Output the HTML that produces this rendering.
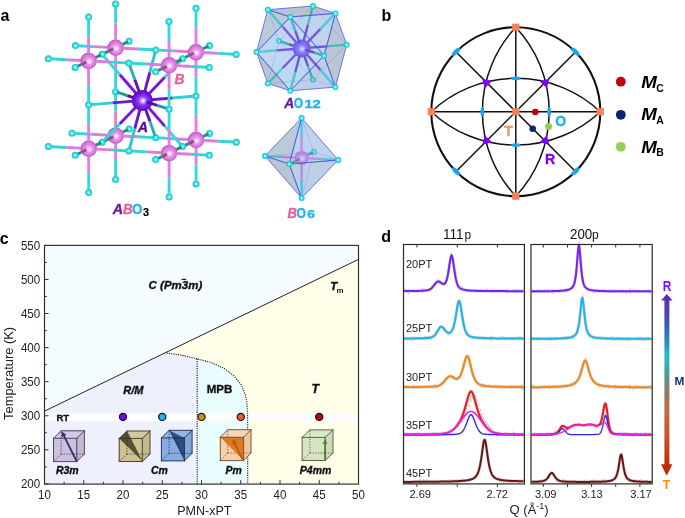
<!DOCTYPE html>
<html><head><meta charset="utf-8"><style>
html,body{margin:0;padding:0;background:#fff;width:685px;height:518px;overflow:hidden;font-family:"Liberation Sans",sans-serif;}
svg{display:block;will-change:transform}
</style></head><body>
<svg width="685" height="518" viewBox="0 0 685 518">
<defs>
<radialGradient id="gA" cx="0.5" cy="0.5" r="0.5" fx="0.54" fy="0.52">
 <stop offset="0" stop-color="#ffffff"/><stop offset="0.12" stop-color="#e2ccff"/><stop offset="0.4" stop-color="#8c40f2"/><stop offset="0.8" stop-color="#6a16d6"/><stop offset="1" stop-color="#5208b0"/></radialGradient>
<radialGradient id="gB" cx="0.5" cy="0.5" r="0.5" fx="0.55" fy="0.55">
 <stop offset="0" stop-color="#ffffff"/><stop offset="0.14" stop-color="#fce2fc"/><stop offset="0.42" stop-color="#ea94ea"/><stop offset="0.8" stop-color="#d674dc"/><stop offset="1" stop-color="#ac56b8"/></radialGradient>
<radialGradient id="gO" cx="0.5" cy="0.5" r="0.5" fx="0.52" fy="0.52">
 <stop offset="0" stop-color="#e8ffff"/><stop offset="0.18" stop-color="#9ff8f8"/><stop offset="0.5" stop-color="#3ae6e6"/><stop offset="1" stop-color="#1ab8c0"/></radialGradient>
<radialGradient id="gA2" cx="0.5" cy="0.5" r="0.5" fx="0.54" fy="0.54">
 <stop offset="0" stop-color="#ffffff"/><stop offset="0.12" stop-color="#e8dcff"/><stop offset="0.4" stop-color="#9460ff"/><stop offset="0.85" stop-color="#6a28ec"/><stop offset="1" stop-color="#5418d0"/></radialGradient>
<radialGradient id="gB2" cx="0.5" cy="0.5" r="0.5" fx="0.55" fy="0.55">
 <stop offset="0" stop-color="#ffffff"/><stop offset="0.15" stop-color="#fce0fc"/><stop offset="0.45" stop-color="#e890ee"/><stop offset="0.85" stop-color="#cc6ad8"/><stop offset="1" stop-color="#b056c4"/></radialGradient>
</defs>
<rect width="685" height="518" fill="#fff"/>
<g id="pa"><circle cx="129.1" cy="129.1" r="3.5" fill="url(#gO)"/>
<line x1="123.1" y1="132.0" x2="128.1" y2="129.5" stroke="#208989" stroke-width="2.9"/>
<circle cx="129.1" cy="41.2" r="3.5" fill="url(#gO)"/>
<line x1="123.1" y1="44.1" x2="128.1" y2="41.7" stroke="#208989" stroke-width="2.9"/>
<line x1="118.0" y1="134.5" x2="123.1" y2="132.0" stroke="#8e4f8e" stroke-width="2.9"/>
<circle cx="72.0" cy="133.2" r="3.5" fill="url(#gO)"/>
<circle cx="209.5" cy="133.4" r="3.5" fill="url(#gO)"/>
<line x1="91.6" y1="134.3" x2="74.9" y2="133.4" stroke="#32d6d6" stroke-width="2.9"/>
<circle cx="115.6" cy="179.5" r="3.5" fill="url(#gO)"/>
<line x1="108.6" y1="135.2" x2="91.6" y2="134.3" stroke="#dd7add" stroke-width="2.9"/>
<line x1="115.6" y1="160.0" x2="115.6" y2="176.3" stroke="#34dada" stroke-width="2.9"/>
<line x1="203.5" y1="136.3" x2="208.6" y2="133.9" stroke="#208989" stroke-width="2.9"/>
<line x1="115.6" y1="143.2" x2="115.6" y2="160.0" stroke="#e27de2" stroke-width="2.9"/>
<line x1="117.9" y1="46.6" x2="123.1" y2="44.1" stroke="#8e4f8e" stroke-width="2.9"/>
<circle cx="75.4" cy="45.6" r="3.5" fill="url(#gO)"/>
<circle cx="115.6" cy="135.6" r="8.2" fill="url(#gB)"/>
<circle cx="209.5" cy="45.6" r="3.5" fill="url(#gO)"/>
<line x1="115.6" y1="128.0" x2="115.6" y2="111.2" stroke="#e27de2" stroke-width="2.9"/>
<line x1="93.3" y1="46.6" x2="78.3" y2="45.7" stroke="#32d6d6" stroke-width="2.9"/>
<line x1="122.6" y1="136.0" x2="137.9" y2="136.8" stroke="#dd7add" stroke-width="2.9"/>
<line x1="115.6" y1="111.2" x2="115.6" y2="94.9" stroke="#34dada" stroke-width="2.9"/>
<circle cx="115.6" cy="91.7" r="3.5" fill="url(#gO)"/>
<line x1="115.6" y1="72.1" x2="115.6" y2="88.5" stroke="#34dada" stroke-width="2.9"/>
<line x1="108.6" y1="47.4" x2="93.3" y2="46.6" stroke="#dd7add" stroke-width="2.9"/>
<line x1="137.9" y1="136.8" x2="152.9" y2="137.6" stroke="#32d6d6" stroke-width="2.9"/>
<line x1="203.5" y1="48.5" x2="208.5" y2="46.1" stroke="#208989" stroke-width="2.9"/>
<line x1="115.6" y1="55.4" x2="115.6" y2="72.1" stroke="#e27de2" stroke-width="2.9"/>
<line x1="198.4" y1="138.8" x2="203.5" y2="136.3" stroke="#8e4f8e" stroke-width="2.9"/>
<circle cx="115.6" cy="47.8" r="8.2" fill="url(#gB)"/>
<circle cx="155.8" cy="137.8" r="3.5" fill="url(#gO)"/>
<line x1="113.3" y1="136.7" x2="108.1" y2="139.2" stroke="#8e4f8e" stroke-width="2.9"/>
<line x1="115.6" y1="40.2" x2="115.6" y2="23.4" stroke="#e27de2" stroke-width="2.9"/>
<line x1="173.8" y1="138.8" x2="158.8" y2="137.9" stroke="#32d6d6" stroke-width="2.9"/>
<line x1="122.6" y1="48.2" x2="137.9" y2="49.0" stroke="#dd7add" stroke-width="2.9"/>
<line x1="115.6" y1="23.4" x2="115.6" y2="7.1" stroke="#34dada" stroke-width="2.9"/>
<line x1="127.4" y1="95.6" x2="117.0" y2="92.1" stroke="#249898" stroke-width="2.9"/>
<circle cx="115.6" cy="3.9" r="3.5" fill="url(#gO)"/>
<circle cx="196.1" cy="183.9" r="3.5" fill="url(#gO)"/>
<line x1="196.1" y1="164.3" x2="196.1" y2="180.7" stroke="#34dada" stroke-width="2.9"/>
<line x1="189.1" y1="139.6" x2="173.8" y2="138.8" stroke="#dd7add" stroke-width="2.9"/>
<line x1="137.9" y1="49.0" x2="152.9" y2="49.8" stroke="#32d6d6" stroke-width="2.9"/>
<line x1="196.1" y1="147.6" x2="196.1" y2="164.3" stroke="#e27de2" stroke-width="2.9"/>
<line x1="149.9" y1="121.3" x2="155.1" y2="135.9" stroke="#29adad" stroke-width="2.9"/>
<line x1="198.4" y1="51.0" x2="203.5" y2="48.5" stroke="#8e4f8e" stroke-width="2.9"/>
<circle cx="155.8" cy="50.0" r="3.5" fill="url(#gO)"/>
<circle cx="196.1" cy="140.0" r="8.2" fill="url(#gB)"/>
<line x1="113.2" y1="48.9" x2="108.1" y2="51.4" stroke="#8e4f8e" stroke-width="2.9"/>
<line x1="196.1" y1="132.4" x2="196.0" y2="115.6" stroke="#e27de2" stroke-width="2.9"/>
<line x1="108.1" y1="139.2" x2="103.1" y2="141.7" stroke="#208989" stroke-width="2.9"/>
<line x1="173.7" y1="50.9" x2="158.7" y2="50.1" stroke="#32d6d6" stroke-width="2.9"/>
<line x1="203.0" y1="140.4" x2="218.4" y2="141.2" stroke="#dd7add" stroke-width="2.9"/>
<line x1="196.0" y1="115.6" x2="196.0" y2="99.3" stroke="#34dada" stroke-width="2.9"/>
<circle cx="196.0" cy="96.1" r="3.5" fill="url(#gO)"/>
<line x1="149.8" y1="72.3" x2="155.1" y2="52.6" stroke="#2fc7c7" stroke-width="2.9"/>
<line x1="196.0" y1="76.5" x2="196.0" y2="92.9" stroke="#34dada" stroke-width="2.9"/>
<line x1="189.0" y1="51.8" x2="173.7" y2="50.9" stroke="#dd7add" stroke-width="2.9"/>
<line x1="218.4" y1="141.2" x2="233.3" y2="142.0" stroke="#32d6d6" stroke-width="2.9"/>
<line x1="196.0" y1="59.8" x2="196.0" y2="76.5" stroke="#e27de2" stroke-width="2.9"/>
<line x1="172.3" y1="98.0" x2="193.3" y2="96.3" stroke="#31cfcf" stroke-width="2.9"/>
<circle cx="102.1" cy="142.2" r="3.5" fill="url(#gO)"/>
<circle cx="196.0" cy="52.2" r="8.2" fill="url(#gB)"/>
<circle cx="236.3" cy="142.2" r="3.5" fill="url(#gO)"/>
<line x1="138.1" y1="99.1" x2="127.4" y2="95.6" stroke="#53119b" stroke-width="2.9"/>
<line x1="193.7" y1="141.1" x2="188.6" y2="143.6" stroke="#8e4f8e" stroke-width="2.9"/>
<line x1="196.0" y1="44.5" x2="196.0" y2="27.8" stroke="#e27de2" stroke-width="2.9"/>
<line x1="108.1" y1="51.4" x2="103.1" y2="53.9" stroke="#208989" stroke-width="2.9"/>
<line x1="144.5" y1="106.3" x2="149.9" y2="121.3" stroke="#5f13b1" stroke-width="2.9"/>
<line x1="119.9" y1="123.7" x2="104.2" y2="140.0" stroke="#32d5d5" stroke-width="2.9"/>
<line x1="203.0" y1="52.5" x2="218.3" y2="53.4" stroke="#dd7add" stroke-width="2.9"/>
<line x1="196.0" y1="27.8" x2="196.0" y2="11.5" stroke="#34dada" stroke-width="2.9"/>
<circle cx="196.0" cy="8.3" r="3.5" fill="url(#gO)"/>
<line x1="144.5" y1="92.5" x2="149.8" y2="72.3" stroke="#6c16ca" stroke-width="2.9"/>
<line x1="218.3" y1="53.4" x2="233.3" y2="54.2" stroke="#32d6d6" stroke-width="2.9"/>
<line x1="96.1" y1="145.1" x2="101.2" y2="142.6" stroke="#208989" stroke-width="2.9"/>
<line x1="150.8" y1="99.7" x2="172.3" y2="98.0" stroke="#7117d3" stroke-width="2.9"/>
<line x1="136.0" y1="107.0" x2="119.9" y2="123.7" stroke="#7417d9" stroke-width="2.9"/>
<circle cx="102.1" cy="54.3" r="3.5" fill="url(#gO)"/>
<circle cx="236.2" cy="54.4" r="3.5" fill="url(#gO)"/>
<line x1="193.7" y1="53.3" x2="188.5" y2="55.8" stroke="#8e4f8e" stroke-width="2.9"/>
<line x1="119.9" y1="74.7" x2="104.2" y2="56.7" stroke="#34dbdb" stroke-width="2.9"/>
<line x1="188.6" y1="143.6" x2="183.6" y2="146.1" stroke="#208989" stroke-width="2.9"/>
<line x1="136.0" y1="93.2" x2="119.9" y2="74.7" stroke="#7818df" stroke-width="2.9"/>
<circle cx="142.3" cy="100.4" r="10.5" fill="url(#gA)"/>
<line x1="148.7" y1="107.7" x2="164.8" y2="126.1" stroke="#7818df" stroke-width="2.9"/>
<line x1="96.1" y1="57.2" x2="101.1" y2="54.8" stroke="#208989" stroke-width="2.9"/>
<line x1="164.8" y1="126.1" x2="180.5" y2="144.2" stroke="#34dbdb" stroke-width="2.9"/>
<line x1="91.0" y1="147.6" x2="96.1" y2="145.1" stroke="#8e4f8e" stroke-width="2.9"/>
<circle cx="48.4" cy="146.5" r="3.5" fill="url(#gO)"/>
<line x1="148.7" y1="93.9" x2="164.7" y2="77.2" stroke="#7417d9" stroke-width="2.9"/>
<circle cx="182.6" cy="146.5" r="3.5" fill="url(#gO)"/>
<line x1="133.9" y1="101.1" x2="112.4" y2="102.9" stroke="#7117d3" stroke-width="2.9"/>
<line x1="188.5" y1="55.8" x2="183.5" y2="58.2" stroke="#208989" stroke-width="2.9"/>
<line x1="66.4" y1="147.5" x2="51.4" y2="146.7" stroke="#32d6d6" stroke-width="2.9"/>
<line x1="140.2" y1="108.4" x2="134.8" y2="128.6" stroke="#6c16ca" stroke-width="2.9"/>
<circle cx="88.7" cy="192.6" r="3.5" fill="url(#gO)"/>
<line x1="88.7" y1="173.1" x2="88.7" y2="189.4" stroke="#34dada" stroke-width="2.9"/>
<line x1="81.7" y1="148.3" x2="66.4" y2="147.5" stroke="#dd7add" stroke-width="2.9"/>
<line x1="164.7" y1="77.2" x2="180.5" y2="60.9" stroke="#32d5d5" stroke-width="2.9"/>
<line x1="140.2" y1="94.6" x2="134.8" y2="79.6" stroke="#5f13b1" stroke-width="2.9"/>
<line x1="176.6" y1="149.4" x2="181.6" y2="147.0" stroke="#208989" stroke-width="2.9"/>
<line x1="88.7" y1="156.3" x2="88.7" y2="173.1" stroke="#e27de2" stroke-width="2.9"/>
<line x1="91.0" y1="59.7" x2="96.1" y2="57.2" stroke="#8e4f8e" stroke-width="2.9"/>
<line x1="146.5" y1="101.8" x2="157.2" y2="105.3" stroke="#53119b" stroke-width="2.9"/>
<line x1="112.4" y1="102.9" x2="91.4" y2="104.6" stroke="#31cfcf" stroke-width="2.9"/>
<circle cx="48.4" cy="58.7" r="3.5" fill="url(#gO)"/>
<circle cx="88.7" cy="148.7" r="8.2" fill="url(#gB)"/>
<circle cx="182.5" cy="58.7" r="3.5" fill="url(#gO)"/>
<line x1="88.7" y1="141.1" x2="88.6" y2="124.3" stroke="#e27de2" stroke-width="2.9"/>
<line x1="66.3" y1="59.7" x2="51.3" y2="58.8" stroke="#32d6d6" stroke-width="2.9"/>
<line x1="95.6" y1="149.1" x2="111.0" y2="149.9" stroke="#dd7add" stroke-width="2.9"/>
<line x1="88.6" y1="124.3" x2="88.6" y2="108.0" stroke="#34dada" stroke-width="2.9"/>
<line x1="134.8" y1="128.6" x2="129.6" y2="148.3" stroke="#2fc7c7" stroke-width="2.9"/>
<circle cx="88.6" cy="104.8" r="3.5" fill="url(#gO)"/>
<line x1="88.6" y1="85.2" x2="88.6" y2="101.6" stroke="#34dada" stroke-width="2.9"/>
<line x1="81.6" y1="60.5" x2="66.3" y2="59.7" stroke="#dd7add" stroke-width="2.9"/>
<line x1="111.0" y1="149.9" x2="125.9" y2="150.7" stroke="#32d6d6" stroke-width="2.9"/>
<line x1="176.5" y1="61.6" x2="181.6" y2="59.2" stroke="#208989" stroke-width="2.9"/>
<line x1="88.6" y1="68.5" x2="88.6" y2="85.2" stroke="#e27de2" stroke-width="2.9"/>
<line x1="171.4" y1="151.9" x2="176.6" y2="149.4" stroke="#8e4f8e" stroke-width="2.9"/>
<circle cx="88.6" cy="60.9" r="8.2" fill="url(#gB)"/>
<circle cx="128.9" cy="150.9" r="3.5" fill="url(#gO)"/>
<line x1="86.3" y1="149.8" x2="81.2" y2="152.3" stroke="#8e4f8e" stroke-width="2.9"/>
<line x1="134.8" y1="79.6" x2="129.5" y2="65.0" stroke="#29adad" stroke-width="2.9"/>
<line x1="88.6" y1="53.3" x2="88.6" y2="36.5" stroke="#e27de2" stroke-width="2.9"/>
<line x1="146.8" y1="151.9" x2="131.8" y2="151.0" stroke="#32d6d6" stroke-width="2.9"/>
<line x1="95.6" y1="61.3" x2="110.9" y2="62.1" stroke="#dd7add" stroke-width="2.9"/>
<line x1="88.6" y1="36.5" x2="88.6" y2="20.2" stroke="#34dada" stroke-width="2.9"/>
<line x1="157.2" y1="105.3" x2="167.7" y2="108.7" stroke="#249898" stroke-width="2.9"/>
<circle cx="88.6" cy="17.0" r="3.5" fill="url(#gO)"/>
<circle cx="169.1" cy="197.0" r="3.5" fill="url(#gO)"/>
<line x1="169.1" y1="177.4" x2="169.1" y2="193.8" stroke="#34dada" stroke-width="2.9"/>
<line x1="162.1" y1="152.7" x2="146.8" y2="151.9" stroke="#dd7add" stroke-width="2.9"/>
<line x1="110.9" y1="62.1" x2="125.9" y2="62.9" stroke="#32d6d6" stroke-width="2.9"/>
<line x1="169.1" y1="160.7" x2="169.1" y2="177.4" stroke="#e27de2" stroke-width="2.9"/>
<line x1="171.4" y1="64.1" x2="176.5" y2="61.6" stroke="#8e4f8e" stroke-width="2.9"/>
<circle cx="128.8" cy="63.1" r="3.5" fill="url(#gO)"/>
<circle cx="169.1" cy="153.1" r="8.2" fill="url(#gB)"/>
<line x1="86.3" y1="62.0" x2="81.1" y2="64.5" stroke="#8e4f8e" stroke-width="2.9"/>
<line x1="169.1" y1="145.5" x2="169.1" y2="128.7" stroke="#e27de2" stroke-width="2.9"/>
<line x1="81.2" y1="152.3" x2="76.2" y2="154.8" stroke="#208989" stroke-width="2.9"/>
<line x1="146.8" y1="64.0" x2="131.8" y2="63.2" stroke="#32d6d6" stroke-width="2.9"/>
<line x1="176.1" y1="153.5" x2="191.4" y2="154.3" stroke="#dd7add" stroke-width="2.9"/>
<line x1="169.1" y1="128.7" x2="169.1" y2="112.4" stroke="#34dada" stroke-width="2.9"/>
<circle cx="169.1" cy="109.2" r="3.5" fill="url(#gO)"/>
<line x1="169.1" y1="89.6" x2="169.1" y2="106.0" stroke="#34dada" stroke-width="2.9"/>
<line x1="162.1" y1="64.9" x2="146.8" y2="64.0" stroke="#dd7add" stroke-width="2.9"/>
<line x1="191.4" y1="154.3" x2="206.4" y2="155.1" stroke="#32d6d6" stroke-width="2.9"/>
<line x1="169.1" y1="72.9" x2="169.1" y2="89.6" stroke="#e27de2" stroke-width="2.9"/>
<circle cx="75.2" cy="155.2" r="3.5" fill="url(#gO)"/>
<circle cx="169.1" cy="65.3" r="8.2" fill="url(#gB)"/>
<circle cx="209.3" cy="155.3" r="3.5" fill="url(#gO)"/>
<line x1="166.8" y1="154.2" x2="161.6" y2="156.7" stroke="#8e4f8e" stroke-width="2.9"/>
<line x1="169.1" y1="57.6" x2="169.0" y2="40.9" stroke="#e27de2" stroke-width="2.9"/>
<line x1="81.1" y1="64.5" x2="76.1" y2="67.0" stroke="#208989" stroke-width="2.9"/>
<line x1="176.0" y1="65.6" x2="191.4" y2="66.5" stroke="#dd7add" stroke-width="2.9"/>
<line x1="169.0" y1="40.9" x2="169.0" y2="24.6" stroke="#34dada" stroke-width="2.9"/>
<circle cx="169.0" cy="21.4" r="3.5" fill="url(#gO)"/>
<line x1="191.4" y1="66.5" x2="206.3" y2="67.3" stroke="#32d6d6" stroke-width="2.9"/>
<circle cx="75.1" cy="67.4" r="3.5" fill="url(#gO)"/>
<circle cx="209.3" cy="67.5" r="3.5" fill="url(#gO)"/>
<line x1="166.7" y1="66.4" x2="161.6" y2="68.9" stroke="#8e4f8e" stroke-width="2.9"/>
<line x1="161.6" y1="156.7" x2="156.6" y2="159.2" stroke="#208989" stroke-width="2.9"/>
<circle cx="155.6" cy="159.6" r="3.5" fill="url(#gO)"/>
<line x1="161.6" y1="68.9" x2="156.6" y2="71.3" stroke="#208989" stroke-width="2.9"/>
<circle cx="155.6" cy="71.8" r="3.5" fill="url(#gO)"/>
<polygon points="267.8,83.4 279.1,41.1 267.8,9.7 256.5,52.1" fill="#a8b4c8" fill-opacity="0.25" stroke="#3c50ec" stroke-opacity="0.22" stroke-width="0.6" stroke-linejoin="round"/>
<polygon points="312.9,79.8 346.7,44.7 312.9,6.0 279.1,41.1" fill="#a8b4c8" fill-opacity="0.25" stroke="#3c50ec" stroke-opacity="0.22" stroke-width="0.6" stroke-linejoin="round"/>
<polygon points="290.3,90.8 335.4,87.1 312.9,79.8 267.8,83.4" fill="#a8b4c8" fill-opacity="0.25" stroke="#3c50ec" stroke-opacity="0.22" stroke-width="0.6" stroke-linejoin="round"/>
<polygon points="312.9,79.8 267.8,83.4 279.1,41.1" fill="#a8b4c8" fill-opacity="0.25" stroke="#3c50ec" stroke-opacity="0.22" stroke-width="0.6" stroke-linejoin="round"/>
<polygon points="312.9,6.0 267.8,9.7 279.1,41.1" fill="#a8b4c8" fill-opacity="0.25" stroke="#3c50ec" stroke-opacity="0.22" stroke-width="0.6" stroke-linejoin="round"/>
<polygon points="312.9,79.8 335.4,87.1 346.7,44.7" fill="#a8b4c8" fill-opacity="0.25" stroke="#3c50ec" stroke-opacity="0.22" stroke-width="0.6" stroke-linejoin="round"/>
<polygon points="312.9,6.0 335.4,13.4 346.7,44.7" fill="#a8b4c8" fill-opacity="0.25" stroke="#3c50ec" stroke-opacity="0.22" stroke-width="0.6" stroke-linejoin="round"/>
<circle cx="279.1" cy="41.1" r="3.0" fill="url(#gO)"/>
<circle cx="312.9" cy="79.8" r="3.0" fill="url(#gO)"/>
<line x1="289.1" y1="44.3" x2="280.3" y2="41.4" stroke="#249898" stroke-width="2.4"/>
<line x1="307.9" y1="65.9" x2="312.3" y2="78.1" stroke="#29adad" stroke-width="2.4"/>
<line x1="307.9" y1="24.7" x2="312.3" y2="8.3" stroke="#2fc7c7" stroke-width="2.4"/>
<line x1="326.8" y1="46.4" x2="344.3" y2="44.9" stroke="#31cfcf" stroke-width="2.4"/>
<line x1="298.0" y1="47.2" x2="289.1" y2="44.3" stroke="#53119b" stroke-width="2.4"/>
<line x1="303.4" y1="53.4" x2="307.9" y2="65.9" stroke="#5f13b1" stroke-width="2.4"/>
<line x1="282.7" y1="68.0" x2="269.6" y2="81.6" stroke="#32d5d5" stroke-width="2.4"/>
<line x1="303.4" y1="41.6" x2="307.9" y2="24.7" stroke="#6c16ca" stroke-width="2.4"/>
<line x1="308.9" y1="47.8" x2="326.8" y2="46.4" stroke="#7117d3" stroke-width="2.4"/>
<line x1="296.2" y1="54.0" x2="282.7" y2="68.0" stroke="#7417d9" stroke-width="2.4"/>
<line x1="282.7" y1="26.8" x2="269.6" y2="11.7" stroke="#34dbdb" stroke-width="2.4"/>
<line x1="296.2" y1="42.2" x2="282.7" y2="26.8" stroke="#7818df" stroke-width="2.4"/>
<circle cx="301.6" cy="48.4" r="9.0" fill="url(#gA2)"/>
<line x1="307.0" y1="54.6" x2="320.5" y2="70.0" stroke="#7818df" stroke-width="2.4"/>
<line x1="320.5" y1="70.0" x2="333.6" y2="85.1" stroke="#34dbdb" stroke-width="2.4"/>
<line x1="307.0" y1="42.8" x2="320.5" y2="28.8" stroke="#7417d9" stroke-width="2.4"/>
<line x1="294.3" y1="49.0" x2="276.4" y2="50.4" stroke="#7117d3" stroke-width="2.4"/>
<line x1="299.8" y1="55.2" x2="295.3" y2="72.1" stroke="#6c16ca" stroke-width="2.4"/>
<line x1="320.5" y1="28.8" x2="333.6" y2="15.2" stroke="#32d5d5" stroke-width="2.4"/>
<line x1="299.8" y1="43.4" x2="295.3" y2="30.9" stroke="#5f13b1" stroke-width="2.4"/>
<line x1="305.2" y1="49.6" x2="314.1" y2="52.5" stroke="#53119b" stroke-width="2.4"/>
<line x1="276.4" y1="50.4" x2="258.9" y2="51.9" stroke="#31cfcf" stroke-width="2.4"/>
<line x1="295.3" y1="72.1" x2="290.9" y2="88.5" stroke="#2fc7c7" stroke-width="2.4"/>
<line x1="295.3" y1="30.9" x2="290.9" y2="18.7" stroke="#29adad" stroke-width="2.4"/>
<line x1="314.1" y1="52.5" x2="322.9" y2="55.4" stroke="#249898" stroke-width="2.4"/>
<polygon points="335.4,87.1 346.7,44.7 335.4,13.4 324.1,55.7" fill="#738eab" fill-opacity="0.4" stroke="#3c50ec" stroke-opacity="0.9" stroke-width="0.75" stroke-linejoin="round"/>
<polygon points="290.3,90.8 324.1,55.7 290.3,17.0 256.5,52.1" fill="#82b8f0" fill-opacity="0.4" stroke="#3c50ec" stroke-opacity="0.9" stroke-width="0.75" stroke-linejoin="round"/>
<polygon points="290.3,17.0 335.4,13.4 312.9,6.0 267.8,9.7" fill="#70869e" fill-opacity="0.4" stroke="#3c50ec" stroke-opacity="0.9" stroke-width="0.75" stroke-linejoin="round"/>
<polygon points="290.3,90.8 267.8,83.4 256.5,52.1" fill="#728ba6" fill-opacity="0.4" stroke="#3c50ec" stroke-opacity="0.9" stroke-width="0.75" stroke-linejoin="round"/>
<polygon points="290.3,17.0 267.8,9.7 256.5,52.1" fill="#7698bb" fill-opacity="0.4" stroke="#3c50ec" stroke-opacity="0.9" stroke-width="0.75" stroke-linejoin="round"/>
<polygon points="290.3,90.8 335.4,87.1 324.1,55.7" fill="#7ba5d1" fill-opacity="0.4" stroke="#3c50ec" stroke-opacity="0.9" stroke-width="0.75" stroke-linejoin="round"/>
<polygon points="290.3,17.0 335.4,13.4 324.1,55.7" fill="#80b2e6" fill-opacity="0.4" stroke="#3c50ec" stroke-opacity="0.9" stroke-width="0.75" stroke-linejoin="round"/>
<circle cx="312.9" cy="6.0" r="3.0" fill="url(#gO)"/>
<circle cx="346.7" cy="44.7" r="3.0" fill="url(#gO)"/>
<circle cx="267.8" cy="83.4" r="3.0" fill="url(#gO)"/>
<circle cx="267.8" cy="9.7" r="3.0" fill="url(#gO)"/>
<circle cx="335.4" cy="87.1" r="3.0" fill="url(#gO)"/>
<circle cx="335.4" cy="13.4" r="3.0" fill="url(#gO)"/>
<circle cx="256.5" cy="52.1" r="3.0" fill="url(#gO)"/>
<circle cx="290.3" cy="90.8" r="3.0" fill="url(#gO)"/>
<circle cx="290.3" cy="17.0" r="3.0" fill="url(#gO)"/>
<circle cx="324.1" cy="55.7" r="3.0" fill="url(#gO)"/>
<polygon points="265.0,156.0 313.9,152.0 301.6,198.0" fill="#a8b4c8" fill-opacity="0.25" stroke="#3c50ec" stroke-opacity="0.22" stroke-width="0.6" stroke-linejoin="round"/>
<polygon points="265.0,156.0 313.9,152.0 301.6,118.0" fill="#a8b4c8" fill-opacity="0.25" stroke="#3c50ec" stroke-opacity="0.22" stroke-width="0.6" stroke-linejoin="round"/>
<polygon points="338.2,160.0 313.9,152.0 301.6,198.0" fill="#a8b4c8" fill-opacity="0.25" stroke="#3c50ec" stroke-opacity="0.22" stroke-width="0.6" stroke-linejoin="round"/>
<polygon points="338.2,160.0 313.9,152.0 301.6,118.0" fill="#a8b4c8" fill-opacity="0.25" stroke="#3c50ec" stroke-opacity="0.22" stroke-width="0.6" stroke-linejoin="round"/>
<circle cx="313.9" cy="152.0" r="3.0" fill="url(#gO)"/>
<line x1="308.4" y1="154.7" x2="313.0" y2="152.5" stroke="#208989" stroke-width="2.4"/>
<line x1="303.6" y1="157.0" x2="308.4" y2="154.7" stroke="#8e4f8e" stroke-width="2.4"/>
<line x1="281.4" y1="156.9" x2="267.5" y2="156.1" stroke="#32d6d6" stroke-width="2.4"/>
<line x1="301.6" y1="180.0" x2="301.6" y2="195.2" stroke="#34dada" stroke-width="2.4"/>
<line x1="295.6" y1="157.7" x2="281.4" y2="156.9" stroke="#dd7add" stroke-width="2.4"/>
<line x1="301.6" y1="164.5" x2="301.6" y2="180.0" stroke="#e27de2" stroke-width="2.4"/>
<circle cx="301.6" cy="158.0" r="7.1" fill="url(#gB2)"/>
<line x1="301.6" y1="151.5" x2="301.6" y2="136.0" stroke="#e27de2" stroke-width="2.4"/>
<line x1="307.6" y1="158.3" x2="321.8" y2="159.1" stroke="#dd7add" stroke-width="2.4"/>
<line x1="301.6" y1="136.0" x2="301.6" y2="120.8" stroke="#34dada" stroke-width="2.4"/>
<line x1="321.8" y1="159.1" x2="335.7" y2="159.9" stroke="#32d6d6" stroke-width="2.4"/>
<line x1="299.6" y1="159.0" x2="294.8" y2="161.3" stroke="#8e4f8e" stroke-width="2.4"/>
<line x1="294.8" y1="161.3" x2="290.2" y2="163.5" stroke="#208989" stroke-width="2.4"/>
<polygon points="265.0,156.0 289.3,164.0 301.6,198.0" fill="#728ba6" fill-opacity="0.4" stroke="#3c50ec" stroke-opacity="0.9" stroke-width="0.75" stroke-linejoin="round"/>
<polygon points="265.0,156.0 289.3,164.0 301.6,118.0" fill="#7698bb" fill-opacity="0.4" stroke="#3c50ec" stroke-opacity="0.9" stroke-width="0.75" stroke-linejoin="round"/>
<polygon points="338.2,160.0 289.3,164.0 301.6,198.0" fill="#7ba5d1" fill-opacity="0.4" stroke="#3c50ec" stroke-opacity="0.9" stroke-width="0.75" stroke-linejoin="round"/>
<polygon points="338.2,160.0 289.3,164.0 301.6,118.0" fill="#80b2e6" fill-opacity="0.4" stroke="#3c50ec" stroke-opacity="0.9" stroke-width="0.75" stroke-linejoin="round"/>
<circle cx="265.0" cy="156.0" r="3.0" fill="url(#gO)"/>
<circle cx="301.6" cy="198.0" r="3.0" fill="url(#gO)"/>
<circle cx="301.6" cy="118.0" r="3.0" fill="url(#gO)"/>
<circle cx="338.2" cy="160.0" r="3.0" fill="url(#gO)"/>
<circle cx="289.3" cy="164.0" r="3.0" fill="url(#gO)"/></g>
<g id="pb"><line x1="431.30" y1="111.70" x2="600.30" y2="111.70" stroke="#111" stroke-width="1.5"/>
<line x1="515.80" y1="27.20" x2="515.80" y2="196.20" stroke="#111" stroke-width="1.5"/>
<line x1="456.05" y1="51.95" x2="575.55" y2="171.45" stroke="#111" stroke-width="1.5"/>
<line x1="456.05" y1="171.45" x2="575.55" y2="51.95" stroke="#111" stroke-width="1.5"/>
<path d="M515.80,27.20 A123.59,123.59 0 0 0 515.80,196.20" fill="none" stroke="#111" stroke-width="1.5"/>
<path d="M515.80,27.20 A123.59,123.59 0 0 1 515.80,196.20" fill="none" stroke="#111" stroke-width="1.5"/>
<path d="M431.30,111.70 A123.59,123.59 0 0 1 600.30,111.70" fill="none" stroke="#111" stroke-width="1.5"/>
<path d="M431.30,111.70 A123.59,123.59 0 0 0 600.30,111.70" fill="none" stroke="#111" stroke-width="1.5"/>
<circle cx="515.80" cy="111.70" r="84.50" fill="none" stroke="#111" stroke-width="2.1"/>
<ellipse cx="575.55" cy="51.95" rx="5.1" ry="2.3" fill="#1aa6ea" transform="rotate(-135 575.55 51.95)"/>
<ellipse cx="456.05" cy="51.95" rx="5.1" ry="2.3" fill="#1aa6ea" transform="rotate(-225 456.05 51.95)"/>
<ellipse cx="456.05" cy="171.45" rx="5.1" ry="2.3" fill="#1aa6ea" transform="rotate(-315 456.05 171.45)"/>
<ellipse cx="575.55" cy="171.45" rx="5.1" ry="2.3" fill="#1aa6ea" transform="rotate(-405 575.55 171.45)"/>
<ellipse cx="515.80" cy="78.30" rx="4.8" ry="1.9" fill="#1aa6ea"/>
<ellipse cx="515.80" cy="145.10" rx="4.8" ry="1.9" fill="#1aa6ea"/>
<ellipse cx="482.40" cy="111.70" rx="1.9" ry="4.8" fill="#1aa6ea"/>
<ellipse cx="549.20" cy="111.70" rx="1.9" ry="4.8" fill="#1aa6ea"/>
<rect x="512.20" y="108.10" width="7.2" height="7.2" fill="#fb8058"/>
<rect x="427.70" y="108.10" width="7.2" height="7.2" fill="#fb8058"/>
<rect x="596.70" y="108.10" width="7.2" height="7.2" fill="#fb8058"/>
<rect x="512.20" y="23.60" width="7.2" height="7.2" fill="#fb8058"/>
<rect x="512.20" y="192.60" width="7.2" height="7.2" fill="#fb8058"/>
<polygon points="482.27,78.67 491.81,81.22 484.82,88.21" fill="#7a00ff"/>
<polygon points="482.27,144.73 484.82,135.19 491.81,142.18" fill="#7a00ff"/>
<polygon points="549.33,78.67 546.78,88.21 539.79,81.22" fill="#7a00ff"/>
<polygon points="549.33,144.73 539.79,142.18 546.78,135.19" fill="#7a00ff"/>
<circle cx="535.3" cy="112.0" r="3.3" fill="#c00010"/>
<circle cx="532.7" cy="128.7" r="3.3" fill="#0a2470"/>
<circle cx="548.5" cy="126.6" r="3.5" fill="#8ed050"/>
<circle cx="620.8" cy="81.7" r="4.9" fill="#c00010"/>
<circle cx="620.8" cy="114.8" r="4.9" fill="#0a2470"/>
<circle cx="620.8" cy="146.8" r="4.9" fill="#8ed050"/></g>
<g id="pc"><rect x="44.5" y="245.4" width="314.0" height="238.70000000000002" fill="#f5fcff"/>
<polygon points="44.5,411.1 358.5,259.4 358.5,484.1 44.5,484.1" fill="#fefee9"/>
<polygon points="44.5,411.1 166.6,353.0 181.9,355.2 197.2,358.9 197.2,484.1 44.5,484.1" fill="#eef0fc"/>
<polygon points="197.2,358.9 211.1,362.5 224.2,368.4 234.5,376.4 241.0,384.4 245.4,394.6 246.9,403.4 247.6,413.6 247.7,430 247.7,484.1 197.2,484.1" fill="#e9fcfe"/>
<rect x="44.5" y="412.9" width="314.0" height="8.0" fill="#fdfdff"/>
<line x1="44.5" y1="411.1" x2="358.5" y2="259.4" stroke="#222" stroke-width="1"/>
<polyline points="166.6,353.0 181.9,355.2 197.2,358.9 211.1,362.5 224.2,368.4 234.5,376.4 241.0,384.4 245.4,394.6 246.9,403.4 247.6,413.6 247.7,430 247.7,484.1" fill="none" stroke="#111" stroke-width="1.1" stroke-dasharray="1.1,1.2"/>
<line x1="197.2" y1="358.9" x2="197.2" y2="484.1" stroke="#111" stroke-width="1.1" stroke-dasharray="1.1,1.2"/>
<polygon points="53.50,438.30 61.10,430.80 84.40,430.80 84.40,454.10 76.80,461.60 53.50,461.60" fill="#cbc1de"/>
<polygon points="53.50,438.30 61.10,430.80 84.40,430.80 76.80,438.30" fill="#ffffff" fill-opacity="0.12"/>
<polygon points="76.80,438.30 84.40,430.80 84.40,454.10 76.80,461.60" fill="#000000" fill-opacity="0.04"/>
<line x1="61.10" y1="454.10" x2="61.10" y2="430.80" stroke="#3e3452" stroke-width="0.8" stroke-dasharray="1.3,1.3"/>
<line x1="61.10" y1="454.10" x2="84.40" y2="454.10" stroke="#3e3452" stroke-width="0.8" stroke-dasharray="1.3,1.3"/>
<line x1="61.10" y1="454.10" x2="53.50" y2="461.60" stroke="#3e3452" stroke-width="0.8" stroke-dasharray="1.3,1.3"/>
<line x1="76.80" y1="461.60" x2="64.07" y2="436.22" stroke="#3a2a6e" stroke-width="1.8"/><polygon points="61.60,431.30 66.39,435.05 61.74,437.38" fill="#3a2a6e"/>
<line x1="53.50" y1="438.30" x2="76.80" y2="438.30" stroke="#3e3452" stroke-width="0.9" stroke-linecap="round"/>
<line x1="76.80" y1="438.30" x2="76.80" y2="461.60" stroke="#3e3452" stroke-width="0.9" stroke-linecap="round"/>
<line x1="76.80" y1="461.60" x2="53.50" y2="461.60" stroke="#3e3452" stroke-width="0.9" stroke-linecap="round"/>
<line x1="53.50" y1="461.60" x2="53.50" y2="438.30" stroke="#3e3452" stroke-width="0.9" stroke-linecap="round"/>
<line x1="53.50" y1="438.30" x2="61.10" y2="430.80" stroke="#3e3452" stroke-width="0.9" stroke-linecap="round"/>
<line x1="76.80" y1="438.30" x2="84.40" y2="430.80" stroke="#3e3452" stroke-width="0.9" stroke-linecap="round"/>
<line x1="76.80" y1="461.60" x2="84.40" y2="454.10" stroke="#3e3452" stroke-width="0.9" stroke-linecap="round"/>
<line x1="61.10" y1="430.80" x2="84.40" y2="430.80" stroke="#3e3452" stroke-width="0.9" stroke-linecap="round"/>
<line x1="84.40" y1="430.80" x2="84.40" y2="454.10" stroke="#3e3452" stroke-width="0.9" stroke-linecap="round"/>
<polygon points="119.20,438.40 126.90,431.00 150.00,431.00 150.00,454.10 142.30,461.50 119.20,461.50" fill="#cdc295"/>
<polygon points="119.20,438.40 126.90,431.00 150.00,431.00 142.30,438.40" fill="#ffffff" fill-opacity="0.12"/>
<polygon points="142.30,438.40 150.00,431.00 150.00,454.10 142.30,461.50" fill="#000000" fill-opacity="0.04"/>
<line x1="126.90" y1="454.10" x2="126.90" y2="431.00" stroke="#3a3420" stroke-width="0.8" stroke-dasharray="1.3,1.3"/>
<line x1="126.90" y1="454.10" x2="150.00" y2="454.10" stroke="#3a3420" stroke-width="0.8" stroke-dasharray="1.3,1.3"/>
<line x1="126.90" y1="454.10" x2="119.20" y2="461.50" stroke="#3a3420" stroke-width="0.8" stroke-dasharray="1.3,1.3"/>
<polygon points="127.0,431.0 119.2,438.4 142.4,461.1" fill="#2e2a14" fill-opacity="0.75"/><polygon points="127.0,431.0 130.5,438.4 142.4,461.1" fill="#2e2a14" fill-opacity="0.45"/>
<line x1="119.20" y1="438.40" x2="142.30" y2="438.40" stroke="#3a3420" stroke-width="0.9" stroke-linecap="round"/>
<line x1="142.30" y1="438.40" x2="142.30" y2="461.50" stroke="#3a3420" stroke-width="0.9" stroke-linecap="round"/>
<line x1="142.30" y1="461.50" x2="119.20" y2="461.50" stroke="#3a3420" stroke-width="0.9" stroke-linecap="round"/>
<line x1="119.20" y1="461.50" x2="119.20" y2="438.40" stroke="#3a3420" stroke-width="0.9" stroke-linecap="round"/>
<line x1="119.20" y1="438.40" x2="126.90" y2="431.00" stroke="#3a3420" stroke-width="0.9" stroke-linecap="round"/>
<line x1="142.30" y1="438.40" x2="150.00" y2="431.00" stroke="#3a3420" stroke-width="0.9" stroke-linecap="round"/>
<line x1="142.30" y1="461.50" x2="150.00" y2="454.10" stroke="#3a3420" stroke-width="0.9" stroke-linecap="round"/>
<line x1="126.90" y1="431.00" x2="150.00" y2="431.00" stroke="#3a3420" stroke-width="0.9" stroke-linecap="round"/>
<line x1="150.00" y1="431.00" x2="150.00" y2="454.10" stroke="#3a3420" stroke-width="0.9" stroke-linecap="round"/>
<polygon points="161.40,437.90 169.10,430.30 192.10,430.30 192.10,453.30 184.40,460.90 161.40,460.90" fill="#86ace2"/>
<polygon points="161.40,437.90 169.10,430.30 192.10,430.30 184.40,437.90" fill="#ffffff" fill-opacity="0.12"/>
<polygon points="184.40,437.90 192.10,430.30 192.10,453.30 184.40,460.90" fill="#000000" fill-opacity="0.04"/>
<line x1="169.10" y1="453.30" x2="169.10" y2="430.30" stroke="#1d2d4a" stroke-width="0.8" stroke-dasharray="1.3,1.3"/>
<line x1="169.10" y1="453.30" x2="192.10" y2="453.30" stroke="#1d2d4a" stroke-width="0.8" stroke-dasharray="1.3,1.3"/>
<line x1="169.10" y1="453.30" x2="161.40" y2="460.90" stroke="#1d2d4a" stroke-width="0.8" stroke-dasharray="1.3,1.3"/>
<polygon points="169.2,430.3 184.4,437.9 184.4,460.6" fill="#0e2a58" fill-opacity="0.72"/><polygon points="169.2,430.3 176.0,437.9 184.4,460.6" fill="#0e2a58" fill-opacity="0.35"/>
<line x1="161.40" y1="437.90" x2="184.40" y2="437.90" stroke="#1d2d4a" stroke-width="0.9" stroke-linecap="round"/>
<line x1="184.40" y1="437.90" x2="184.40" y2="460.90" stroke="#1d2d4a" stroke-width="0.9" stroke-linecap="round"/>
<line x1="184.40" y1="460.90" x2="161.40" y2="460.90" stroke="#1d2d4a" stroke-width="0.9" stroke-linecap="round"/>
<line x1="161.40" y1="460.90" x2="161.40" y2="437.90" stroke="#1d2d4a" stroke-width="0.9" stroke-linecap="round"/>
<line x1="161.40" y1="437.90" x2="169.10" y2="430.30" stroke="#1d2d4a" stroke-width="0.9" stroke-linecap="round"/>
<line x1="184.40" y1="437.90" x2="192.10" y2="430.30" stroke="#1d2d4a" stroke-width="0.9" stroke-linecap="round"/>
<line x1="184.40" y1="460.90" x2="192.10" y2="453.30" stroke="#1d2d4a" stroke-width="0.9" stroke-linecap="round"/>
<line x1="169.10" y1="430.30" x2="192.10" y2="430.30" stroke="#1d2d4a" stroke-width="0.9" stroke-linecap="round"/>
<line x1="192.10" y1="430.30" x2="192.10" y2="453.30" stroke="#1d2d4a" stroke-width="0.9" stroke-linecap="round"/>
<polygon points="220.30,437.30 227.70,429.70 251.00,429.70 251.00,453.00 243.60,460.60 220.30,460.60" fill="#f9cfa9"/>
<polygon points="220.30,437.30 227.70,429.70 251.00,429.70 243.60,437.30" fill="#ffffff" fill-opacity="0.12"/>
<polygon points="243.60,437.30 251.00,429.70 251.00,453.00 243.60,460.60" fill="#000000" fill-opacity="0.04"/>
<line x1="227.70" y1="453.00" x2="227.70" y2="429.70" stroke="#6a4a30" stroke-width="0.8" stroke-dasharray="1.3,1.3"/>
<line x1="227.70" y1="453.00" x2="251.00" y2="453.00" stroke="#6a4a30" stroke-width="0.8" stroke-dasharray="1.3,1.3"/>
<line x1="227.70" y1="453.00" x2="220.30" y2="460.60" stroke="#6a4a30" stroke-width="0.8" stroke-dasharray="1.3,1.3"/>
<polygon points="220.3,437.3 243.6,437.3 243.6,460.5" fill="#e07a22"/><line x1="242.60" y1="459.50" x2="234.71" y2="443.49" stroke="#a85812" stroke-width="1.6"/><polygon points="232.50,439.00 236.86,442.42 232.56,444.55" fill="#a85812"/>
<line x1="220.30" y1="437.30" x2="243.60" y2="437.30" stroke="#6a4a30" stroke-width="0.9" stroke-linecap="round"/>
<line x1="243.60" y1="437.30" x2="243.60" y2="460.60" stroke="#6a4a30" stroke-width="0.9" stroke-linecap="round"/>
<line x1="243.60" y1="460.60" x2="220.30" y2="460.60" stroke="#6a4a30" stroke-width="0.9" stroke-linecap="round"/>
<line x1="220.30" y1="460.60" x2="220.30" y2="437.30" stroke="#6a4a30" stroke-width="0.9" stroke-linecap="round"/>
<line x1="220.30" y1="437.30" x2="227.70" y2="429.70" stroke="#6a4a30" stroke-width="0.9" stroke-linecap="round"/>
<line x1="243.60" y1="437.30" x2="251.00" y2="429.70" stroke="#6a4a30" stroke-width="0.9" stroke-linecap="round"/>
<line x1="243.60" y1="460.60" x2="251.00" y2="453.00" stroke="#6a4a30" stroke-width="0.9" stroke-linecap="round"/>
<line x1="227.70" y1="429.70" x2="251.00" y2="429.70" stroke="#6a4a30" stroke-width="0.9" stroke-linecap="round"/>
<line x1="251.00" y1="429.70" x2="251.00" y2="453.00" stroke="#6a4a30" stroke-width="0.9" stroke-linecap="round"/>
<polygon points="302.10,437.40 309.90,429.90 333.00,429.90 333.00,453.00 325.20,460.50 302.10,460.50" fill="#d6e4c2"/>
<polygon points="302.10,437.40 309.90,429.90 333.00,429.90 325.20,437.40" fill="#ffffff" fill-opacity="0.12"/>
<polygon points="325.20,437.40 333.00,429.90 333.00,453.00 325.20,460.50" fill="#000000" fill-opacity="0.04"/>
<line x1="309.90" y1="453.00" x2="309.90" y2="429.90" stroke="#4a5a3a" stroke-width="0.8" stroke-dasharray="1.3,1.3"/>
<line x1="309.90" y1="453.00" x2="333.00" y2="453.00" stroke="#4a5a3a" stroke-width="0.8" stroke-dasharray="1.3,1.3"/>
<line x1="309.90" y1="453.00" x2="302.10" y2="460.50" stroke="#4a5a3a" stroke-width="0.8" stroke-dasharray="1.3,1.3"/>
<line x1="325.00" y1="459.50" x2="325.00" y2="444.00" stroke="#6e9a3e" stroke-width="1.8"/><polygon points="325.00,438.50 327.60,444.00 322.40,444.00" fill="#6e9a3e"/>
<line x1="302.10" y1="437.40" x2="325.20" y2="437.40" stroke="#4a5a3a" stroke-width="0.9" stroke-linecap="round"/>
<line x1="325.20" y1="437.40" x2="325.20" y2="460.50" stroke="#4a5a3a" stroke-width="0.9" stroke-linecap="round"/>
<line x1="325.20" y1="460.50" x2="302.10" y2="460.50" stroke="#4a5a3a" stroke-width="0.9" stroke-linecap="round"/>
<line x1="302.10" y1="460.50" x2="302.10" y2="437.40" stroke="#4a5a3a" stroke-width="0.9" stroke-linecap="round"/>
<line x1="302.10" y1="437.40" x2="309.90" y2="429.90" stroke="#4a5a3a" stroke-width="0.9" stroke-linecap="round"/>
<line x1="325.20" y1="437.40" x2="333.00" y2="429.90" stroke="#4a5a3a" stroke-width="0.9" stroke-linecap="round"/>
<line x1="325.20" y1="460.50" x2="333.00" y2="453.00" stroke="#4a5a3a" stroke-width="0.9" stroke-linecap="round"/>
<line x1="309.90" y1="429.90" x2="333.00" y2="429.90" stroke="#4a5a3a" stroke-width="0.9" stroke-linecap="round"/>
<line x1="333.00" y1="429.90" x2="333.00" y2="453.00" stroke="#4a5a3a" stroke-width="0.9" stroke-linecap="round"/>
<circle cx="123.00" cy="416.9" r="3.6" fill="#7a00f0" stroke="#111" stroke-width="1.2"/>
<circle cx="162.25" cy="416.9" r="3.6" fill="#1ab2f2" stroke="#111" stroke-width="1.2"/>
<circle cx="201.50" cy="416.9" r="3.6" fill="#d8901c" stroke="#111" stroke-width="1.2"/>
<circle cx="240.75" cy="416.9" r="3.6" fill="#f25530" stroke="#111" stroke-width="1.2"/>
<circle cx="319.25" cy="416.9" r="3.6" fill="#c00010" stroke="#111" stroke-width="1.2"/>
<rect x="44.5" y="245.4" width="314.0" height="238.70000000000002" fill="none" stroke="#2a2a2a" stroke-width="1.15"/>
<line x1="44.50" y1="484.1" x2="44.50" y2="480.1" stroke="#333" stroke-width="1"/>
<line x1="83.75" y1="484.1" x2="83.75" y2="480.1" stroke="#333" stroke-width="1"/>
<line x1="123.00" y1="484.1" x2="123.00" y2="480.1" stroke="#333" stroke-width="1"/>
<line x1="162.25" y1="484.1" x2="162.25" y2="480.1" stroke="#333" stroke-width="1"/>
<line x1="201.50" y1="484.1" x2="201.50" y2="480.1" stroke="#333" stroke-width="1"/>
<line x1="240.75" y1="484.1" x2="240.75" y2="480.1" stroke="#333" stroke-width="1"/>
<line x1="280.00" y1="484.1" x2="280.00" y2="480.1" stroke="#333" stroke-width="1"/>
<line x1="319.25" y1="484.1" x2="319.25" y2="480.1" stroke="#333" stroke-width="1"/>
<line x1="358.50" y1="484.1" x2="358.50" y2="480.1" stroke="#333" stroke-width="1"/>
<line x1="64.12" y1="484.1" x2="64.12" y2="481.8" stroke="#333" stroke-width="1"/>
<line x1="103.38" y1="484.1" x2="103.38" y2="481.8" stroke="#333" stroke-width="1"/>
<line x1="142.62" y1="484.1" x2="142.62" y2="481.8" stroke="#333" stroke-width="1"/>
<line x1="181.88" y1="484.1" x2="181.88" y2="481.8" stroke="#333" stroke-width="1"/>
<line x1="221.12" y1="484.1" x2="221.12" y2="481.8" stroke="#333" stroke-width="1"/>
<line x1="260.38" y1="484.1" x2="260.38" y2="481.8" stroke="#333" stroke-width="1"/>
<line x1="299.62" y1="484.1" x2="299.62" y2="481.8" stroke="#333" stroke-width="1"/>
<line x1="338.88" y1="484.1" x2="338.88" y2="481.8" stroke="#333" stroke-width="1"/>
<line x1="44.5" y1="483.89" x2="48.5" y2="483.89" stroke="#333" stroke-width="1"/>
<line x1="44.5" y1="449.82" x2="48.5" y2="449.82" stroke="#333" stroke-width="1"/>
<line x1="44.5" y1="415.75" x2="48.5" y2="415.75" stroke="#333" stroke-width="1"/>
<line x1="44.5" y1="381.68" x2="48.5" y2="381.68" stroke="#333" stroke-width="1"/>
<line x1="44.5" y1="347.61" x2="48.5" y2="347.61" stroke="#333" stroke-width="1"/>
<line x1="44.5" y1="313.54" x2="48.5" y2="313.54" stroke="#333" stroke-width="1"/>
<line x1="44.5" y1="279.47" x2="48.5" y2="279.47" stroke="#333" stroke-width="1"/>
<line x1="44.5" y1="245.40" x2="48.5" y2="245.40" stroke="#333" stroke-width="1"/>
<line x1="44.5" y1="466.86" x2="46.8" y2="466.86" stroke="#333" stroke-width="1"/>
<line x1="44.5" y1="432.78" x2="46.8" y2="432.78" stroke="#333" stroke-width="1"/>
<line x1="44.5" y1="398.72" x2="46.8" y2="398.72" stroke="#333" stroke-width="1"/>
<line x1="44.5" y1="364.64" x2="46.8" y2="364.64" stroke="#333" stroke-width="1"/>
<line x1="44.5" y1="330.57" x2="46.8" y2="330.57" stroke="#333" stroke-width="1"/>
<line x1="44.5" y1="296.50" x2="46.8" y2="296.50" stroke="#333" stroke-width="1"/>
<line x1="44.5" y1="262.44" x2="46.8" y2="262.44" stroke="#333" stroke-width="1"/></g>
<g id="pd"><path d="M404.00,291.59 L404.50,290.43 L405.00,291.18 L405.50,290.93 L406.00,290.95 L406.50,291.01 L407.00,290.55 L407.50,291.00 L408.00,290.83 L408.50,291.88 L409.00,291.10 L409.50,290.95 L410.00,290.96 L410.50,290.86 L411.00,290.76 L411.50,290.92 L412.00,291.13 L412.50,290.95 L413.00,291.24 L413.50,290.94 L414.00,290.99 L414.50,291.37 L415.00,291.11 L415.50,290.84 L416.00,290.91 L416.50,291.08 L417.00,291.42 L417.50,290.86 L418.00,290.85 L418.50,291.15 L419.00,290.67 L419.50,290.80 L420.00,291.08 L420.50,290.98 L421.00,290.84 L421.50,290.97 L422.00,290.07 L422.50,291.01 L423.00,290.48 L423.50,290.28 L424.00,290.73 L424.50,290.79 L425.00,290.46 L425.50,290.25 L426.00,290.46 L426.50,290.37 L427.00,290.65 L427.50,290.38 L428.00,290.11 L428.50,290.19 L429.00,289.67 L429.50,289.27 L430.00,289.39 L430.50,289.08 L431.00,288.52 L431.50,287.97 L432.00,287.75 L432.50,286.55 L433.00,286.78 L433.50,286.11 L434.00,284.94 L434.50,284.70 L435.00,283.79 L435.50,283.58 L436.00,282.30 L436.50,282.07 L437.00,282.06 L437.50,281.89 L438.00,280.91 L438.50,281.31 L439.00,281.63 L439.50,281.61 L440.00,282.45 L440.50,282.10 L441.00,282.85 L441.50,282.85 L442.00,283.79 L442.50,283.70 L443.00,283.81 L443.50,283.56 L444.00,284.37 L444.50,283.93 L445.00,283.52 L445.50,282.96 L446.00,281.81 L446.50,280.26 L447.00,278.54 L447.50,276.44 L448.00,274.46 L448.50,270.85 L449.00,267.84 L449.50,264.52 L450.00,261.34 L450.50,258.51 L451.00,255.96 L451.50,254.95 L452.00,255.88 L452.50,258.00 L453.00,260.69 L453.50,263.92 L454.00,267.35 L454.50,270.98 L455.00,274.07 L455.50,277.21 L456.00,279.28 L456.50,281.58 L457.00,283.20 L457.50,284.72 L458.00,285.72 L458.50,287.14 L459.00,287.54 L459.50,288.06 L460.00,287.59 L460.50,288.35 L461.00,288.57 L461.50,289.09 L462.00,288.59 L462.50,289.63 L463.00,289.76 L463.50,289.31 L464.00,289.51 L464.50,289.67 L465.00,289.98 L465.50,290.22 L466.00,290.65 L466.50,290.16 L467.00,290.47 L467.50,290.38 L468.00,290.84 L468.50,290.63 L469.00,290.83 L469.50,290.26 L470.00,290.52 L470.50,290.40 L471.00,291.01 L471.50,290.83 L472.00,290.62 L472.50,290.61 L473.00,290.86 L473.50,290.59 L474.00,290.55 L474.50,290.92 L475.00,291.43 L475.50,290.77 L476.00,290.71 L476.50,290.57 L477.00,290.54 L477.50,291.02 L478.00,291.11 L478.50,290.91 L479.00,291.00 L479.50,290.96 L480.00,290.97 L480.50,290.57 L481.00,290.84 L481.50,290.99 L482.00,290.78 L482.50,290.86 L483.00,290.78 L483.50,290.91 L484.00,291.21 L484.50,290.90 L485.00,290.97 L485.50,291.22 L486.00,291.18 L486.50,291.45 L487.00,290.51 L487.50,291.25 L488.00,290.92 L488.50,291.08 L489.00,291.26 L489.50,291.32 L490.00,291.31 L490.50,291.10 L491.00,291.46 L491.50,290.99 L492.00,291.03 L492.50,291.27 L493.00,290.94 L493.50,291.62 L494.00,291.33 L494.50,291.63 L495.00,291.08 L495.50,290.99 L496.00,291.13 L496.50,291.28 L497.00,290.95 L497.50,291.19 L498.00,291.09 L498.50,291.50 L499.00,290.94 L499.50,291.37 L500.00,290.95 L500.50,290.87 L501.00,290.93 L501.50,290.81 L502.00,291.15 L502.50,291.37 L503.00,291.16 L503.50,291.27 L504.00,291.53 L504.50,291.19 L505.00,291.17 L505.50,291.06 L506.00,290.72 L506.50,291.32 L507.00,290.69 L507.50,291.29 L508.00,291.13 L508.50,291.41 L509.00,291.12 L509.50,290.93 L510.00,291.22 L510.50,291.00 L511.00,291.09 L511.50,291.15 L512.00,291.11 L512.50,291.09 L513.00,290.93 L513.50,291.09 L514.00,290.61 L514.50,291.10 L515.00,290.85 L515.50,291.43 L516.00,291.46 L516.50,290.66 L517.00,291.18 L517.50,291.12 L518.00,290.89 L518.50,291.28 L519.00,291.04 L519.50,290.71 L520.00,291.09 L520.50,291.12 L521.00,291.18 L521.50,290.85 L522.00,291.31 L522.50,291.34 L523.00,290.87 L523.50,290.99" fill="none" stroke="#9a9a9a" stroke-width="3.0" stroke-opacity="0.45"/>
<path d="M404.00,291.08 L404.50,291.07 L405.00,291.07 L405.50,291.07 L406.00,291.06 L406.50,291.06 L407.00,291.06 L407.50,291.05 L408.00,291.05 L408.50,291.05 L409.00,291.04 L409.50,291.04 L410.00,291.03 L410.50,291.03 L411.00,291.02 L411.50,291.02 L412.00,291.01 L412.50,291.01 L413.00,291.00 L413.50,290.99 L414.00,290.99 L414.50,290.98 L415.00,290.97 L415.50,290.96 L416.00,290.95 L416.50,290.94 L417.00,290.93 L417.50,290.92 L418.00,290.91 L418.50,290.90 L419.00,290.89 L419.50,290.87 L420.00,290.86 L420.50,290.84 L421.00,290.82 L421.50,290.80 L422.00,290.78 L422.50,290.75 L423.00,290.72 L423.50,290.69 L424.00,290.66 L424.50,290.62 L425.00,290.57 L425.50,290.52 L426.00,290.46 L426.50,290.38 L427.00,290.30 L427.50,290.19 L428.00,290.06 L428.50,289.91 L429.00,289.73 L429.50,289.51 L430.00,289.24 L430.50,288.93 L431.00,288.58 L431.50,288.16 L432.00,287.70 L432.50,287.17 L433.00,286.60 L433.50,285.99 L434.00,285.35 L434.50,284.69 L435.00,284.03 L435.50,283.39 L436.00,282.81 L436.50,282.29 L437.00,281.88 L437.50,281.60 L438.00,281.45 L438.50,281.43 L439.00,281.54 L439.50,281.76 L440.00,282.05 L440.50,282.39 L441.00,282.76 L441.50,283.11 L442.00,283.44 L442.50,283.71 L443.00,283.90 L443.50,283.99 L444.00,283.95 L444.50,283.74 L445.00,283.33 L445.50,282.67 L446.00,281.72 L446.50,280.42 L447.00,278.74 L447.50,276.64 L448.00,274.12 L448.50,271.21 L449.00,267.99 L449.50,264.60 L450.00,261.28 L450.50,258.37 L451.00,256.27 L451.50,255.38 L452.00,255.88 L452.50,257.70 L453.00,260.50 L453.50,263.86 L454.00,267.43 L454.50,270.91 L455.00,274.13 L455.50,277.00 L456.00,279.47 L456.50,281.54 L457.00,283.23 L457.50,284.59 L458.00,285.66 L458.50,286.50 L459.00,287.16 L459.50,287.68 L460.00,288.10 L460.50,288.44 L461.00,288.72 L461.50,288.95 L462.00,289.16 L462.50,289.34 L463.00,289.49 L463.50,289.63 L464.00,289.76 L464.50,289.87 L465.00,289.97 L465.50,290.06 L466.00,290.14 L466.50,290.21 L467.00,290.28 L467.50,290.34 L468.00,290.40 L468.50,290.45 L469.00,290.49 L469.50,290.53 L470.00,290.57 L470.50,290.61 L471.00,290.64 L471.50,290.67 L472.00,290.69 L472.50,290.72 L473.00,290.74 L473.50,290.76 L474.00,290.78 L474.50,290.80 L475.00,290.82 L475.50,290.83 L476.00,290.85 L476.50,290.86 L477.00,290.88 L477.50,290.89 L478.00,290.90 L478.50,290.91 L479.00,290.92 L479.50,290.93 L480.00,290.94 L480.50,290.95 L481.00,290.96 L481.50,290.96 L482.00,290.97 L482.50,290.98 L483.00,290.99 L483.50,290.99 L484.00,291.00 L484.50,291.00 L485.00,291.01 L485.50,291.01 L486.00,291.02 L486.50,291.03 L487.00,291.03 L487.50,291.03 L488.00,291.04 L488.50,291.04 L489.00,291.05 L489.50,291.05 L490.00,291.05 L490.50,291.06 L491.00,291.06 L491.50,291.06 L492.00,291.07 L492.50,291.07 L493.00,291.07 L493.50,291.08 L494.00,291.08 L494.50,291.08 L495.00,291.09 L495.50,291.09 L496.00,291.09 L496.50,291.09 L497.00,291.09 L497.50,291.10 L498.00,291.10 L498.50,291.10 L499.00,291.10 L499.50,291.11 L500.00,291.11 L500.50,291.11 L501.00,291.11 L501.50,291.11 L502.00,291.11 L502.50,291.12 L503.00,291.12 L503.50,291.12 L504.00,291.12 L504.50,291.12 L505.00,291.12 L505.50,291.12 L506.00,291.13 L506.50,291.13 L507.00,291.13 L507.50,291.13 L508.00,291.13 L508.50,291.13 L509.00,291.13 L509.50,291.13 L510.00,291.14 L510.50,291.14 L511.00,291.14 L511.50,291.14 L512.00,291.14 L512.50,291.14 L513.00,291.14 L513.50,291.14 L514.00,291.14 L514.50,291.14 L515.00,291.14 L515.50,291.15 L516.00,291.15 L516.50,291.15 L517.00,291.15 L517.50,291.15 L518.00,291.15 L518.50,291.15 L519.00,291.15 L519.50,291.15 L520.00,291.15 L520.50,291.15 L521.00,291.15 L521.50,291.15 L522.00,291.16 L522.50,291.16 L523.00,291.16 L523.50,291.16" fill="none" stroke="#7b20f0" stroke-width="2.0" stroke-linejoin="round"/>
<path d="M404.00,338.45 L404.50,338.33 L405.00,338.90 L405.50,338.51 L406.00,338.21 L406.50,338.26 L407.00,338.44 L407.50,339.02 L408.00,338.40 L408.50,338.47 L409.00,338.57 L409.50,338.43 L410.00,339.00 L410.50,338.29 L411.00,338.61 L411.50,338.46 L412.00,338.57 L412.50,338.11 L413.00,338.85 L413.50,338.37 L414.00,338.40 L414.50,338.15 L415.00,338.20 L415.50,338.52 L416.00,338.61 L416.50,338.55 L417.00,338.66 L417.50,338.52 L418.00,338.35 L418.50,338.54 L419.00,338.47 L419.50,338.29 L420.00,338.48 L420.50,338.61 L421.00,338.34 L421.50,338.18 L422.00,338.43 L422.50,338.71 L423.00,338.17 L423.50,338.18 L424.00,338.15 L424.50,338.47 L425.00,337.68 L425.50,338.21 L426.00,338.39 L426.50,337.86 L427.00,338.40 L427.50,338.13 L428.00,337.81 L428.50,337.95 L429.00,337.46 L429.50,337.64 L430.00,338.16 L430.50,337.38 L431.00,337.95 L431.50,337.32 L432.00,337.41 L432.50,336.95 L433.00,336.11 L433.50,336.21 L434.00,336.01 L434.50,335.21 L435.00,334.62 L435.50,334.43 L436.00,333.48 L436.50,332.45 L437.00,331.88 L437.50,331.40 L438.00,330.19 L438.50,329.67 L439.00,329.00 L439.50,327.90 L440.00,327.01 L440.50,326.55 L441.00,326.65 L441.50,326.87 L442.00,326.91 L442.50,327.34 L443.00,327.60 L443.50,328.38 L444.00,328.83 L444.50,329.52 L445.00,329.92 L445.50,330.45 L446.00,331.26 L446.50,331.57 L447.00,331.99 L447.50,332.70 L448.00,332.71 L448.50,333.59 L449.00,333.12 L449.50,332.66 L450.00,332.84 L450.50,332.45 L451.00,331.77 L451.50,331.65 L452.00,330.44 L452.50,328.91 L453.00,328.66 L453.50,326.82 L454.00,325.56 L454.50,322.91 L455.00,320.34 L455.50,318.29 L456.00,314.66 L456.50,311.84 L457.00,309.02 L457.50,305.75 L458.00,303.23 L458.50,301.56 L459.00,301.03 L459.50,301.04 L460.00,302.89 L460.50,305.24 L461.00,308.62 L461.50,311.19 L462.00,314.35 L462.50,317.96 L463.00,320.66 L463.50,323.52 L464.00,325.86 L464.50,328.17 L465.00,329.44 L465.50,331.02 L466.00,331.58 L466.50,332.95 L467.00,334.33 L467.50,334.39 L468.00,334.88 L468.50,335.16 L469.00,335.94 L469.50,336.11 L470.00,336.00 L470.50,336.66 L471.00,336.73 L471.50,337.00 L472.00,336.78 L472.50,337.50 L473.00,337.27 L473.50,337.23 L474.00,337.22 L474.50,337.36 L475.00,337.71 L475.50,337.49 L476.00,337.89 L476.50,337.82 L477.00,338.06 L477.50,337.97 L478.00,337.80 L478.50,337.37 L479.00,337.96 L479.50,338.12 L480.00,337.99 L480.50,338.12 L481.00,337.89 L481.50,337.94 L482.00,337.82 L482.50,338.42 L483.00,338.14 L483.50,338.00 L484.00,337.80 L484.50,338.12 L485.00,338.53 L485.50,338.30 L486.00,338.02 L486.50,338.57 L487.00,338.58 L487.50,338.49 L488.00,338.45 L488.50,338.55 L489.00,338.41 L489.50,338.48 L490.00,338.10 L490.50,338.68 L491.00,338.37 L491.50,338.83 L492.00,337.82 L492.50,338.51 L493.00,338.59 L493.50,338.27 L494.00,338.47 L494.50,338.55 L495.00,338.51 L495.50,338.24 L496.00,338.35 L496.50,338.64 L497.00,338.71 L497.50,338.42 L498.00,338.42 L498.50,338.46 L499.00,338.67 L499.50,338.15 L500.00,338.09 L500.50,338.46 L501.00,338.15 L501.50,338.29 L502.00,338.46 L502.50,338.56 L503.00,338.18 L503.50,338.65 L504.00,338.01 L504.50,338.59 L505.00,338.06 L505.50,338.14 L506.00,338.62 L506.50,338.36 L507.00,338.27 L507.50,338.36 L508.00,338.59 L508.50,338.46 L509.00,338.47 L509.50,338.74 L510.00,338.30 L510.50,338.37 L511.00,338.36 L511.50,338.78 L512.00,338.74 L512.50,338.82 L513.00,338.49 L513.50,338.46 L514.00,338.71 L514.50,338.40 L515.00,338.71 L515.50,338.69 L516.00,338.33 L516.50,338.49 L517.00,338.48 L517.50,338.94 L518.00,339.16 L518.50,338.49 L519.00,338.52 L519.50,337.95 L520.00,338.57 L520.50,338.52 L521.00,338.25 L521.50,338.72 L522.00,338.13 L522.50,338.47 L523.00,338.56 L523.50,338.21" fill="none" stroke="#9a9a9a" stroke-width="3.0" stroke-opacity="0.45"/>
<path d="M404.00,338.47 L404.50,338.47 L405.00,338.47 L405.50,338.46 L406.00,338.46 L406.50,338.46 L407.00,338.45 L407.50,338.45 L408.00,338.45 L408.50,338.44 L409.00,338.44 L409.50,338.44 L410.00,338.43 L410.50,338.43 L411.00,338.42 L411.50,338.42 L412.00,338.41 L412.50,338.41 L413.00,338.40 L413.50,338.40 L414.00,338.39 L414.50,338.39 L415.00,338.38 L415.50,338.37 L416.00,338.37 L416.50,338.36 L417.00,338.35 L417.50,338.35 L418.00,338.34 L418.50,338.33 L419.00,338.32 L419.50,338.31 L420.00,338.30 L420.50,338.29 L421.00,338.28 L421.50,338.26 L422.00,338.25 L422.50,338.24 L423.00,338.22 L423.50,338.20 L424.00,338.18 L424.50,338.16 L425.00,338.14 L425.50,338.12 L426.00,338.09 L426.50,338.06 L427.00,338.03 L427.50,337.99 L428.00,337.95 L428.50,337.90 L429.00,337.84 L429.50,337.78 L430.00,337.70 L430.50,337.60 L431.00,337.48 L431.50,337.34 L432.00,337.16 L432.50,336.94 L433.00,336.67 L433.50,336.35 L434.00,335.96 L434.50,335.50 L435.00,334.96 L435.50,334.34 L436.00,333.64 L436.50,332.88 L437.00,332.05 L437.50,331.19 L438.00,330.31 L438.50,329.44 L439.00,328.62 L439.50,327.89 L440.00,327.29 L440.50,326.87 L441.00,326.65 L441.50,326.65 L442.00,326.84 L442.50,327.21 L443.00,327.71 L443.50,328.30 L444.00,328.95 L444.50,329.60 L445.00,330.25 L445.50,330.84 L446.00,331.38 L446.50,331.85 L447.00,332.23 L447.50,332.53 L448.00,332.74 L448.50,332.86 L449.00,332.88 L449.50,332.82 L450.00,332.64 L450.50,332.36 L451.00,331.95 L451.50,331.38 L452.00,330.63 L452.50,329.67 L453.00,328.46 L453.50,326.98 L454.00,325.19 L454.50,323.07 L455.00,320.64 L455.50,317.90 L456.00,314.93 L456.50,311.79 L457.00,308.66 L457.50,305.72 L458.00,303.25 L458.50,301.53 L459.00,300.82 L459.50,301.24 L460.00,302.74 L460.50,305.10 L461.00,308.04 L461.50,311.28 L462.00,314.58 L462.50,317.78 L463.00,320.76 L463.50,323.45 L464.00,325.83 L464.50,327.87 L465.00,329.60 L465.50,331.04 L466.00,332.22 L466.50,333.17 L467.00,333.94 L467.50,334.56 L468.00,335.06 L468.50,335.46 L469.00,335.79 L469.50,336.07 L470.00,336.30 L470.50,336.49 L471.00,336.66 L471.50,336.81 L472.00,336.95 L472.50,337.06 L473.00,337.17 L473.50,337.26 L474.00,337.35 L474.50,337.43 L475.00,337.50 L475.50,337.56 L476.00,337.62 L476.50,337.67 L477.00,337.72 L477.50,337.77 L478.00,337.81 L478.50,337.85 L479.00,337.89 L479.50,337.92 L480.00,337.95 L480.50,337.98 L481.00,338.01 L481.50,338.03 L482.00,338.06 L482.50,338.08 L483.00,338.10 L483.50,338.12 L484.00,338.14 L484.50,338.15 L485.00,338.17 L485.50,338.19 L486.00,338.20 L486.50,338.21 L487.00,338.23 L487.50,338.24 L488.00,338.25 L488.50,338.26 L489.00,338.27 L489.50,338.28 L490.00,338.29 L490.50,338.30 L491.00,338.31 L491.50,338.32 L492.00,338.33 L492.50,338.34 L493.00,338.34 L493.50,338.35 L494.00,338.36 L494.50,338.36 L495.00,338.37 L495.50,338.38 L496.00,338.38 L496.50,338.39 L497.00,338.39 L497.50,338.40 L498.00,338.40 L498.50,338.41 L499.00,338.41 L499.50,338.42 L500.00,338.42 L500.50,338.43 L501.00,338.43 L501.50,338.43 L502.00,338.44 L502.50,338.44 L503.00,338.44 L503.50,338.45 L504.00,338.45 L504.50,338.45 L505.00,338.46 L505.50,338.46 L506.00,338.46 L506.50,338.47 L507.00,338.47 L507.50,338.47 L508.00,338.47 L508.50,338.48 L509.00,338.48 L509.50,338.48 L510.00,338.48 L510.50,338.49 L511.00,338.49 L511.50,338.49 L512.00,338.49 L512.50,338.49 L513.00,338.50 L513.50,338.50 L514.00,338.50 L514.50,338.50 L515.00,338.50 L515.50,338.50 L516.00,338.51 L516.50,338.51 L517.00,338.51 L517.50,338.51 L518.00,338.51 L518.50,338.51 L519.00,338.51 L519.50,338.52 L520.00,338.52 L520.50,338.52 L521.00,338.52 L521.50,338.52 L522.00,338.52 L522.50,338.52 L523.00,338.52 L523.50,338.53" fill="none" stroke="#1eb6ea" stroke-width="2.0" stroke-linejoin="round"/>
<path d="M404.00,387.29 L404.50,387.34 L405.00,386.72 L405.50,386.72 L406.00,387.22 L406.50,387.06 L407.00,386.76 L407.50,386.99 L408.00,387.03 L408.50,387.02 L409.00,387.26 L409.50,387.15 L410.00,387.49 L410.50,387.39 L411.00,387.21 L411.50,387.31 L412.00,387.36 L412.50,387.21 L413.00,386.72 L413.50,387.24 L414.00,387.04 L414.50,387.42 L415.00,387.04 L415.50,387.14 L416.00,387.09 L416.50,387.42 L417.00,387.04 L417.50,386.92 L418.00,387.06 L418.50,386.87 L419.00,387.02 L419.50,386.97 L420.00,387.03 L420.50,387.44 L421.00,386.85 L421.50,386.96 L422.00,386.89 L422.50,387.10 L423.00,386.63 L423.50,386.75 L424.00,386.90 L424.50,387.04 L425.00,386.88 L425.50,386.76 L426.00,386.66 L426.50,386.99 L427.00,387.21 L427.50,386.92 L428.00,386.87 L428.50,386.92 L429.00,386.56 L429.50,386.70 L430.00,386.70 L430.50,386.82 L431.00,386.72 L431.50,386.40 L432.00,386.96 L432.50,387.07 L433.00,386.55 L433.50,386.68 L434.00,386.61 L434.50,386.69 L435.00,386.07 L435.50,386.79 L436.00,386.19 L436.50,386.54 L437.00,386.15 L437.50,385.92 L438.00,385.84 L438.50,385.94 L439.00,385.32 L439.50,385.22 L440.00,384.95 L440.50,384.35 L441.00,384.78 L441.50,384.24 L442.00,383.68 L442.50,383.53 L443.00,382.51 L443.50,382.20 L444.00,382.10 L444.50,381.33 L445.00,379.93 L445.50,379.04 L446.00,379.02 L446.50,378.96 L447.00,378.02 L447.50,377.58 L448.00,377.34 L448.50,376.60 L449.00,376.59 L449.50,376.54 L450.00,376.37 L450.50,376.35 L451.00,376.18 L451.50,376.61 L452.00,376.59 L452.50,377.28 L453.00,377.89 L453.50,377.36 L454.00,377.30 L454.50,378.01 L455.00,378.46 L455.50,378.82 L456.00,378.97 L456.50,378.57 L457.00,378.55 L457.50,378.95 L458.00,378.13 L458.50,378.33 L459.00,377.53 L459.50,377.15 L460.00,376.36 L460.50,375.44 L461.00,374.35 L461.50,372.62 L462.00,371.51 L462.50,369.85 L463.00,368.20 L463.50,366.60 L464.00,364.32 L464.50,362.31 L465.00,360.47 L465.50,358.90 L466.00,357.78 L466.50,356.39 L467.00,356.37 L467.50,356.19 L468.00,356.64 L468.50,357.45 L469.00,359.35 L469.50,361.26 L470.00,362.63 L470.50,365.45 L471.00,367.64 L471.50,369.34 L472.00,371.31 L472.50,373.59 L473.00,374.95 L473.50,375.92 L474.00,377.48 L474.50,378.63 L475.00,379.68 L475.50,380.03 L476.00,381.59 L476.50,381.91 L477.00,382.69 L477.50,383.10 L478.00,383.77 L478.50,383.83 L479.00,384.01 L479.50,384.60 L480.00,385.04 L480.50,384.80 L481.00,385.40 L481.50,385.27 L482.00,385.21 L482.50,385.84 L483.00,385.36 L483.50,385.92 L484.00,385.63 L484.50,385.95 L485.00,385.60 L485.50,385.77 L486.00,386.31 L486.50,386.15 L487.00,386.16 L487.50,386.09 L488.00,386.36 L488.50,385.94 L489.00,386.05 L489.50,386.33 L490.00,386.20 L490.50,386.26 L491.00,386.45 L491.50,386.46 L492.00,386.47 L492.50,386.97 L493.00,386.83 L493.50,386.91 L494.00,386.61 L494.50,386.51 L495.00,386.30 L495.50,386.59 L496.00,386.17 L496.50,386.57 L497.00,386.92 L497.50,387.15 L498.00,387.00 L498.50,386.56 L499.00,386.91 L499.50,386.60 L500.00,387.01 L500.50,386.79 L501.00,387.04 L501.50,387.48 L502.00,387.08 L502.50,387.44 L503.00,386.91 L503.50,386.80 L504.00,387.22 L504.50,387.33 L505.00,386.76 L505.50,386.93 L506.00,386.56 L506.50,386.87 L507.00,387.15 L507.50,386.92 L508.00,386.80 L508.50,386.60 L509.00,387.05 L509.50,387.16 L510.00,387.12 L510.50,387.04 L511.00,386.66 L511.50,387.42 L512.00,386.97 L512.50,386.95 L513.00,387.18 L513.50,386.46 L514.00,386.99 L514.50,386.97 L515.00,387.10 L515.50,387.35 L516.00,387.14 L516.50,386.56 L517.00,386.94 L517.50,387.08 L518.00,387.07 L518.50,386.72 L519.00,386.62 L519.50,387.18 L520.00,387.13 L520.50,387.04 L521.00,386.62 L521.50,387.50 L522.00,386.33 L522.50,386.97 L523.00,387.58 L523.50,387.02" fill="none" stroke="#9a9a9a" stroke-width="3.0" stroke-opacity="0.45"/>
<path d="M404.00,387.08 L404.50,387.07 L405.00,387.07 L405.50,387.07 L406.00,387.07 L406.50,387.06 L407.00,387.06 L407.50,387.06 L408.00,387.06 L408.50,387.05 L409.00,387.05 L409.50,387.05 L410.00,387.05 L410.50,387.04 L411.00,387.04 L411.50,387.04 L412.00,387.03 L412.50,387.03 L413.00,387.03 L413.50,387.02 L414.00,387.02 L414.50,387.02 L415.00,387.01 L415.50,387.01 L416.00,387.00 L416.50,387.00 L417.00,387.00 L417.50,386.99 L418.00,386.99 L418.50,386.98 L419.00,386.98 L419.50,386.97 L420.00,386.97 L420.50,386.96 L421.00,386.95 L421.50,386.95 L422.00,386.94 L422.50,386.93 L423.00,386.93 L423.50,386.92 L424.00,386.91 L424.50,386.90 L425.00,386.89 L425.50,386.88 L426.00,386.87 L426.50,386.86 L427.00,386.85 L427.50,386.84 L428.00,386.83 L428.50,386.81 L429.00,386.80 L429.50,386.78 L430.00,386.76 L430.50,386.75 L431.00,386.72 L431.50,386.70 L432.00,386.68 L432.50,386.65 L433.00,386.62 L433.50,386.58 L434.00,386.54 L434.50,386.50 L435.00,386.44 L435.50,386.38 L436.00,386.31 L436.50,386.23 L437.00,386.13 L437.50,386.01 L438.00,385.88 L438.50,385.72 L439.00,385.53 L439.50,385.32 L440.00,385.07 L440.50,384.78 L441.00,384.46 L441.50,384.09 L442.00,383.69 L442.50,383.24 L443.00,382.75 L443.50,382.22 L444.00,381.67 L444.50,381.08 L445.00,380.48 L445.50,379.88 L446.00,379.28 L446.50,378.69 L447.00,378.14 L447.50,377.64 L448.00,377.19 L448.50,376.82 L449.00,376.54 L449.50,376.35 L450.00,376.25 L450.50,376.25 L451.00,376.33 L451.50,376.48 L452.00,376.70 L452.50,376.96 L453.00,377.24 L453.50,377.54 L454.00,377.84 L454.50,378.12 L455.00,378.36 L455.50,378.56 L456.00,378.70 L456.50,378.77 L457.00,378.75 L457.50,378.63 L458.00,378.41 L458.50,378.06 L459.00,377.58 L459.50,376.96 L460.00,376.18 L460.50,375.25 L461.00,374.14 L461.50,372.87 L462.00,371.44 L462.50,369.85 L463.00,368.12 L463.50,366.29 L464.00,364.39 L464.50,362.48 L465.00,360.65 L465.50,358.98 L466.00,357.59 L466.50,356.59 L467.00,356.08 L467.50,356.11 L468.00,356.70 L468.50,357.79 L469.00,359.29 L469.50,361.09 L470.00,363.07 L470.50,365.15 L471.00,367.23 L471.50,369.26 L472.00,371.19 L472.50,372.99 L473.00,374.64 L473.50,376.14 L474.00,377.49 L474.50,378.67 L475.00,379.72 L475.50,380.62 L476.00,381.40 L476.50,382.07 L477.00,382.64 L477.50,383.13 L478.00,383.55 L478.50,383.90 L479.00,384.20 L479.50,384.46 L480.00,384.69 L480.50,384.88 L481.00,385.06 L481.50,385.21 L482.00,385.34 L482.50,385.46 L483.00,385.57 L483.50,385.67 L484.00,385.75 L484.50,385.84 L485.00,385.91 L485.50,385.98 L486.00,386.04 L486.50,386.10 L487.00,386.15 L487.50,386.20 L488.00,386.25 L488.50,386.29 L489.00,386.33 L489.50,386.37 L490.00,386.41 L490.50,386.44 L491.00,386.47 L491.50,386.50 L492.00,386.53 L492.50,386.55 L493.00,386.58 L493.50,386.60 L494.00,386.62 L494.50,386.64 L495.00,386.66 L495.50,386.68 L496.00,386.70 L496.50,386.71 L497.00,386.73 L497.50,386.74 L498.00,386.76 L498.50,386.77 L499.00,386.78 L499.50,386.80 L500.00,386.81 L500.50,386.82 L501.00,386.83 L501.50,386.84 L502.00,386.85 L502.50,386.86 L503.00,386.87 L503.50,386.88 L504.00,386.89 L504.50,386.89 L505.00,386.90 L505.50,386.91 L506.00,386.92 L506.50,386.92 L507.00,386.93 L507.50,386.94 L508.00,386.94 L508.50,386.95 L509.00,386.95 L509.50,386.96 L510.00,386.97 L510.50,386.97 L511.00,386.98 L511.50,386.98 L512.00,386.99 L512.50,386.99 L513.00,386.99 L513.50,387.00 L514.00,387.00 L514.50,387.01 L515.00,387.01 L515.50,387.02 L516.00,387.02 L516.50,387.02 L517.00,387.03 L517.50,387.03 L518.00,387.03 L518.50,387.04 L519.00,387.04 L519.50,387.04 L520.00,387.04 L520.50,387.05 L521.00,387.05 L521.50,387.05 L522.00,387.06 L522.50,387.06 L523.00,387.06 L523.50,387.06" fill="none" stroke="#f08a1c" stroke-width="2.0" stroke-linejoin="round"/>
<circle cx="462.0" cy="421.2" r="1.3" fill="none" stroke="#a8a8a8" stroke-width="0.6"/>
<circle cx="463.6" cy="418.1" r="1.3" fill="none" stroke="#a8a8a8" stroke-width="0.6"/>
<circle cx="465.2" cy="414.4" r="1.3" fill="none" stroke="#a8a8a8" stroke-width="0.6"/>
<circle cx="466.8" cy="410.0" r="1.3" fill="none" stroke="#a8a8a8" stroke-width="0.6"/>
<circle cx="468.4" cy="405.2" r="1.3" fill="none" stroke="#a8a8a8" stroke-width="0.6"/>
<circle cx="470.0" cy="400.6" r="1.3" fill="none" stroke="#a8a8a8" stroke-width="0.6"/>
<circle cx="471.6" cy="397.0" r="1.3" fill="none" stroke="#a8a8a8" stroke-width="0.6"/>
<circle cx="473.2" cy="395.6" r="1.3" fill="none" stroke="#a8a8a8" stroke-width="0.6"/>
<circle cx="474.8" cy="397.0" r="1.3" fill="none" stroke="#a8a8a8" stroke-width="0.6"/>
<circle cx="476.4" cy="400.6" r="1.3" fill="none" stroke="#a8a8a8" stroke-width="0.6"/>
<circle cx="478.0" cy="405.2" r="1.3" fill="none" stroke="#a8a8a8" stroke-width="0.6"/>
<circle cx="479.6" cy="410.0" r="1.3" fill="none" stroke="#a8a8a8" stroke-width="0.6"/>
<circle cx="481.2" cy="414.4" r="1.3" fill="none" stroke="#a8a8a8" stroke-width="0.6"/>
<circle cx="482.8" cy="418.1" r="1.3" fill="none" stroke="#a8a8a8" stroke-width="0.6"/>
<circle cx="484.4" cy="421.2" r="1.3" fill="none" stroke="#a8a8a8" stroke-width="0.6"/>
<circle cx="486.0" cy="423.7" r="1.3" fill="none" stroke="#a8a8a8" stroke-width="0.6"/>
<circle cx="487.6" cy="425.8" r="1.3" fill="none" stroke="#a8a8a8" stroke-width="0.6"/>
<circle cx="489.2" cy="427.6" r="1.3" fill="none" stroke="#a8a8a8" stroke-width="0.6"/>
<circle cx="490.8" cy="429.1" r="1.3" fill="none" stroke="#a8a8a8" stroke-width="0.6"/>
<path d="M404.00,434.56 L404.50,434.20 L405.00,434.84 L405.50,434.17 L406.00,434.56 L406.50,434.53 L407.00,434.23 L407.50,434.71 L408.00,434.13 L408.50,434.32 L409.00,434.48 L409.50,434.38 L410.00,434.60 L410.50,434.71 L411.00,434.40 L411.50,434.34 L412.00,434.34 L412.50,434.38 L413.00,434.67 L413.50,434.41 L414.00,434.57 L414.50,434.44 L415.00,434.25 L415.50,434.67 L416.00,434.19 L416.50,434.45 L417.00,434.82 L417.50,434.17 L418.00,434.43 L418.50,434.04 L419.00,434.31 L419.50,434.06 L420.00,434.34 L420.50,434.29 L421.00,434.46 L421.50,434.82 L422.00,434.49 L422.50,434.58 L423.00,434.40 L423.50,434.34 L424.00,434.19 L424.50,433.95 L425.00,434.41 L425.50,434.80 L426.00,434.50 L426.50,434.25 L427.00,434.79 L427.50,434.26 L428.00,434.21 L428.50,434.06 L429.00,434.11 L429.50,434.29 L430.00,434.84 L430.50,434.28 L431.00,434.07 L431.50,434.17 L432.00,434.26 L432.50,433.87 L433.00,434.32 L433.50,434.46 L434.00,434.35 L434.50,434.41 L435.00,433.93 L435.50,433.81 L436.00,434.54 L436.50,434.48 L437.00,433.80 L437.50,434.22 L438.00,434.15 L438.50,434.26 L439.00,434.15 L439.50,433.94 L440.00,434.08 L440.50,434.04 L441.00,433.94 L441.50,433.45 L442.00,433.11 L442.50,433.61 L443.00,433.33 L443.50,433.73 L444.00,433.77 L444.50,433.57 L445.00,433.32 L445.50,433.32 L446.00,433.47 L446.50,432.87 L447.00,433.14 L447.50,432.92 L448.00,432.64 L448.50,432.74 L449.00,431.99 L449.50,432.18 L450.00,431.46 L450.50,431.23 L451.00,430.86 L451.50,430.92 L452.00,430.23 L452.50,430.12 L453.00,429.42 L453.50,429.55 L454.00,429.30 L454.50,428.42 L455.00,428.27 L455.50,427.46 L456.00,427.29 L456.50,426.17 L457.00,425.12 L457.50,425.22 L458.00,424.11 L458.50,423.14 L459.00,422.45 L459.50,421.37 L460.00,420.85 L460.50,419.68 L461.00,419.31 L461.50,418.03 L462.00,416.29 L462.50,415.10 L463.00,414.01 L463.50,412.25 L464.00,411.20 L464.50,409.62 L465.00,407.76 L465.50,406.07 L466.00,404.53 L466.50,402.93 L467.00,401.12 L467.50,398.96 L468.00,397.44 L468.50,395.45 L469.00,394.32 L469.50,392.80 L470.00,392.33 L470.50,391.28 L471.00,391.16 L471.50,391.59 L472.00,392.28 L472.50,392.68 L473.00,394.08 L473.50,395.67 L474.00,397.28 L474.50,398.74 L475.00,400.77 L475.50,402.51 L476.00,404.76 L476.50,406.35 L477.00,407.63 L477.50,409.08 L478.00,411.25 L478.50,413.03 L479.00,414.19 L479.50,415.69 L480.00,416.59 L480.50,417.52 L481.00,419.13 L481.50,419.97 L482.00,421.06 L482.50,421.43 L483.00,422.66 L483.50,423.24 L484.00,424.34 L484.50,424.70 L485.00,425.36 L485.50,426.00 L486.00,427.07 L486.50,427.33 L487.00,427.66 L487.50,428.11 L488.00,428.58 L488.50,429.65 L489.00,429.26 L489.50,429.89 L490.00,430.63 L490.50,431.11 L491.00,431.09 L491.50,431.62 L492.00,431.88 L492.50,432.19 L493.00,432.18 L493.50,432.79 L494.00,432.63 L494.50,433.13 L495.00,432.64 L495.50,433.29 L496.00,432.87 L496.50,432.93 L497.00,433.54 L497.50,433.31 L498.00,433.71 L498.50,433.41 L499.00,434.15 L499.50,433.82 L500.00,433.59 L500.50,433.96 L501.00,434.19 L501.50,433.82 L502.00,434.17 L502.50,434.59 L503.00,434.32 L503.50,434.13 L504.00,434.02 L504.50,434.33 L505.00,433.82 L505.50,433.46 L506.00,434.07 L506.50,433.98 L507.00,434.70 L507.50,434.31 L508.00,434.04 L508.50,434.01 L509.00,434.43 L509.50,434.11 L510.00,434.18 L510.50,434.31 L511.00,434.36 L511.50,434.37 L512.00,434.39 L512.50,434.69 L513.00,434.80 L513.50,433.96 L514.00,435.03 L514.50,434.42 L515.00,434.70 L515.50,434.21 L516.00,434.48 L516.50,434.46 L517.00,434.44 L517.50,434.63 L518.00,434.58 L518.50,434.17 L519.00,434.40 L519.50,434.61 L520.00,434.61 L520.50,434.36 L521.00,434.37 L521.50,434.41 L522.00,434.17 L522.50,434.13 L523.00,434.85 L523.50,434.36" fill="none" stroke="#9a9a9a" stroke-width="3.0" stroke-opacity="0.45"/>
<path d="M404.00,434.50 L404.50,434.50 L405.00,434.50 L405.50,434.50 L406.00,434.49 L406.50,434.49 L407.00,434.49 L407.50,434.49 L408.00,434.49 L408.50,434.49 L409.00,434.48 L409.50,434.48 L410.00,434.48 L410.50,434.48 L411.00,434.48 L411.50,434.47 L412.00,434.47 L412.50,434.47 L413.00,434.47 L413.50,434.47 L414.00,434.46 L414.50,434.46 L415.00,434.46 L415.50,434.46 L416.00,434.45 L416.50,434.45 L417.00,434.45 L417.50,434.45 L418.00,434.44 L418.50,434.44 L419.00,434.44 L419.50,434.43 L420.00,434.43 L420.50,434.43 L421.00,434.42 L421.50,434.42 L422.00,434.42 L422.50,434.41 L423.00,434.41 L423.50,434.41 L424.00,434.40 L424.50,434.40 L425.00,434.39 L425.50,434.39 L426.00,434.38 L426.50,434.38 L427.00,434.37 L427.50,434.37 L428.00,434.36 L428.50,434.36 L429.00,434.35 L429.50,434.35 L430.00,434.34 L430.50,434.33 L431.00,434.33 L431.50,434.32 L432.00,434.31 L432.50,434.30 L433.00,434.29 L433.50,434.28 L434.00,434.27 L434.50,434.26 L435.00,434.25 L435.50,434.24 L436.00,434.22 L436.50,434.20 L437.00,434.19 L437.50,434.17 L438.00,434.15 L438.50,434.12 L439.00,434.10 L439.50,434.07 L440.00,434.03 L440.50,434.00 L441.00,433.96 L441.50,433.91 L442.00,433.86 L442.50,433.80 L443.00,433.74 L443.50,433.67 L444.00,433.59 L444.50,433.51 L445.00,433.41 L445.50,433.30 L446.00,433.18 L446.50,433.05 L447.00,432.91 L447.50,432.75 L448.00,432.57 L448.50,432.38 L449.00,432.17 L449.50,431.94 L450.00,431.69 L450.50,431.42 L451.00,431.13 L451.50,430.81 L452.00,430.47 L452.50,430.10 L453.00,429.71 L453.50,429.29 L454.00,428.84 L454.50,428.36 L455.00,427.85 L455.50,427.32 L456.00,426.75 L456.50,426.15 L457.00,425.52 L457.50,424.85 L458.00,424.14 L458.50,423.40 L459.00,422.61 L459.50,421.78 L460.00,420.89 L460.50,419.95 L461.00,418.94 L461.50,417.86 L462.00,416.71 L462.50,415.47 L463.00,414.15 L463.50,412.73 L464.00,411.23 L464.50,409.63 L465.00,407.96 L465.50,406.21 L466.00,404.41 L466.50,402.58 L467.00,400.74 L467.50,398.95 L468.00,397.23 L468.50,395.63 L469.00,394.22 L469.50,393.04 L470.00,392.15 L470.50,391.59 L471.00,391.40 L471.50,391.59 L472.00,392.15 L472.50,393.04 L473.00,394.22 L473.50,395.63 L474.00,397.23 L474.50,398.95 L475.00,400.74 L475.50,402.58 L476.00,404.41 L476.50,406.21 L477.00,407.96 L477.50,409.63 L478.00,411.23 L478.50,412.73 L479.00,414.15 L479.50,415.47 L480.00,416.71 L480.50,417.86 L481.00,418.94 L481.50,419.95 L482.00,420.89 L482.50,421.78 L483.00,422.61 L483.50,423.40 L484.00,424.14 L484.50,424.85 L485.00,425.52 L485.50,426.15 L486.00,426.75 L486.50,427.32 L487.00,427.85 L487.50,428.36 L488.00,428.84 L488.50,429.29 L489.00,429.71 L489.50,430.10 L490.00,430.47 L490.50,430.81 L491.00,431.13 L491.50,431.42 L492.00,431.69 L492.50,431.94 L493.00,432.17 L493.50,432.38 L494.00,432.57 L494.50,432.75 L495.00,432.91 L495.50,433.05 L496.00,433.18 L496.50,433.30 L497.00,433.41 L497.50,433.51 L498.00,433.59 L498.50,433.67 L499.00,433.74 L499.50,433.80 L500.00,433.86 L500.50,433.91 L501.00,433.96 L501.50,434.00 L502.00,434.03 L502.50,434.07 L503.00,434.10 L503.50,434.12 L504.00,434.15 L504.50,434.17 L505.00,434.19 L505.50,434.20 L506.00,434.22 L506.50,434.24 L507.00,434.25 L507.50,434.26 L508.00,434.27 L508.50,434.28 L509.00,434.29 L509.50,434.30 L510.00,434.31 L510.50,434.32 L511.00,434.33 L511.50,434.33 L512.00,434.34 L512.50,434.35 L513.00,434.35 L513.50,434.36 L514.00,434.36 L514.50,434.37 L515.00,434.37 L515.50,434.38 L516.00,434.38 L516.50,434.39 L517.00,434.39 L517.50,434.40 L518.00,434.40 L518.50,434.41 L519.00,434.41 L519.50,434.41 L520.00,434.42 L520.50,434.42 L521.00,434.42 L521.50,434.43 L522.00,434.43 L522.50,434.43 L523.00,434.44 L523.50,434.44" fill="none" stroke="#f01818" stroke-width="2.0" stroke-linejoin="round"/>
<path d="M404.00,434.87 L404.50,434.87 L405.00,434.87 L405.50,434.86 L406.00,434.86 L406.50,434.86 L407.00,434.86 L407.50,434.86 L408.00,434.86 L408.50,434.86 L409.00,434.86 L409.50,434.86 L410.00,434.86 L410.50,434.86 L411.00,434.86 L411.50,434.86 L412.00,434.86 L412.50,434.86 L413.00,434.86 L413.50,434.85 L414.00,434.85 L414.50,434.85 L415.00,434.85 L415.50,434.85 L416.00,434.85 L416.50,434.85 L417.00,434.85 L417.50,434.85 L418.00,434.85 L418.50,434.85 L419.00,434.84 L419.50,434.84 L420.00,434.84 L420.50,434.84 L421.00,434.84 L421.50,434.84 L422.00,434.84 L422.50,434.84 L423.00,434.83 L423.50,434.83 L424.00,434.83 L424.50,434.83 L425.00,434.83 L425.50,434.83 L426.00,434.83 L426.50,434.82 L427.00,434.82 L427.50,434.82 L428.00,434.82 L428.50,434.82 L429.00,434.82 L429.50,434.81 L430.00,434.81 L430.50,434.81 L431.00,434.81 L431.50,434.80 L432.00,434.80 L432.50,434.80 L433.00,434.80 L433.50,434.79 L434.00,434.79 L434.50,434.79 L435.00,434.79 L435.50,434.78 L436.00,434.78 L436.50,434.78 L437.00,434.77 L437.50,434.77 L438.00,434.76 L438.50,434.76 L439.00,434.76 L439.50,434.75 L440.00,434.75 L440.50,434.74 L441.00,434.74 L441.50,434.73 L442.00,434.73 L442.50,434.72 L443.00,434.71 L443.50,434.71 L444.00,434.70 L444.50,434.69 L445.00,434.68 L445.50,434.68 L446.00,434.67 L446.50,434.66 L447.00,434.65 L447.50,434.64 L448.00,434.63 L448.50,434.61 L449.00,434.60 L449.50,434.59 L450.00,434.57 L450.50,434.56 L451.00,434.54 L451.50,434.53 L452.00,434.51 L452.50,434.49 L453.00,434.46 L453.50,434.44 L454.00,434.41 L454.50,434.38 L455.00,434.35 L455.50,434.31 L456.00,434.27 L456.50,434.21 L457.00,434.15 L457.50,434.08 L458.00,433.99 L458.50,433.88 L459.00,433.74 L459.50,433.58 L460.00,433.37 L460.50,433.11 L461.00,432.80 L461.50,432.43 L462.00,431.97 L462.50,431.43 L463.00,430.80 L463.50,430.06 L464.00,429.22 L464.50,428.26 L465.00,427.20 L465.50,426.05 L466.00,424.80 L466.50,423.49 L467.00,422.13 L467.50,420.76 L468.00,419.43 L468.50,418.16 L469.00,417.02 L469.50,416.06 L470.00,415.32 L470.50,414.86 L471.00,414.70 L471.50,414.86 L472.00,415.32 L472.50,416.06 L473.00,417.02 L473.50,418.16 L474.00,419.43 L474.50,420.76 L475.00,422.13 L475.50,423.49 L476.00,424.80 L476.50,426.05 L477.00,427.20 L477.50,428.26 L478.00,429.22 L478.50,430.06 L479.00,430.80 L479.50,431.43 L480.00,431.97 L480.50,432.43 L481.00,432.80 L481.50,433.11 L482.00,433.37 L482.50,433.58 L483.00,433.74 L483.50,433.88 L484.00,433.99 L484.50,434.08 L485.00,434.15 L485.50,434.21 L486.00,434.27 L486.50,434.31 L487.00,434.35 L487.50,434.38 L488.00,434.41 L488.50,434.44 L489.00,434.46 L489.50,434.49 L490.00,434.51 L490.50,434.53 L491.00,434.54 L491.50,434.56 L492.00,434.57 L492.50,434.59 L493.00,434.60 L493.50,434.61 L494.00,434.63 L494.50,434.64 L495.00,434.65 L495.50,434.66 L496.00,434.67 L496.50,434.68 L497.00,434.68 L497.50,434.69 L498.00,434.70 L498.50,434.71 L499.00,434.71 L499.50,434.72 L500.00,434.73 L500.50,434.73 L501.00,434.74 L501.50,434.74 L502.00,434.75 L502.50,434.75 L503.00,434.76 L503.50,434.76 L504.00,434.76 L504.50,434.77 L505.00,434.77 L505.50,434.78 L506.00,434.78 L506.50,434.78 L507.00,434.79 L507.50,434.79 L508.00,434.79 L508.50,434.79 L509.00,434.80 L509.50,434.80 L510.00,434.80 L510.50,434.80 L511.00,434.81 L511.50,434.81 L512.00,434.81 L512.50,434.81 L513.00,434.82 L513.50,434.82 L514.00,434.82 L514.50,434.82 L515.00,434.82 L515.50,434.82 L516.00,434.83 L516.50,434.83 L517.00,434.83 L517.50,434.83 L518.00,434.83 L518.50,434.83 L519.00,434.83 L519.50,434.84 L520.00,434.84 L520.50,434.84 L521.00,434.84 L521.50,434.84 L522.00,434.84 L522.50,434.84 L523.00,434.84 L523.50,434.85" fill="none" stroke="#2b2be6" stroke-width="1.4" stroke-linejoin="round"/>
<path d="M404.00,434.33 L404.50,434.33 L405.00,434.33 L405.50,434.33 L406.00,434.33 L406.50,434.33 L407.00,434.33 L407.50,434.33 L408.00,434.33 L408.50,434.32 L409.00,434.32 L409.50,434.32 L410.00,434.32 L410.50,434.32 L411.00,434.32 L411.50,434.32 L412.00,434.32 L412.50,434.31 L413.00,434.31 L413.50,434.31 L414.00,434.31 L414.50,434.31 L415.00,434.31 L415.50,434.31 L416.00,434.30 L416.50,434.30 L417.00,434.30 L417.50,434.30 L418.00,434.30 L418.50,434.29 L419.00,434.29 L419.50,434.29 L420.00,434.29 L420.50,434.29 L421.00,434.28 L421.50,434.28 L422.00,434.28 L422.50,434.28 L423.00,434.28 L423.50,434.27 L424.00,434.27 L424.50,434.27 L425.00,434.26 L425.50,434.26 L426.00,434.26 L426.50,434.26 L427.00,434.25 L427.50,434.25 L428.00,434.25 L428.50,434.24 L429.00,434.24 L429.50,434.23 L430.00,434.23 L430.50,434.22 L431.00,434.22 L431.50,434.21 L432.00,434.21 L432.50,434.20 L433.00,434.20 L433.50,434.19 L434.00,434.18 L434.50,434.17 L435.00,434.16 L435.50,434.15 L436.00,434.14 L436.50,434.13 L437.00,434.12 L437.50,434.10 L438.00,434.08 L438.50,434.06 L439.00,434.04 L439.50,434.02 L440.00,433.99 L440.50,433.96 L441.00,433.92 L441.50,433.88 L442.00,433.84 L442.50,433.78 L443.00,433.73 L443.50,433.66 L444.00,433.59 L444.50,433.51 L445.00,433.42 L445.50,433.33 L446.00,433.22 L446.50,433.09 L447.00,432.96 L447.50,432.81 L448.00,432.65 L448.50,432.47 L449.00,432.27 L449.50,432.05 L450.00,431.82 L450.50,431.56 L451.00,431.28 L451.50,430.99 L452.00,430.66 L452.50,430.32 L453.00,429.94 L453.50,429.55 L454.00,429.13 L454.50,428.68 L455.00,428.21 L455.50,427.71 L456.00,427.18 L456.50,426.63 L457.00,426.06 L457.50,425.47 L458.00,424.85 L458.50,424.22 L459.00,423.57 L459.50,422.90 L460.00,422.22 L460.50,421.53 L461.00,420.83 L461.50,420.13 L462.00,419.43 L462.50,418.74 L463.00,418.05 L463.50,417.37 L464.00,416.71 L464.50,416.07 L465.00,415.45 L465.50,414.86 L466.00,414.31 L466.50,413.79 L467.00,413.31 L467.50,412.88 L468.00,412.50 L468.50,412.17 L469.00,411.90 L469.50,411.68 L470.00,411.53 L470.50,411.43 L471.00,411.40 L471.50,411.43 L472.00,411.53 L472.50,411.68 L473.00,411.90 L473.50,412.17 L474.00,412.50 L474.50,412.88 L475.00,413.31 L475.50,413.79 L476.00,414.31 L476.50,414.86 L477.00,415.45 L477.50,416.07 L478.00,416.71 L478.50,417.37 L479.00,418.05 L479.50,418.74 L480.00,419.43 L480.50,420.13 L481.00,420.83 L481.50,421.53 L482.00,422.22 L482.50,422.90 L483.00,423.57 L483.50,424.22 L484.00,424.85 L484.50,425.47 L485.00,426.06 L485.50,426.63 L486.00,427.18 L486.50,427.71 L487.00,428.21 L487.50,428.68 L488.00,429.13 L488.50,429.55 L489.00,429.94 L489.50,430.32 L490.00,430.66 L490.50,430.99 L491.00,431.28 L491.50,431.56 L492.00,431.82 L492.50,432.05 L493.00,432.27 L493.50,432.47 L494.00,432.65 L494.50,432.81 L495.00,432.96 L495.50,433.09 L496.00,433.22 L496.50,433.33 L497.00,433.42 L497.50,433.51 L498.00,433.59 L498.50,433.66 L499.00,433.73 L499.50,433.78 L500.00,433.84 L500.50,433.88 L501.00,433.92 L501.50,433.96 L502.00,433.99 L502.50,434.02 L503.00,434.04 L503.50,434.06 L504.00,434.08 L504.50,434.10 L505.00,434.12 L505.50,434.13 L506.00,434.14 L506.50,434.15 L507.00,434.16 L507.50,434.17 L508.00,434.18 L508.50,434.19 L509.00,434.20 L509.50,434.20 L510.00,434.21 L510.50,434.21 L511.00,434.22 L511.50,434.22 L512.00,434.23 L512.50,434.23 L513.00,434.24 L513.50,434.24 L514.00,434.25 L514.50,434.25 L515.00,434.25 L515.50,434.26 L516.00,434.26 L516.50,434.26 L517.00,434.26 L517.50,434.27 L518.00,434.27 L518.50,434.27 L519.00,434.28 L519.50,434.28 L520.00,434.28 L520.50,434.28 L521.00,434.28 L521.50,434.29 L522.00,434.29 L522.50,434.29 L523.00,434.29 L523.50,434.29" fill="none" stroke="#f51ef0" stroke-width="1.6" stroke-linejoin="round"/>
<path d="M404.00,481.97 L404.50,481.76 L405.00,482.26 L405.50,482.38 L406.00,481.88 L406.50,482.06 L407.00,481.74 L407.50,482.37 L408.00,482.15 L408.50,481.71 L409.00,482.23 L409.50,482.00 L410.00,482.01 L410.50,482.00 L411.00,481.74 L411.50,481.77 L412.00,482.05 L412.50,481.88 L413.00,481.65 L413.50,482.40 L414.00,481.83 L414.50,481.74 L415.00,481.70 L415.50,482.05 L416.00,482.11 L416.50,481.93 L417.00,482.08 L417.50,481.48 L418.00,481.76 L418.50,481.73 L419.00,481.85 L419.50,481.97 L420.00,481.33 L420.50,482.62 L421.00,481.62 L421.50,481.92 L422.00,482.03 L422.50,482.03 L423.00,481.88 L423.50,481.08 L424.00,481.54 L424.50,481.99 L425.00,481.57 L425.50,481.53 L426.00,481.20 L426.50,482.09 L427.00,481.91 L427.50,481.55 L428.00,481.74 L428.50,481.74 L429.00,481.48 L429.50,481.69 L430.00,481.81 L430.50,481.88 L431.00,482.05 L431.50,481.74 L432.00,481.61 L432.50,481.82 L433.00,481.56 L433.50,481.40 L434.00,481.99 L434.50,481.60 L435.00,481.72 L435.50,481.85 L436.00,481.40 L436.50,481.84 L437.00,481.78 L437.50,481.64 L438.00,481.75 L438.50,481.46 L439.00,481.09 L439.50,481.57 L440.00,481.40 L440.50,481.84 L441.00,481.68 L441.50,481.47 L442.00,481.61 L442.50,481.93 L443.00,481.87 L443.50,481.67 L444.00,481.67 L444.50,481.49 L445.00,481.51 L445.50,481.69 L446.00,481.50 L446.50,481.59 L447.00,481.23 L447.50,481.08 L448.00,481.06 L448.50,481.37 L449.00,481.80 L449.50,481.75 L450.00,481.19 L450.50,481.04 L451.00,481.61 L451.50,481.51 L452.00,481.04 L452.50,481.63 L453.00,481.40 L453.50,481.67 L454.00,481.40 L454.50,481.52 L455.00,481.36 L455.50,481.02 L456.00,481.18 L456.50,481.05 L457.00,481.40 L457.50,480.92 L458.00,480.76 L458.50,481.29 L459.00,481.38 L459.50,481.43 L460.00,481.31 L460.50,480.62 L461.00,480.79 L461.50,480.79 L462.00,480.89 L462.50,480.31 L463.00,480.80 L463.50,480.83 L464.00,480.47 L464.50,480.69 L465.00,480.90 L465.50,480.55 L466.00,480.74 L466.50,480.66 L467.00,480.43 L467.50,480.34 L468.00,480.06 L468.50,480.37 L469.00,479.83 L469.50,479.66 L470.00,479.89 L470.50,479.39 L471.00,479.52 L471.50,479.51 L472.00,479.08 L472.50,478.88 L473.00,478.84 L473.50,478.54 L474.00,477.66 L474.50,477.37 L475.00,477.63 L475.50,476.92 L476.00,475.75 L476.50,475.27 L477.00,474.83 L477.50,473.63 L478.00,472.86 L478.50,471.41 L479.00,469.90 L479.50,467.57 L480.00,465.78 L480.50,463.52 L481.00,459.88 L481.50,457.12 L482.00,453.48 L482.50,449.72 L483.00,445.99 L483.50,442.62 L484.00,440.48 L484.50,439.90 L485.00,440.38 L485.50,442.20 L486.00,444.92 L486.50,448.31 L487.00,451.64 L487.50,455.07 L488.00,458.82 L488.50,461.99 L489.00,464.62 L489.50,466.59 L490.00,468.88 L490.50,470.36 L491.00,472.22 L491.50,473.13 L492.00,474.37 L492.50,475.33 L493.00,475.99 L493.50,476.88 L494.00,476.76 L494.50,476.92 L495.00,478.07 L495.50,478.50 L496.00,478.78 L496.50,478.74 L497.00,479.02 L497.50,479.11 L498.00,478.92 L498.50,479.26 L499.00,479.67 L499.50,479.53 L500.00,480.26 L500.50,479.51 L501.00,479.88 L501.50,480.36 L502.00,480.01 L502.50,479.95 L503.00,479.96 L503.50,480.19 L504.00,480.80 L504.50,480.58 L505.00,480.66 L505.50,480.45 L506.00,480.83 L506.50,480.69 L507.00,480.47 L507.50,480.62 L508.00,480.82 L508.50,481.09 L509.00,480.82 L509.50,480.98 L510.00,481.39 L510.50,480.71 L511.00,480.62 L511.50,481.20 L512.00,481.08 L512.50,480.97 L513.00,481.08 L513.50,480.94 L514.00,481.17 L514.50,480.97 L515.00,481.27 L515.50,480.79 L516.00,480.89 L516.50,481.14 L517.00,481.00 L517.50,481.31 L518.00,481.13 L518.50,481.02 L519.00,481.22 L519.50,481.04 L520.00,480.79 L520.50,480.90 L521.00,481.00 L521.50,481.09 L522.00,481.23 L522.50,481.44 L523.00,481.36 L523.50,481.67" fill="none" stroke="#9a9a9a" stroke-width="3.0" stroke-opacity="0.45"/>
<path d="M404.00,481.93 L404.50,481.92 L405.00,481.92 L405.50,481.92 L406.00,481.92 L406.50,481.91 L407.00,481.91 L407.50,481.91 L408.00,481.90 L408.50,481.90 L409.00,481.90 L409.50,481.89 L410.00,481.89 L410.50,481.89 L411.00,481.89 L411.50,481.88 L412.00,481.88 L412.50,481.88 L413.00,481.87 L413.50,481.87 L414.00,481.87 L414.50,481.86 L415.00,481.86 L415.50,481.86 L416.00,481.85 L416.50,481.85 L417.00,481.85 L417.50,481.84 L418.00,481.84 L418.50,481.84 L419.00,481.83 L419.50,481.83 L420.00,481.82 L420.50,481.82 L421.00,481.82 L421.50,481.81 L422.00,481.81 L422.50,481.81 L423.00,481.80 L423.50,481.80 L424.00,481.79 L424.50,481.79 L425.00,481.79 L425.50,481.78 L426.00,481.78 L426.50,481.77 L427.00,481.77 L427.50,481.76 L428.00,481.76 L428.50,481.75 L429.00,481.75 L429.50,481.75 L430.00,481.74 L430.50,481.74 L431.00,481.73 L431.50,481.73 L432.00,481.72 L432.50,481.72 L433.00,481.71 L433.50,481.70 L434.00,481.70 L434.50,481.69 L435.00,481.69 L435.50,481.68 L436.00,481.68 L436.50,481.67 L437.00,481.66 L437.50,481.66 L438.00,481.65 L438.50,481.64 L439.00,481.64 L439.50,481.63 L440.00,481.62 L440.50,481.62 L441.00,481.61 L441.50,481.60 L442.00,481.59 L442.50,481.59 L443.00,481.58 L443.50,481.57 L444.00,481.56 L444.50,481.55 L445.00,481.54 L445.50,481.53 L446.00,481.52 L446.50,481.51 L447.00,481.50 L447.50,481.49 L448.00,481.48 L448.50,481.47 L449.00,481.46 L449.50,481.45 L450.00,481.43 L450.50,481.42 L451.00,481.41 L451.50,481.39 L452.00,481.38 L452.50,481.36 L453.00,481.35 L453.50,481.33 L454.00,481.31 L454.50,481.30 L455.00,481.28 L455.50,481.26 L456.00,481.24 L456.50,481.22 L457.00,481.19 L457.50,481.17 L458.00,481.14 L458.50,481.12 L459.00,481.09 L459.50,481.06 L460.00,481.03 L460.50,481.00 L461.00,480.96 L461.50,480.93 L462.00,480.89 L462.50,480.85 L463.00,480.80 L463.50,480.76 L464.00,480.71 L464.50,480.65 L465.00,480.60 L465.50,480.54 L466.00,480.47 L466.50,480.40 L467.00,480.32 L467.50,480.24 L468.00,480.15 L468.50,480.05 L469.00,479.95 L469.50,479.83 L470.00,479.71 L470.50,479.57 L471.00,479.41 L471.50,479.24 L472.00,479.06 L472.50,478.85 L473.00,478.61 L473.50,478.34 L474.00,478.04 L474.50,477.69 L475.00,477.29 L475.50,476.82 L476.00,476.26 L476.50,475.60 L477.00,474.82 L477.50,473.87 L478.00,472.74 L478.50,471.39 L479.00,469.77 L479.50,467.86 L480.00,465.62 L480.50,463.02 L481.00,460.07 L481.50,456.78 L482.00,453.23 L482.50,449.55 L483.00,446.00 L483.50,442.91 L484.00,440.69 L484.50,439.70 L485.00,440.13 L485.50,441.89 L486.00,444.67 L486.50,448.08 L487.00,451.74 L487.50,455.36 L488.00,458.77 L488.50,461.85 L489.00,464.59 L489.50,466.96 L490.00,469.00 L490.50,470.73 L491.00,472.18 L491.50,473.39 L492.00,474.40 L492.50,475.24 L493.00,475.95 L493.50,476.54 L494.00,477.03 L494.50,477.46 L495.00,477.82 L495.50,478.14 L496.00,478.42 L496.50,478.66 L497.00,478.88 L497.50,479.07 L498.00,479.24 L498.50,479.40 L499.00,479.54 L499.50,479.66 L500.00,479.78 L500.50,479.89 L501.00,479.98 L501.50,480.07 L502.00,480.15 L502.50,480.23 L503.00,480.30 L503.50,480.36 L504.00,480.42 L504.50,480.47 L505.00,480.52 L505.50,480.57 L506.00,480.61 L506.50,480.66 L507.00,480.69 L507.50,480.73 L508.00,480.76 L508.50,480.79 L509.00,480.82 L509.50,480.85 L510.00,480.88 L510.50,480.90 L511.00,480.92 L511.50,480.94 L512.00,480.96 L512.50,480.98 L513.00,481.00 L513.50,481.02 L514.00,481.03 L514.50,481.05 L515.00,481.06 L515.50,481.08 L516.00,481.09 L516.50,481.10 L517.00,481.11 L517.50,481.12 L518.00,481.13 L518.50,481.14 L519.00,481.15 L519.50,481.16 L520.00,481.17 L520.50,481.18 L521.00,481.19 L521.50,481.19 L522.00,481.20 L522.50,481.21 L523.00,481.21 L523.50,481.22" fill="none" stroke="#6a1616" stroke-width="2.0" stroke-linejoin="round"/>
<path d="M531.50,291.64 L532.00,291.28 L532.50,291.73 L533.00,291.61 L533.50,291.20 L534.00,291.39 L534.50,291.59 L535.00,291.37 L535.50,291.56 L536.00,291.40 L536.50,291.48 L537.00,291.22 L537.50,291.39 L538.00,291.20 L538.50,291.46 L539.00,290.87 L539.50,291.37 L540.00,291.60 L540.50,291.43 L541.00,291.27 L541.50,291.41 L542.00,291.06 L542.50,291.06 L543.00,291.17 L543.50,291.22 L544.00,291.49 L544.50,291.02 L545.00,291.49 L545.50,290.84 L546.00,291.04 L546.50,291.22 L547.00,291.51 L547.50,291.06 L548.00,290.67 L548.50,291.31 L549.00,291.19 L549.50,290.92 L550.00,290.92 L550.50,291.00 L551.00,291.19 L551.50,291.32 L552.00,290.77 L552.50,291.71 L553.00,291.11 L553.50,291.02 L554.00,291.27 L554.50,291.11 L555.00,291.66 L555.50,291.33 L556.00,290.95 L556.50,290.93 L557.00,290.89 L557.50,290.91 L558.00,291.14 L558.50,290.79 L559.00,291.33 L559.50,290.88 L560.00,290.84 L560.50,291.08 L561.00,290.32 L561.50,290.54 L562.00,290.89 L562.50,290.70 L563.00,290.65 L563.50,290.71 L564.00,290.40 L564.50,290.45 L565.00,290.09 L565.50,289.89 L566.00,290.59 L566.50,289.95 L567.00,289.91 L567.50,290.32 L568.00,290.11 L568.50,289.56 L569.00,289.39 L569.50,289.31 L570.00,288.87 L570.50,288.98 L571.00,288.57 L571.50,288.19 L572.00,287.90 L572.50,287.34 L573.00,286.92 L573.50,285.94 L574.00,283.94 L574.50,283.01 L575.00,280.38 L575.50,277.48 L576.00,274.32 L576.50,269.29 L577.00,263.72 L577.50,257.71 L578.00,251.06 L578.50,246.46 L579.00,245.57 L579.50,248.48 L580.00,253.74 L580.50,259.64 L581.00,266.02 L581.50,271.42 L582.00,276.22 L582.50,279.28 L583.00,281.80 L583.50,283.78 L584.00,284.81 L584.50,286.07 L585.00,286.88 L585.50,287.15 L586.00,287.90 L586.50,288.46 L587.00,288.39 L587.50,289.15 L588.00,289.39 L588.50,289.67 L589.00,289.40 L589.50,289.78 L590.00,290.26 L590.50,290.22 L591.00,289.93 L591.50,290.28 L592.00,290.66 L592.50,290.37 L593.00,290.55 L593.50,291.16 L594.00,290.57 L594.50,290.60 L595.00,290.42 L595.50,290.55 L596.00,291.13 L596.50,290.76 L597.00,290.53 L597.50,290.62 L598.00,290.88 L598.50,291.10 L599.00,290.75 L599.50,291.13 L600.00,290.85 L600.50,291.08 L601.00,291.14 L601.50,291.18 L602.00,290.94 L602.50,291.02 L603.00,291.20 L603.50,290.76 L604.00,291.14 L604.50,291.24 L605.00,291.38 L605.50,291.12 L606.00,291.09 L606.50,291.18 L607.00,290.97 L607.50,291.11 L608.00,291.28 L608.50,291.25 L609.00,290.93 L609.50,291.11 L610.00,290.67 L610.50,291.41 L611.00,291.08 L611.50,291.28 L612.00,290.95 L612.50,291.21 L613.00,291.34 L613.50,291.48 L614.00,290.90 L614.50,291.46 L615.00,291.21 L615.50,291.06 L616.00,291.37 L616.50,291.19 L617.00,291.19 L617.50,291.09 L618.00,291.32 L618.50,291.28 L619.00,291.23 L619.50,291.04 L620.00,291.15 L620.50,291.38 L621.00,291.61 L621.50,291.28 L622.00,291.64 L622.50,291.29 L623.00,291.02 L623.50,291.46 L624.00,291.06 L624.50,291.40 L625.00,291.57 L625.50,291.23 L626.00,291.29 L626.50,291.93 L627.00,291.37 L627.50,291.38 L628.00,291.51 L628.50,291.29 L629.00,291.30 L629.50,291.41 L630.00,290.72 L630.50,291.68 L631.00,291.06 L631.50,291.06 L632.00,291.46 L632.50,291.33 L633.00,291.02 L633.50,291.38 L634.00,291.05 L634.50,291.16 L635.00,290.96 L635.50,291.13 L636.00,291.44 L636.50,291.37 L637.00,291.42 L637.50,291.57 L638.00,291.33 L638.50,291.18 L639.00,291.27 L639.50,291.75 L640.00,291.35 L640.50,291.42 L641.00,291.32 L641.50,291.41 L642.00,291.45 L642.50,291.35 L643.00,291.31 L643.50,291.15 L644.00,291.14 L644.50,291.45 L645.00,291.54 L645.50,291.58 L646.00,291.37 L646.50,291.15 L647.00,291.51 L647.50,291.51 L648.00,290.98 L648.50,291.56 L649.00,291.50 L649.50,291.77 L650.00,291.08 L650.50,291.04 L651.00,291.55 L651.50,290.91" fill="none" stroke="#9a9a9a" stroke-width="3.0" stroke-opacity="0.45"/>
<path d="M531.50,291.31 L532.00,291.31 L532.50,291.31 L533.00,291.31 L533.50,291.31 L534.00,291.30 L534.50,291.30 L535.00,291.30 L535.50,291.30 L536.00,291.29 L536.50,291.29 L537.00,291.29 L537.50,291.29 L538.00,291.28 L538.50,291.28 L539.00,291.28 L539.50,291.28 L540.00,291.27 L540.50,291.27 L541.00,291.26 L541.50,291.26 L542.00,291.26 L542.50,291.25 L543.00,291.25 L543.50,291.25 L544.00,291.24 L544.50,291.24 L545.00,291.23 L545.50,291.23 L546.00,291.22 L546.50,291.22 L547.00,291.21 L547.50,291.20 L548.00,291.20 L548.50,291.19 L549.00,291.18 L549.50,291.18 L550.00,291.17 L550.50,291.16 L551.00,291.15 L551.50,291.14 L552.00,291.13 L552.50,291.12 L553.00,291.11 L553.50,291.10 L554.00,291.09 L554.50,291.08 L555.00,291.06 L555.50,291.05 L556.00,291.03 L556.50,291.02 L557.00,291.00 L557.50,290.98 L558.00,290.96 L558.50,290.94 L559.00,290.91 L559.50,290.89 L560.00,290.86 L560.50,290.83 L561.00,290.80 L561.50,290.77 L562.00,290.73 L562.50,290.69 L563.00,290.65 L563.50,290.60 L564.00,290.54 L564.50,290.48 L565.00,290.42 L565.50,290.35 L566.00,290.27 L566.50,290.18 L567.00,290.07 L567.50,289.96 L568.00,289.83 L568.50,289.68 L569.00,289.52 L569.50,289.32 L570.00,289.10 L570.50,288.83 L571.00,288.52 L571.50,288.15 L572.00,287.70 L572.50,287.15 L573.00,286.45 L573.50,285.55 L574.00,284.36 L574.50,282.77 L575.00,280.65 L575.50,277.82 L576.00,274.13 L576.50,269.46 L577.00,263.79 L577.50,257.43 L578.00,251.21 L578.50,246.67 L579.00,245.48 L579.50,248.17 L580.00,253.60 L580.50,260.02 L581.00,266.17 L581.50,271.45 L582.00,275.72 L582.50,279.05 L583.00,281.57 L583.50,283.47 L584.00,284.88 L584.50,285.94 L585.00,286.75 L585.50,287.38 L586.00,287.89 L586.50,288.31 L587.00,288.65 L587.50,288.94 L588.00,289.19 L588.50,289.40 L589.00,289.59 L589.50,289.75 L590.00,289.89 L590.50,290.01 L591.00,290.12 L591.50,290.21 L592.00,290.30 L592.50,290.38 L593.00,290.45 L593.50,290.51 L594.00,290.57 L594.50,290.62 L595.00,290.66 L595.50,290.71 L596.00,290.75 L596.50,290.78 L597.00,290.82 L597.50,290.85 L598.00,290.87 L598.50,290.90 L599.00,290.92 L599.50,290.95 L600.00,290.97 L600.50,290.99 L601.00,291.01 L601.50,291.02 L602.00,291.04 L602.50,291.05 L603.00,291.07 L603.50,291.08 L604.00,291.09 L604.50,291.11 L605.00,291.12 L605.50,291.13 L606.00,291.14 L606.50,291.15 L607.00,291.16 L607.50,291.16 L608.00,291.17 L608.50,291.18 L609.00,291.19 L609.50,291.19 L610.00,291.20 L610.50,291.21 L611.00,291.21 L611.50,291.22 L612.00,291.22 L612.50,291.23 L613.00,291.23 L613.50,291.24 L614.00,291.24 L614.50,291.25 L615.00,291.25 L615.50,291.26 L616.00,291.26 L616.50,291.26 L617.00,291.27 L617.50,291.27 L618.00,291.27 L618.50,291.28 L619.00,291.28 L619.50,291.28 L620.00,291.29 L620.50,291.29 L621.00,291.29 L621.50,291.29 L622.00,291.30 L622.50,291.30 L623.00,291.30 L623.50,291.30 L624.00,291.30 L624.50,291.31 L625.00,291.31 L625.50,291.31 L626.00,291.31 L626.50,291.31 L627.00,291.32 L627.50,291.32 L628.00,291.32 L628.50,291.32 L629.00,291.32 L629.50,291.32 L630.00,291.33 L630.50,291.33 L631.00,291.33 L631.50,291.33 L632.00,291.33 L632.50,291.33 L633.00,291.33 L633.50,291.33 L634.00,291.34 L634.50,291.34 L635.00,291.34 L635.50,291.34 L636.00,291.34 L636.50,291.34 L637.00,291.34 L637.50,291.34 L638.00,291.34 L638.50,291.35 L639.00,291.35 L639.50,291.35 L640.00,291.35 L640.50,291.35 L641.00,291.35 L641.50,291.35 L642.00,291.35 L642.50,291.35 L643.00,291.35 L643.50,291.35 L644.00,291.35 L644.50,291.35 L645.00,291.36 L645.50,291.36 L646.00,291.36 L646.50,291.36 L647.00,291.36 L647.50,291.36 L648.00,291.36 L648.50,291.36 L649.00,291.36 L649.50,291.36 L650.00,291.36 L650.50,291.36 L651.00,291.36 L651.50,291.36" fill="none" stroke="#7b20f0" stroke-width="2.0" stroke-linejoin="round"/>
<path d="M531.50,338.63 L532.00,338.54 L532.50,338.55 L533.00,338.33 L533.50,338.74 L534.00,339.04 L534.50,338.91 L535.00,338.91 L535.50,338.71 L536.00,339.15 L536.50,338.92 L537.00,339.05 L537.50,338.40 L538.00,338.87 L538.50,338.50 L539.00,338.87 L539.50,338.83 L540.00,338.49 L540.50,338.82 L541.00,339.06 L541.50,338.89 L542.00,338.91 L542.50,338.54 L543.00,338.59 L543.50,338.48 L544.00,338.78 L544.50,339.04 L545.00,338.85 L545.50,338.74 L546.00,338.45 L546.50,338.84 L547.00,338.66 L547.50,338.24 L548.00,338.28 L548.50,338.62 L549.00,338.48 L549.50,339.11 L550.00,338.70 L550.50,338.42 L551.00,338.55 L551.50,339.06 L552.00,338.42 L552.50,338.84 L553.00,338.75 L553.50,339.00 L554.00,338.76 L554.50,338.52 L555.00,338.74 L555.50,338.61 L556.00,338.83 L556.50,338.56 L557.00,339.05 L557.50,338.52 L558.00,338.64 L558.50,338.35 L559.00,338.53 L559.50,338.49 L560.00,338.50 L560.50,338.67 L561.00,338.29 L561.50,338.19 L562.00,338.65 L562.50,338.28 L563.00,338.15 L563.50,338.57 L564.00,338.45 L564.50,337.56 L565.00,338.09 L565.50,338.33 L566.00,338.30 L566.50,337.91 L567.00,338.37 L567.50,337.73 L568.00,337.80 L568.50,337.81 L569.00,337.70 L569.50,337.81 L570.00,337.76 L570.50,337.38 L571.00,337.60 L571.50,336.94 L572.00,336.89 L572.50,337.18 L573.00,336.55 L573.50,336.54 L574.00,335.86 L574.50,335.54 L575.00,335.15 L575.50,334.69 L576.00,333.91 L576.50,333.16 L577.00,332.25 L577.50,330.99 L578.00,328.92 L578.50,326.74 L579.00,323.89 L579.50,319.78 L580.00,315.35 L580.50,311.26 L581.00,306.10 L581.50,301.28 L582.00,298.50 L582.50,297.90 L583.00,300.18 L583.50,304.87 L584.00,309.46 L584.50,315.03 L585.00,319.07 L585.50,323.07 L586.00,326.53 L586.50,328.95 L587.00,330.30 L587.50,332.10 L588.00,332.71 L588.50,333.70 L589.00,334.62 L589.50,335.43 L590.00,335.39 L590.50,336.04 L591.00,336.24 L591.50,336.17 L592.00,336.67 L592.50,337.28 L593.00,337.06 L593.50,337.35 L594.00,337.57 L594.50,337.30 L595.00,337.89 L595.50,338.06 L596.00,338.16 L596.50,338.17 L597.00,337.80 L597.50,337.83 L598.00,337.84 L598.50,337.86 L599.00,337.93 L599.50,338.42 L600.00,338.58 L600.50,338.09 L601.00,338.49 L601.50,338.00 L602.00,338.26 L602.50,338.12 L603.00,337.99 L603.50,338.43 L604.00,338.46 L604.50,338.36 L605.00,338.35 L605.50,338.25 L606.00,338.48 L606.50,338.38 L607.00,338.60 L607.50,338.26 L608.00,338.63 L608.50,338.71 L609.00,338.90 L609.50,338.87 L610.00,338.66 L610.50,338.46 L611.00,338.18 L611.50,338.64 L612.00,339.01 L612.50,339.07 L613.00,338.03 L613.50,338.49 L614.00,338.60 L614.50,338.43 L615.00,338.74 L615.50,338.71 L616.00,338.58 L616.50,338.70 L617.00,338.32 L617.50,338.48 L618.00,338.50 L618.50,338.96 L619.00,338.33 L619.50,338.69 L620.00,338.94 L620.50,338.74 L621.00,338.96 L621.50,338.59 L622.00,338.87 L622.50,338.99 L623.00,339.33 L623.50,338.95 L624.00,339.13 L624.50,338.78 L625.00,338.81 L625.50,339.18 L626.00,338.93 L626.50,339.14 L627.00,338.97 L627.50,339.33 L628.00,339.39 L628.50,338.59 L629.00,339.27 L629.50,338.91 L630.00,338.93 L630.50,338.78 L631.00,338.99 L631.50,338.54 L632.00,338.63 L632.50,338.63 L633.00,338.89 L633.50,339.05 L634.00,339.01 L634.50,338.92 L635.00,338.68 L635.50,338.39 L636.00,338.93 L636.50,338.87 L637.00,338.92 L637.50,339.19 L638.00,338.79 L638.50,338.79 L639.00,338.26 L639.50,338.98 L640.00,338.83 L640.50,338.66 L641.00,338.94 L641.50,338.58 L642.00,338.71 L642.50,339.34 L643.00,339.04 L643.50,339.08 L644.00,339.04 L644.50,339.01 L645.00,338.90 L645.50,339.42 L646.00,338.83 L646.50,339.04 L647.00,338.80 L647.50,338.77 L648.00,338.25 L648.50,338.37 L649.00,339.24 L649.50,339.23 L650.00,338.75 L650.50,338.85 L651.00,339.01 L651.50,338.61" fill="none" stroke="#9a9a9a" stroke-width="3.0" stroke-opacity="0.45"/>
<path d="M531.50,338.81 L532.00,338.81 L532.50,338.81 L533.00,338.81 L533.50,338.81 L534.00,338.81 L534.50,338.80 L535.00,338.80 L535.50,338.80 L536.00,338.80 L536.50,338.79 L537.00,338.79 L537.50,338.79 L538.00,338.79 L538.50,338.78 L539.00,338.78 L539.50,338.78 L540.00,338.78 L540.50,338.77 L541.00,338.77 L541.50,338.77 L542.00,338.76 L542.50,338.76 L543.00,338.76 L543.50,338.75 L544.00,338.75 L544.50,338.75 L545.00,338.74 L545.50,338.74 L546.00,338.73 L546.50,338.73 L547.00,338.72 L547.50,338.72 L548.00,338.71 L548.50,338.71 L549.00,338.70 L549.50,338.70 L550.00,338.69 L550.50,338.68 L551.00,338.68 L551.50,338.67 L552.00,338.66 L552.50,338.65 L553.00,338.64 L553.50,338.63 L554.00,338.63 L554.50,338.62 L555.00,338.61 L555.50,338.59 L556.00,338.58 L556.50,338.57 L557.00,338.56 L557.50,338.54 L558.00,338.53 L558.50,338.51 L559.00,338.50 L559.50,338.48 L560.00,338.46 L560.50,338.44 L561.00,338.42 L561.50,338.40 L562.00,338.37 L562.50,338.34 L563.00,338.32 L563.50,338.28 L564.00,338.25 L564.50,338.21 L565.00,338.18 L565.50,338.13 L566.00,338.09 L566.50,338.04 L567.00,337.98 L567.50,337.92 L568.00,337.85 L568.50,337.78 L569.00,337.69 L569.50,337.60 L570.00,337.50 L570.50,337.38 L571.00,337.25 L571.50,337.10 L572.00,336.94 L572.50,336.74 L573.00,336.52 L573.50,336.26 L574.00,335.96 L574.50,335.60 L575.00,335.17 L575.50,334.64 L576.00,333.99 L576.50,333.15 L577.00,332.08 L577.50,330.69 L578.00,328.89 L578.50,326.58 L579.00,323.65 L579.50,320.04 L580.00,315.73 L580.50,310.85 L581.00,305.76 L581.50,301.26 L582.00,298.41 L582.50,298.13 L583.00,300.52 L583.50,304.79 L584.00,309.83 L584.50,314.79 L585.00,319.24 L585.50,322.99 L586.00,326.04 L586.50,328.47 L587.00,330.36 L587.50,331.83 L588.00,332.96 L588.50,333.84 L589.00,334.52 L589.50,335.08 L590.00,335.52 L590.50,335.90 L591.00,336.21 L591.50,336.47 L592.00,336.70 L592.50,336.90 L593.00,337.07 L593.50,337.22 L594.00,337.36 L594.50,337.48 L595.00,337.58 L595.50,337.67 L596.00,337.76 L596.50,337.84 L597.00,337.91 L597.50,337.97 L598.00,338.02 L598.50,338.08 L599.00,338.12 L599.50,338.17 L600.00,338.21 L600.50,338.24 L601.00,338.28 L601.50,338.31 L602.00,338.34 L602.50,338.37 L603.00,338.39 L603.50,338.41 L604.00,338.44 L604.50,338.46 L605.00,338.48 L605.50,338.49 L606.00,338.51 L606.50,338.53 L607.00,338.54 L607.50,338.55 L608.00,338.57 L608.50,338.58 L609.00,338.59 L609.50,338.60 L610.00,338.61 L610.50,338.62 L611.00,338.63 L611.50,338.64 L612.00,338.65 L612.50,338.66 L613.00,338.67 L613.50,338.67 L614.00,338.68 L614.50,338.69 L615.00,338.69 L615.50,338.70 L616.00,338.71 L616.50,338.71 L617.00,338.72 L617.50,338.72 L618.00,338.73 L618.50,338.73 L619.00,338.74 L619.50,338.74 L620.00,338.74 L620.50,338.75 L621.00,338.75 L621.50,338.76 L622.00,338.76 L622.50,338.76 L623.00,338.77 L623.50,338.77 L624.00,338.77 L624.50,338.78 L625.00,338.78 L625.50,338.78 L626.00,338.78 L626.50,338.79 L627.00,338.79 L627.50,338.79 L628.00,338.79 L628.50,338.80 L629.00,338.80 L629.50,338.80 L630.00,338.80 L630.50,338.80 L631.00,338.81 L631.50,338.81 L632.00,338.81 L632.50,338.81 L633.00,338.81 L633.50,338.82 L634.00,338.82 L634.50,338.82 L635.00,338.82 L635.50,338.82 L636.00,338.82 L636.50,338.82 L637.00,338.83 L637.50,338.83 L638.00,338.83 L638.50,338.83 L639.00,338.83 L639.50,338.83 L640.00,338.83 L640.50,338.83 L641.00,338.84 L641.50,338.84 L642.00,338.84 L642.50,338.84 L643.00,338.84 L643.50,338.84 L644.00,338.84 L644.50,338.84 L645.00,338.84 L645.50,338.84 L646.00,338.85 L646.50,338.85 L647.00,338.85 L647.50,338.85 L648.00,338.85 L648.50,338.85 L649.00,338.85 L649.50,338.85 L650.00,338.85 L650.50,338.85 L651.00,338.85 L651.50,338.85" fill="none" stroke="#1eb6ea" stroke-width="2.0" stroke-linejoin="round"/>
<path d="M531.50,387.66 L532.00,386.96 L532.50,387.03 L533.00,386.52 L533.50,387.58 L534.00,387.22 L534.50,387.60 L535.00,386.94 L535.50,387.27 L536.00,387.20 L536.50,387.23 L537.00,387.69 L537.50,387.74 L538.00,387.51 L538.50,387.06 L539.00,387.38 L539.50,387.49 L540.00,387.28 L540.50,387.28 L541.00,387.25 L541.50,386.90 L542.00,387.18 L542.50,387.51 L543.00,386.86 L543.50,387.12 L544.00,387.30 L544.50,386.74 L545.00,387.04 L545.50,386.64 L546.00,386.91 L546.50,386.70 L547.00,386.82 L547.50,386.91 L548.00,386.95 L548.50,386.96 L549.00,386.40 L549.50,387.38 L550.00,386.91 L550.50,386.69 L551.00,386.79 L551.50,387.01 L552.00,386.67 L552.50,386.80 L553.00,386.78 L553.50,387.01 L554.00,386.67 L554.50,386.96 L555.00,386.91 L555.50,386.77 L556.00,387.10 L556.50,386.77 L557.00,386.45 L557.50,386.79 L558.00,386.73 L558.50,386.66 L559.00,386.70 L559.50,387.20 L560.00,386.64 L560.50,386.67 L561.00,386.46 L561.50,386.81 L562.00,386.43 L562.50,386.20 L563.00,386.05 L563.50,386.44 L564.00,386.45 L564.50,385.81 L565.00,385.97 L565.50,386.25 L566.00,386.28 L566.50,385.63 L567.00,385.78 L567.50,386.01 L568.00,385.58 L568.50,385.50 L569.00,385.38 L569.50,385.07 L570.00,385.29 L570.50,385.22 L571.00,384.65 L571.50,384.86 L572.00,384.93 L572.50,384.51 L573.00,384.47 L573.50,383.85 L574.00,384.05 L574.50,383.20 L575.00,383.51 L575.50,382.53 L576.00,382.00 L576.50,381.44 L577.00,380.96 L577.50,380.26 L578.00,379.44 L578.50,378.64 L579.00,377.89 L579.50,376.81 L580.00,375.23 L580.50,374.21 L581.00,372.09 L581.50,370.38 L582.00,368.56 L582.50,367.13 L583.00,364.76 L583.50,363.10 L584.00,362.33 L584.50,361.40 L585.00,360.78 L585.50,360.13 L586.00,361.14 L586.50,362.47 L587.00,363.79 L587.50,365.10 L588.00,367.27 L588.50,368.78 L589.00,370.68 L589.50,373.20 L590.00,374.36 L590.50,375.22 L591.00,376.45 L591.50,378.05 L592.00,378.76 L592.50,379.91 L593.00,380.36 L593.50,381.14 L594.00,381.83 L594.50,382.02 L595.00,382.24 L595.50,382.81 L596.00,383.28 L596.50,383.71 L597.00,384.02 L597.50,384.26 L598.00,384.62 L598.50,384.47 L599.00,385.21 L599.50,385.52 L600.00,385.26 L600.50,385.35 L601.00,385.73 L601.50,385.69 L602.00,385.68 L602.50,385.68 L603.00,385.63 L603.50,385.60 L604.00,386.13 L604.50,386.33 L605.00,385.84 L605.50,386.14 L606.00,386.27 L606.50,386.16 L607.00,386.13 L607.50,386.26 L608.00,385.91 L608.50,386.43 L609.00,386.41 L609.50,387.05 L610.00,386.79 L610.50,386.50 L611.00,386.61 L611.50,387.07 L612.00,387.07 L612.50,386.74 L613.00,386.69 L613.50,386.38 L614.00,386.68 L614.50,386.74 L615.00,386.62 L615.50,387.26 L616.00,386.37 L616.50,386.83 L617.00,386.98 L617.50,387.00 L618.00,387.33 L618.50,386.57 L619.00,386.75 L619.50,386.97 L620.00,386.99 L620.50,386.88 L621.00,386.79 L621.50,387.26 L622.00,386.74 L622.50,386.87 L623.00,387.38 L623.50,387.47 L624.00,387.26 L624.50,386.84 L625.00,386.85 L625.50,386.84 L626.00,386.79 L626.50,386.98 L627.00,387.41 L627.50,387.15 L628.00,386.92 L628.50,386.92 L629.00,386.82 L629.50,387.43 L630.00,386.63 L630.50,387.20 L631.00,386.78 L631.50,386.88 L632.00,386.78 L632.50,387.40 L633.00,387.14 L633.50,387.85 L634.00,386.91 L634.50,386.90 L635.00,387.33 L635.50,387.32 L636.00,387.12 L636.50,386.68 L637.00,387.55 L637.50,387.34 L638.00,387.30 L638.50,387.06 L639.00,387.37 L639.50,387.07 L640.00,387.22 L640.50,387.17 L641.00,387.53 L641.50,387.10 L642.00,387.14 L642.50,387.50 L643.00,387.29 L643.50,387.23 L644.00,387.17 L644.50,387.47 L645.00,387.08 L645.50,387.36 L646.00,387.75 L646.50,387.34 L647.00,387.05 L647.50,386.95 L648.00,387.29 L648.50,386.95 L649.00,386.86 L649.50,387.07 L650.00,386.98 L650.50,387.48 L651.00,386.90 L651.50,387.66" fill="none" stroke="#9a9a9a" stroke-width="3.0" stroke-opacity="0.45"/>
<path d="M531.50,387.22 L532.00,387.21 L532.50,387.21 L533.00,387.20 L533.50,387.20 L534.00,387.20 L534.50,387.19 L535.00,387.19 L535.50,387.18 L536.00,387.18 L536.50,387.18 L537.00,387.17 L537.50,387.17 L538.00,387.16 L538.50,387.16 L539.00,387.15 L539.50,387.15 L540.00,387.14 L540.50,387.13 L541.00,387.13 L541.50,387.12 L542.00,387.12 L542.50,387.11 L543.00,387.10 L543.50,387.10 L544.00,387.09 L544.50,387.08 L545.00,387.07 L545.50,387.06 L546.00,387.06 L546.50,387.05 L547.00,387.04 L547.50,387.03 L548.00,387.02 L548.50,387.01 L549.00,387.00 L549.50,386.99 L550.00,386.97 L550.50,386.96 L551.00,386.95 L551.50,386.94 L552.00,386.92 L552.50,386.91 L553.00,386.89 L553.50,386.88 L554.00,386.86 L554.50,386.84 L555.00,386.83 L555.50,386.81 L556.00,386.79 L556.50,386.77 L557.00,386.74 L557.50,386.72 L558.00,386.70 L558.50,386.67 L559.00,386.64 L559.50,386.61 L560.00,386.58 L560.50,386.55 L561.00,386.52 L561.50,386.48 L562.00,386.44 L562.50,386.40 L563.00,386.36 L563.50,386.31 L564.00,386.26 L564.50,386.21 L565.00,386.15 L565.50,386.09 L566.00,386.03 L566.50,385.96 L567.00,385.88 L567.50,385.80 L568.00,385.71 L568.50,385.62 L569.00,385.51 L569.50,385.40 L570.00,385.28 L570.50,385.14 L571.00,385.00 L571.50,384.83 L572.00,384.65 L572.50,384.46 L573.00,384.23 L573.50,383.99 L574.00,383.71 L574.50,383.40 L575.00,383.04 L575.50,382.64 L576.00,382.18 L576.50,381.66 L577.00,381.06 L577.50,380.38 L578.00,379.61 L578.50,378.73 L579.00,377.72 L579.50,376.59 L580.00,375.32 L580.50,373.90 L581.00,372.34 L581.50,370.64 L582.00,368.84 L582.50,366.98 L583.00,365.15 L583.50,363.45 L584.00,362.01 L584.50,360.97 L585.00,360.45 L585.50,360.51 L586.00,361.14 L586.50,362.27 L587.00,363.77 L587.50,365.51 L588.00,367.35 L588.50,369.21 L589.00,370.99 L589.50,372.66 L590.00,374.20 L590.50,375.58 L591.00,376.83 L591.50,377.93 L592.00,378.91 L592.50,379.77 L593.00,380.53 L593.50,381.19 L594.00,381.77 L594.50,382.28 L595.00,382.72 L595.50,383.12 L596.00,383.46 L596.50,383.77 L597.00,384.04 L597.50,384.28 L598.00,384.50 L598.50,384.69 L599.00,384.87 L599.50,385.03 L600.00,385.17 L600.50,385.30 L601.00,385.42 L601.50,385.53 L602.00,385.64 L602.50,385.73 L603.00,385.82 L603.50,385.90 L604.00,385.97 L604.50,386.04 L605.00,386.10 L605.50,386.16 L606.00,386.22 L606.50,386.27 L607.00,386.32 L607.50,386.37 L608.00,386.41 L608.50,386.45 L609.00,386.49 L609.50,386.52 L610.00,386.56 L610.50,386.59 L611.00,386.62 L611.50,386.65 L612.00,386.67 L612.50,386.70 L613.00,386.72 L613.50,386.75 L614.00,386.77 L614.50,386.79 L615.00,386.81 L615.50,386.83 L616.00,386.85 L616.50,386.86 L617.00,386.88 L617.50,386.90 L618.00,386.91 L618.50,386.93 L619.00,386.94 L619.50,386.95 L620.00,386.96 L620.50,386.98 L621.00,386.99 L621.50,387.00 L622.00,387.01 L622.50,387.02 L623.00,387.03 L623.50,387.04 L624.00,387.05 L624.50,387.06 L625.00,387.07 L625.50,387.07 L626.00,387.08 L626.50,387.09 L627.00,387.10 L627.50,387.10 L628.00,387.11 L628.50,387.12 L629.00,387.12 L629.50,387.13 L630.00,387.14 L630.50,387.14 L631.00,387.15 L631.50,387.15 L632.00,387.16 L632.50,387.16 L633.00,387.17 L633.50,387.17 L634.00,387.18 L634.50,387.18 L635.00,387.19 L635.50,387.19 L636.00,387.19 L636.50,387.20 L637.00,387.20 L637.50,387.21 L638.00,387.21 L638.50,387.21 L639.00,387.22 L639.50,387.22 L640.00,387.22 L640.50,387.23 L641.00,387.23 L641.50,387.23 L642.00,387.23 L642.50,387.24 L643.00,387.24 L643.50,387.24 L644.00,387.25 L644.50,387.25 L645.00,387.25 L645.50,387.25 L646.00,387.26 L646.50,387.26 L647.00,387.26 L647.50,387.26 L648.00,387.26 L648.50,387.27 L649.00,387.27 L649.50,387.27 L650.00,387.27 L650.50,387.27 L651.00,387.28 L651.50,387.28" fill="none" stroke="#f08a1c" stroke-width="2.0" stroke-linejoin="round"/>
<path d="M531.50,434.35 L532.00,434.56 L532.50,434.70 L533.00,434.59 L533.50,434.71 L534.00,434.28 L534.50,433.96 L535.00,434.47 L535.50,434.10 L536.00,434.37 L536.50,434.75 L537.00,434.46 L537.50,434.36 L538.00,434.22 L538.50,434.43 L539.00,434.46 L539.50,434.10 L540.00,434.56 L540.50,434.22 L541.00,434.53 L541.50,434.36 L542.00,434.72 L542.50,434.68 L543.00,434.46 L543.50,434.42 L544.00,434.55 L544.50,434.78 L545.00,434.70 L545.50,434.46 L546.00,434.49 L546.50,434.80 L547.00,433.98 L547.50,434.51 L548.00,434.13 L548.50,434.67 L549.00,434.19 L549.50,434.26 L550.00,434.00 L550.50,434.24 L551.00,434.40 L551.50,434.57 L552.00,433.78 L552.50,433.92 L553.00,434.94 L553.50,434.11 L554.00,433.77 L554.50,433.80 L555.00,432.88 L555.50,433.82 L556.00,433.30 L556.50,432.66 L557.00,432.93 L557.50,431.97 L558.00,431.28 L558.50,431.04 L559.00,430.40 L559.50,429.51 L560.00,428.81 L560.50,427.67 L561.00,426.85 L561.50,426.76 L562.00,426.38 L562.50,425.93 L563.00,425.95 L563.50,425.98 L564.00,426.36 L564.50,426.48 L565.00,427.40 L565.50,427.04 L566.00,427.57 L566.50,427.76 L567.00,427.66 L567.50,428.65 L568.00,428.07 L568.50,427.79 L569.00,427.74 L569.50,427.21 L570.00,427.17 L570.50,426.66 L571.00,426.80 L571.50,426.42 L572.00,425.79 L572.50,426.11 L573.00,425.63 L573.50,425.07 L574.00,425.26 L574.50,425.15 L575.00,425.45 L575.50,424.73 L576.00,425.12 L576.50,424.85 L577.00,425.01 L577.50,424.76 L578.00,424.80 L578.50,424.93 L579.00,424.50 L579.50,424.29 L580.00,424.86 L580.50,424.82 L581.00,425.03 L581.50,425.26 L582.00,425.12 L582.50,425.54 L583.00,425.28 L583.50,425.33 L584.00,425.50 L584.50,425.38 L585.00,425.14 L585.50,425.10 L586.00,424.77 L586.50,424.69 L587.00,424.76 L587.50,424.83 L588.00,424.43 L588.50,424.67 L589.00,424.91 L589.50,424.95 L590.00,424.44 L590.50,424.74 L591.00,424.69 L591.50,424.81 L592.00,424.91 L592.50,424.92 L593.00,425.08 L593.50,425.04 L594.00,425.08 L594.50,425.39 L595.00,425.62 L595.50,425.95 L596.00,425.82 L596.50,425.91 L597.00,426.02 L597.50,425.33 L598.00,425.36 L598.50,425.34 L599.00,424.87 L599.50,424.15 L600.00,424.11 L600.50,423.13 L601.00,421.71 L601.50,420.66 L602.00,417.77 L602.50,415.91 L603.00,413.05 L603.50,410.00 L604.00,407.19 L604.50,404.97 L605.00,403.78 L605.50,403.45 L606.00,404.53 L606.50,407.60 L607.00,410.45 L607.50,414.27 L608.00,418.20 L608.50,421.65 L609.00,424.57 L609.50,426.94 L610.00,429.40 L610.50,429.75 L611.00,430.73 L611.50,431.96 L612.00,432.17 L612.50,433.06 L613.00,433.15 L613.50,433.58 L614.00,433.66 L614.50,433.98 L615.00,433.98 L615.50,434.15 L616.00,434.04 L616.50,434.24 L617.00,434.15 L617.50,433.93 L618.00,433.80 L618.50,433.85 L619.00,434.30 L619.50,433.60 L620.00,434.26 L620.50,434.03 L621.00,434.42 L621.50,434.30 L622.00,434.07 L622.50,434.27 L623.00,433.71 L623.50,434.36 L624.00,434.42 L624.50,433.85 L625.00,434.54 L625.50,434.30 L626.00,434.38 L626.50,433.99 L627.00,434.51 L627.50,434.51 L628.00,434.37 L628.50,434.14 L629.00,434.58 L629.50,434.71 L630.00,434.51 L630.50,434.67 L631.00,434.28 L631.50,434.47 L632.00,434.53 L632.50,434.48 L633.00,435.16 L633.50,434.57 L634.00,434.33 L634.50,434.68 L635.00,434.21 L635.50,434.58 L636.00,434.68 L636.50,434.37 L637.00,434.42 L637.50,434.27 L638.00,434.55 L638.50,434.35 L639.00,434.96 L639.50,434.69 L640.00,434.48 L640.50,434.18 L641.00,435.05 L641.50,434.87 L642.00,434.66 L642.50,434.60 L643.00,434.60 L643.50,434.44 L644.00,435.03 L644.50,434.61 L645.00,434.20 L645.50,434.40 L646.00,433.92 L646.50,434.73 L647.00,434.76 L647.50,435.01 L648.00,435.10 L648.50,434.38 L649.00,434.69 L649.50,434.82 L650.00,434.77 L650.50,434.45 L651.00,434.78 L651.50,434.70" fill="none" stroke="#9a9a9a" stroke-width="3.0" stroke-opacity="0.45"/>
<path d="M531.50,434.55 L532.00,434.55 L532.50,434.55 L533.00,434.55 L533.50,434.55 L534.00,434.55 L534.50,434.54 L535.00,434.54 L535.50,434.54 L536.00,434.54 L536.50,434.54 L537.00,434.53 L537.50,434.53 L538.00,434.53 L538.50,434.52 L539.00,434.52 L539.50,434.51 L540.00,434.51 L540.50,434.50 L541.00,434.50 L541.50,434.49 L542.00,434.49 L542.50,434.48 L543.00,434.48 L543.50,434.47 L544.00,434.46 L544.50,434.46 L545.00,434.45 L545.50,434.44 L546.00,434.43 L546.50,434.42 L547.00,434.40 L547.50,434.39 L548.00,434.37 L548.50,434.35 L549.00,434.32 L549.50,434.30 L550.00,434.28 L550.50,434.25 L551.00,434.21 L551.50,434.16 L552.00,434.11 L552.50,434.04 L553.00,433.96 L553.50,433.88 L554.00,433.78 L554.50,433.67 L555.00,433.55 L555.50,433.42 L556.00,433.27 L556.50,433.03 L557.00,432.64 L557.50,432.13 L558.00,431.54 L558.50,430.91 L559.00,430.30 L559.50,429.62 L560.00,428.83 L560.50,428.00 L561.00,427.21 L561.50,426.54 L562.00,426.05 L562.50,425.82 L563.00,425.86 L563.50,426.08 L564.00,426.39 L564.50,426.72 L565.00,426.96 L565.50,427.19 L566.00,427.47 L566.50,427.76 L567.00,428.01 L567.50,428.17 L568.00,428.17 L568.50,427.98 L569.00,427.71 L569.50,427.44 L570.00,427.16 L570.50,426.90 L571.00,426.65 L571.50,426.41 L572.00,426.13 L572.50,425.85 L573.00,425.58 L573.50,425.35 L574.00,425.17 L574.50,425.04 L575.00,424.98 L575.50,424.94 L576.00,424.91 L576.50,424.88 L577.00,424.85 L577.50,424.83 L578.00,424.81 L578.50,424.80 L579.00,424.80 L579.50,424.82 L580.00,424.86 L580.50,424.93 L581.00,425.01 L581.50,425.09 L582.00,425.17 L582.50,425.24 L583.00,425.28 L583.50,425.30 L584.00,425.28 L584.50,425.23 L585.00,425.16 L585.50,425.06 L586.00,424.95 L586.50,424.84 L587.00,424.73 L587.50,424.62 L588.00,424.53 L588.50,424.46 L589.00,424.41 L589.50,424.40 L590.00,424.42 L590.50,424.47 L591.00,424.53 L591.50,424.61 L592.00,424.69 L592.50,424.78 L593.00,424.86 L593.50,424.98 L594.00,425.14 L594.50,425.31 L595.00,425.49 L595.50,425.63 L596.00,425.71 L596.50,425.71 L597.00,425.65 L597.50,425.55 L598.00,425.41 L598.50,425.19 L599.00,424.84 L599.50,424.39 L600.00,423.84 L600.50,423.13 L601.00,421.94 L601.50,420.18 L602.00,418.08 L602.50,415.90 L603.00,413.20 L603.50,409.96 L604.00,407.04 L604.50,405.16 L605.00,403.79 L605.50,403.47 L606.00,404.77 L606.50,407.30 L607.00,410.40 L607.50,414.33 L608.00,418.35 L608.50,421.72 L609.00,424.52 L609.50,427.05 L610.00,429.07 L610.50,430.37 L611.00,431.26 L611.50,432.02 L612.00,432.63 L612.50,433.06 L613.00,433.30 L613.50,433.43 L614.00,433.54 L614.50,433.65 L615.00,433.74 L615.50,433.82 L616.00,433.90 L616.50,433.96 L617.00,434.02 L617.50,434.06 L618.00,434.10 L618.50,434.14 L619.00,434.16 L619.50,434.19 L620.00,434.20 L620.50,434.21 L621.00,434.22 L621.50,434.24 L622.00,434.25 L622.50,434.26 L623.00,434.27 L623.50,434.28 L624.00,434.29 L624.50,434.30 L625.00,434.31 L625.50,434.32 L626.00,434.33 L626.50,434.34 L627.00,434.35 L627.50,434.36 L628.00,434.36 L628.50,434.37 L629.00,434.38 L629.50,434.39 L630.00,434.40 L630.50,434.40 L631.00,434.41 L631.50,434.42 L632.00,434.43 L632.50,434.43 L633.00,434.44 L633.50,434.44 L634.00,434.45 L634.50,434.46 L635.00,434.46 L635.50,434.47 L636.00,434.47 L636.50,434.48 L637.00,434.48 L637.50,434.49 L638.00,434.49 L638.50,434.50 L639.00,434.50 L639.50,434.50 L640.00,434.51 L640.50,434.51 L641.00,434.51 L641.50,434.52 L642.00,434.52 L642.50,434.52 L643.00,434.53 L643.50,434.53 L644.00,434.53 L644.50,434.53 L645.00,434.54 L645.50,434.54 L646.00,434.54 L646.50,434.54 L647.00,434.54 L647.50,434.54 L648.00,434.55 L648.50,434.55 L649.00,434.55 L649.50,434.55 L650.00,434.55 L650.50,434.55 L651.00,434.55 L651.50,434.55" fill="none" stroke="#f01818" stroke-width="2.0" stroke-linejoin="round"/>
<path d="M531.50,434.90 L532.00,434.90 L532.50,434.90 L533.00,434.90 L533.50,434.90 L534.00,434.90 L534.50,434.90 L535.00,434.90 L535.50,434.90 L536.00,434.89 L536.50,434.89 L537.00,434.89 L537.50,434.89 L538.00,434.89 L538.50,434.89 L539.00,434.89 L539.50,434.88 L540.00,434.88 L540.50,434.88 L541.00,434.88 L541.50,434.87 L542.00,434.87 L542.50,434.87 L543.00,434.86 L543.50,434.86 L544.00,434.86 L544.50,434.85 L545.00,434.85 L545.50,434.85 L546.00,434.84 L546.50,434.84 L547.00,434.83 L547.50,434.83 L548.00,434.82 L548.50,434.82 L549.00,434.81 L549.50,434.81 L550.00,434.80 L550.50,434.79 L551.00,434.77 L551.50,434.74 L552.00,434.71 L552.50,434.66 L553.00,434.61 L553.50,434.54 L554.00,434.47 L554.50,434.39 L555.00,434.30 L555.50,434.21 L556.00,434.10 L556.50,433.91 L557.00,433.57 L557.50,433.15 L558.00,432.66 L558.50,432.17 L559.00,431.70 L559.50,431.19 L560.00,430.57 L560.50,429.93 L561.00,429.33 L561.50,428.84 L562.00,428.55 L562.50,428.53 L563.00,428.78 L563.50,429.23 L564.00,429.79 L564.50,430.38 L565.00,430.90 L565.50,431.40 L566.00,431.97 L566.50,432.56 L567.00,433.11 L567.50,433.59 L568.00,433.94 L568.50,434.12 L569.00,434.24 L569.50,434.34 L570.00,434.43 L570.50,434.50 L571.00,434.55 L571.50,434.59 L572.00,434.60 L572.50,434.60 L573.00,434.60 L573.50,434.60 L574.00,434.60 L574.50,434.60 L575.00,434.60 L575.50,434.60 L576.00,434.60 L576.50,434.60 L577.00,434.60 L577.50,434.60 L578.00,434.60 L578.50,434.60 L579.00,434.60 L579.50,434.60 L580.00,434.60 L580.50,434.60 L581.00,434.60 L581.50,434.60 L582.00,434.60 L582.50,434.60 L583.00,434.60 L583.50,434.60 L584.00,434.60 L584.50,434.60 L585.00,434.60 L585.50,434.60 L586.00,434.60 L586.50,434.60 L587.00,434.60 L587.50,434.60 L588.00,434.60 L588.50,434.60 L589.00,434.60 L589.50,434.60 L590.00,434.60 L590.50,434.60 L591.00,434.60 L591.50,434.59 L592.00,434.58 L592.50,434.57 L593.00,434.56 L593.50,434.55 L594.00,434.53 L594.50,434.51 L595.00,434.49 L595.50,434.47 L596.00,434.44 L596.50,434.41 L597.00,434.38 L597.50,434.34 L598.00,434.30 L598.50,434.20 L599.00,434.01 L599.50,433.72 L600.00,433.34 L600.50,432.90 L601.00,432.11 L601.50,430.80 L602.00,429.17 L602.50,427.40 L603.00,425.11 L603.50,422.27 L604.00,419.61 L604.50,417.71 L605.00,416.06 L605.50,415.30 L606.00,416.07 L606.50,417.79 L607.00,419.70 L607.50,422.32 L608.00,425.15 L608.50,427.40 L609.00,429.02 L609.50,430.46 L610.00,431.61 L610.50,432.40 L611.00,432.94 L611.50,433.41 L612.00,433.79 L612.50,434.06 L613.00,434.20 L613.50,434.27 L614.00,434.34 L614.50,434.39 L615.00,434.45 L615.50,434.49 L616.00,434.53 L616.50,434.57 L617.00,434.60 L617.50,434.63 L618.00,434.65 L618.50,434.67 L619.00,434.68 L619.50,434.69 L620.00,434.70 L620.50,434.71 L621.00,434.71 L621.50,434.72 L622.00,434.73 L622.50,434.73 L623.00,434.74 L623.50,434.75 L624.00,434.75 L624.50,434.76 L625.00,434.76 L625.50,434.77 L626.00,434.77 L626.50,434.78 L627.00,434.78 L627.50,434.79 L628.00,434.79 L628.50,434.80 L629.00,434.80 L629.50,434.81 L630.00,434.81 L630.50,434.82 L631.00,434.82 L631.50,434.82 L632.00,434.83 L632.50,434.83 L633.00,434.84 L633.50,434.84 L634.00,434.84 L634.50,434.85 L635.00,434.85 L635.50,434.85 L636.00,434.86 L636.50,434.86 L637.00,434.86 L637.50,434.86 L638.00,434.87 L638.50,434.87 L639.00,434.87 L639.50,434.87 L640.00,434.88 L640.50,434.88 L641.00,434.88 L641.50,434.88 L642.00,434.88 L642.50,434.88 L643.00,434.89 L643.50,434.89 L644.00,434.89 L644.50,434.89 L645.00,434.89 L645.50,434.89 L646.00,434.89 L646.50,434.89 L647.00,434.90 L647.50,434.90 L648.00,434.90 L648.50,434.90 L649.00,434.90 L649.50,434.90 L650.00,434.90 L650.50,434.90 L651.00,434.90 L651.50,434.90" fill="none" stroke="#2b2be6" stroke-width="1.3" stroke-linejoin="round"/>
<path d="M531.50,434.35 L532.00,434.35 L532.50,434.35 L533.00,434.35 L533.50,434.35 L534.00,434.35 L534.50,434.35 L535.00,434.35 L535.50,434.34 L536.00,434.34 L536.50,434.34 L537.00,434.34 L537.50,434.34 L538.00,434.34 L538.50,434.34 L539.00,434.33 L539.50,434.33 L540.00,434.33 L540.50,434.33 L541.00,434.32 L541.50,434.32 L542.00,434.32 L542.50,434.32 L543.00,434.31 L543.50,434.31 L544.00,434.31 L544.50,434.30 L545.00,434.30 L545.50,434.30 L546.00,434.29 L546.50,434.28 L547.00,434.27 L547.50,434.26 L548.00,434.24 L548.50,434.23 L549.00,434.21 L549.50,434.20 L550.00,434.18 L550.50,434.16 L551.00,434.14 L551.50,434.12 L552.00,434.10 L552.50,434.08 L553.00,434.06 L553.50,434.03 L554.00,434.01 L554.50,433.98 L555.00,433.95 L555.50,433.91 L556.00,433.87 L556.50,433.82 L557.00,433.76 L557.50,433.68 L558.00,433.57 L558.50,433.44 L559.00,433.30 L559.50,433.13 L560.00,432.96 L560.50,432.78 L561.00,432.59 L561.50,432.39 L562.00,432.20 L562.50,432.00 L563.00,431.78 L563.50,431.55 L564.00,431.30 L564.50,431.04 L565.00,430.76 L565.50,430.48 L566.00,430.19 L566.50,429.90 L567.00,429.60 L567.50,429.28 L568.00,428.93 L568.50,428.55 L569.00,428.17 L569.50,427.79 L570.00,427.43 L570.50,427.10 L571.00,426.80 L571.50,426.52 L572.00,426.23 L572.50,425.95 L573.00,425.68 L573.50,425.45 L574.00,425.27 L574.50,425.14 L575.00,425.08 L575.50,425.04 L576.00,425.01 L576.50,424.98 L577.00,424.95 L577.50,424.93 L578.00,424.91 L578.50,424.90 L579.00,424.90 L579.50,424.92 L580.00,424.96 L580.50,425.03 L581.00,425.11 L581.50,425.19 L582.00,425.27 L582.50,425.34 L583.00,425.38 L583.50,425.40 L584.00,425.38 L584.50,425.33 L585.00,425.26 L585.50,425.16 L586.00,425.05 L586.50,424.94 L587.00,424.83 L587.50,424.72 L588.00,424.63 L588.50,424.56 L589.00,424.51 L589.50,424.50 L590.00,424.52 L590.50,424.57 L591.00,424.63 L591.50,424.72 L592.00,424.81 L592.50,424.90 L593.00,425.00 L593.50,425.13 L594.00,425.30 L594.50,425.50 L595.00,425.70 L595.50,425.86 L596.00,425.97 L596.50,426.00 L597.00,425.97 L597.50,425.91 L598.00,425.81 L598.50,425.68 L599.00,425.54 L599.50,425.38 L600.00,425.20 L600.50,424.93 L601.00,424.54 L601.50,424.07 L602.00,423.61 L602.50,423.20 L603.00,422.79 L603.50,422.39 L604.00,422.13 L604.50,422.15 L605.00,422.43 L605.50,422.87 L606.00,423.40 L606.50,424.21 L607.00,425.40 L607.50,426.71 L608.00,427.90 L608.50,429.02 L609.00,430.20 L609.50,431.29 L610.00,432.16 L610.50,432.67 L611.00,433.02 L611.50,433.31 L612.00,433.54 L612.50,433.70 L613.00,433.80 L613.50,433.86 L614.00,433.91 L614.50,433.95 L615.00,433.99 L615.50,434.03 L616.00,434.06 L616.50,434.09 L617.00,434.12 L617.50,434.14 L618.00,434.16 L618.50,434.17 L619.00,434.18 L619.50,434.19 L620.00,434.20 L620.50,434.21 L621.00,434.21 L621.50,434.22 L622.00,434.22 L622.50,434.22 L623.00,434.23 L623.50,434.23 L624.00,434.24 L624.50,434.24 L625.00,434.25 L625.50,434.25 L626.00,434.26 L626.50,434.26 L627.00,434.26 L627.50,434.27 L628.00,434.27 L628.50,434.27 L629.00,434.28 L629.50,434.28 L630.00,434.28 L630.50,434.29 L631.00,434.29 L631.50,434.29 L632.00,434.30 L632.50,434.30 L633.00,434.30 L633.50,434.30 L634.00,434.31 L634.50,434.31 L635.00,434.31 L635.50,434.31 L636.00,434.32 L636.50,434.32 L637.00,434.32 L637.50,434.32 L638.00,434.33 L638.50,434.33 L639.00,434.33 L639.50,434.33 L640.00,434.33 L640.50,434.33 L641.00,434.33 L641.50,434.34 L642.00,434.34 L642.50,434.34 L643.00,434.34 L643.50,434.34 L644.00,434.34 L644.50,434.34 L645.00,434.34 L645.50,434.34 L646.00,434.35 L646.50,434.35 L647.00,434.35 L647.50,434.35 L648.00,434.35 L648.50,434.35 L649.00,434.35 L649.50,434.35 L650.00,434.35 L650.50,434.35 L651.00,434.35 L651.50,434.35" fill="none" stroke="#f51ef0" stroke-width="1.4" stroke-linejoin="round"/>
<path d="M531.50,482.23 L532.00,481.87 L532.50,481.81 L533.00,481.73 L533.50,481.75 L534.00,481.63 L534.50,481.72 L535.00,481.92 L535.50,481.89 L536.00,482.08 L536.50,482.00 L537.00,481.86 L537.50,481.39 L538.00,481.79 L538.50,481.91 L539.00,481.25 L539.50,481.26 L540.00,481.25 L540.50,481.18 L541.00,481.31 L541.50,481.07 L542.00,481.32 L542.50,480.83 L543.00,480.98 L543.50,480.75 L544.00,480.46 L544.50,480.76 L545.00,480.26 L545.50,480.08 L546.00,479.50 L546.50,479.33 L547.00,478.80 L547.50,478.03 L548.00,476.97 L548.50,476.90 L549.00,476.09 L549.50,475.16 L550.00,474.41 L550.50,473.70 L551.00,473.21 L551.50,472.65 L552.00,472.92 L552.50,473.33 L553.00,473.64 L553.50,474.25 L554.00,475.74 L554.50,476.22 L555.00,476.76 L555.50,477.42 L556.00,477.52 L556.50,478.39 L557.00,479.17 L557.50,479.97 L558.00,479.48 L558.50,480.11 L559.00,481.01 L559.50,480.89 L560.00,480.99 L560.50,481.32 L561.00,481.10 L561.50,481.18 L562.00,481.48 L562.50,481.58 L563.00,481.16 L563.50,481.85 L564.00,481.08 L564.50,481.38 L565.00,482.36 L565.50,481.49 L566.00,481.81 L566.50,481.42 L567.00,481.62 L567.50,481.54 L568.00,481.64 L568.50,481.92 L569.00,482.20 L569.50,482.00 L570.00,482.18 L570.50,481.68 L571.00,482.18 L571.50,481.97 L572.00,482.18 L572.50,481.74 L573.00,481.79 L573.50,482.20 L574.00,482.02 L574.50,481.90 L575.00,481.71 L575.50,481.86 L576.00,482.01 L576.50,482.07 L577.00,481.75 L577.50,481.81 L578.00,482.00 L578.50,481.62 L579.00,482.14 L579.50,481.90 L580.00,481.87 L580.50,481.30 L581.00,481.50 L581.50,481.64 L582.00,481.76 L582.50,481.63 L583.00,481.99 L583.50,481.93 L584.00,481.83 L584.50,481.39 L585.00,482.25 L585.50,481.83 L586.00,482.04 L586.50,481.72 L587.00,481.89 L587.50,482.06 L588.00,481.94 L588.50,482.12 L589.00,481.83 L589.50,482.37 L590.00,481.40 L590.50,481.73 L591.00,482.11 L591.50,481.80 L592.00,481.74 L592.50,481.41 L593.00,482.14 L593.50,481.36 L594.00,481.96 L594.50,481.87 L595.00,482.03 L595.50,482.17 L596.00,481.62 L596.50,481.59 L597.00,481.70 L597.50,481.34 L598.00,481.96 L598.50,481.64 L599.00,481.77 L599.50,481.43 L600.00,481.70 L600.50,481.53 L601.00,481.65 L601.50,481.37 L602.00,481.88 L602.50,481.44 L603.00,480.94 L603.50,481.71 L604.00,481.45 L604.50,481.27 L605.00,482.08 L605.50,481.40 L606.00,481.04 L606.50,481.18 L607.00,481.37 L607.50,481.17 L608.00,481.47 L608.50,481.36 L609.00,480.82 L609.50,480.94 L610.00,480.99 L610.50,480.61 L611.00,480.47 L611.50,480.66 L612.00,480.39 L612.50,479.73 L613.00,479.71 L613.50,479.47 L614.00,479.20 L614.50,478.63 L615.00,478.62 L615.50,477.38 L616.00,476.50 L616.50,475.72 L617.00,473.71 L617.50,472.25 L618.00,470.49 L618.50,467.38 L619.00,464.47 L619.50,461.67 L620.00,458.33 L620.50,455.71 L621.00,454.57 L621.50,454.86 L622.00,457.17 L622.50,460.04 L623.00,464.02 L623.50,466.68 L624.00,469.26 L624.50,471.68 L625.00,473.64 L625.50,474.82 L626.00,476.17 L626.50,477.70 L627.00,477.70 L627.50,478.48 L628.00,479.34 L628.50,479.83 L629.00,479.50 L629.50,480.37 L630.00,480.13 L630.50,480.81 L631.00,480.68 L631.50,480.62 L632.00,480.99 L632.50,481.05 L633.00,480.81 L633.50,481.62 L634.00,481.07 L634.50,481.51 L635.00,481.16 L635.50,480.88 L636.00,481.10 L636.50,481.40 L637.00,481.64 L637.50,481.94 L638.00,481.56 L638.50,481.49 L639.00,481.29 L639.50,481.61 L640.00,481.72 L640.50,481.11 L641.00,482.01 L641.50,481.99 L642.00,482.29 L642.50,481.51 L643.00,481.76 L643.50,481.77 L644.00,481.45 L644.50,481.58 L645.00,481.56 L645.50,481.95 L646.00,481.94 L646.50,482.18 L647.00,481.75 L647.50,481.51 L648.00,481.97 L648.50,481.97 L649.00,482.05 L649.50,482.20 L650.00,481.75 L650.50,482.10 L651.00,481.66 L651.50,481.95" fill="none" stroke="#9a9a9a" stroke-width="3.0" stroke-opacity="0.45"/>
<path d="M531.50,481.87 L532.00,481.85 L532.50,481.84 L533.00,481.83 L533.50,481.82 L534.00,481.80 L534.50,481.79 L535.00,481.77 L535.50,481.75 L536.00,481.73 L536.50,481.71 L537.00,481.68 L537.50,481.66 L538.00,481.63 L538.50,481.59 L539.00,481.56 L539.50,481.52 L540.00,481.47 L540.50,481.42 L541.00,481.36 L541.50,481.29 L542.00,481.21 L542.50,481.11 L543.00,481.00 L543.50,480.86 L544.00,480.69 L544.50,480.48 L545.00,480.23 L545.50,479.93 L546.00,479.57 L546.50,479.14 L547.00,478.64 L547.50,478.06 L548.00,477.40 L548.50,476.68 L549.00,475.90 L549.50,475.10 L550.00,474.33 L550.50,473.66 L551.00,473.15 L551.50,472.89 L552.00,472.92 L552.50,473.23 L553.00,473.78 L553.50,474.48 L554.00,475.26 L554.50,476.05 L555.00,476.82 L555.50,477.53 L556.00,478.17 L556.50,478.73 L557.00,479.22 L557.50,479.64 L558.00,479.98 L558.50,480.27 L559.00,480.51 L559.50,480.71 L560.00,480.87 L560.50,481.01 L561.00,481.12 L561.50,481.21 L562.00,481.29 L562.50,481.35 L563.00,481.41 L563.50,481.46 L564.00,481.50 L564.50,481.54 L565.00,481.57 L565.50,481.60 L566.00,481.63 L566.50,481.66 L567.00,481.68 L567.50,481.70 L568.00,481.72 L568.50,481.74 L569.00,481.75 L569.50,481.77 L570.00,481.78 L570.50,481.79 L571.00,481.80 L571.50,481.81 L572.00,481.82 L572.50,481.83 L573.00,481.84 L573.50,481.84 L574.00,481.85 L574.50,481.86 L575.00,481.86 L575.50,481.87 L576.00,481.87 L576.50,481.88 L577.00,481.88 L577.50,481.88 L578.00,481.89 L578.50,481.89 L579.00,481.89 L579.50,481.89 L580.00,481.89 L580.50,481.90 L581.00,481.90 L581.50,481.90 L582.00,481.90 L582.50,481.90 L583.00,481.90 L583.50,481.90 L584.00,481.90 L584.50,481.90 L585.00,481.90 L585.50,481.90 L586.00,481.89 L586.50,481.89 L587.00,481.89 L587.50,481.89 L588.00,481.89 L588.50,481.88 L589.00,481.88 L589.50,481.88 L590.00,481.87 L590.50,481.87 L591.00,481.87 L591.50,481.86 L592.00,481.86 L592.50,481.85 L593.00,481.85 L593.50,481.84 L594.00,481.83 L594.50,481.83 L595.00,481.82 L595.50,481.81 L596.00,481.80 L596.50,481.79 L597.00,481.78 L597.50,481.77 L598.00,481.76 L598.50,481.75 L599.00,481.74 L599.50,481.72 L600.00,481.71 L600.50,481.69 L601.00,481.67 L601.50,481.65 L602.00,481.63 L602.50,481.61 L603.00,481.59 L603.50,481.56 L604.00,481.53 L604.50,481.50 L605.00,481.46 L605.50,481.43 L606.00,481.39 L606.50,481.34 L607.00,481.29 L607.50,481.23 L608.00,481.17 L608.50,481.10 L609.00,481.03 L609.50,480.94 L610.00,480.84 L610.50,480.73 L611.00,480.60 L611.50,480.46 L612.00,480.29 L612.50,480.09 L613.00,479.86 L613.50,479.58 L614.00,479.24 L614.50,478.82 L615.00,478.30 L615.50,477.63 L616.00,476.78 L616.50,475.68 L617.00,474.28 L617.50,472.52 L618.00,470.34 L618.50,467.72 L619.00,464.69 L619.50,461.41 L620.00,458.22 L620.50,455.71 L621.00,454.52 L621.50,455.04 L622.00,457.10 L622.50,460.10 L623.00,463.40 L623.50,466.56 L624.00,469.35 L624.50,471.70 L625.00,473.63 L625.50,475.17 L626.00,476.38 L626.50,477.32 L627.00,478.06 L627.50,478.64 L628.00,479.09 L628.50,479.46 L629.00,479.76 L629.50,480.01 L630.00,480.22 L630.50,480.40 L631.00,480.56 L631.50,480.69 L632.00,480.81 L632.50,480.91 L633.00,481.01 L633.50,481.09 L634.00,481.16 L634.50,481.23 L635.00,481.28 L635.50,481.34 L636.00,481.39 L636.50,481.43 L637.00,481.47 L637.50,481.51 L638.00,481.54 L638.50,481.57 L639.00,481.60 L639.50,481.62 L640.00,481.65 L640.50,481.67 L641.00,481.69 L641.50,481.71 L642.00,481.73 L642.50,481.74 L643.00,481.76 L643.50,481.77 L644.00,481.79 L644.50,481.80 L645.00,481.81 L645.50,481.82 L646.00,481.83 L646.50,481.84 L647.00,481.85 L647.50,481.86 L648.00,481.87 L648.50,481.88 L649.00,481.89 L649.50,481.89 L650.00,481.90 L650.50,481.91 L651.00,481.91 L651.50,481.92" fill="none" stroke="#6a1616" stroke-width="2.0" stroke-linejoin="round"/>
<rect x="403.5" y="244.5" width="120.90" height="239.40" fill="none" stroke="#2a2a2a" stroke-width="1.2"/>
<rect x="531.0" y="244.5" width="121.20" height="239.40" fill="none" stroke="#2a2a2a" stroke-width="1.2"/>
<line x1="416.9" y1="244.5" x2="416.9" y2="247.5" stroke="#333" stroke-width="1"/>
<line x1="416.9" y1="483.9" x2="416.9" y2="486.9" stroke="#333" stroke-width="1"/>
<line x1="457.3" y1="244.5" x2="457.3" y2="247.5" stroke="#333" stroke-width="1"/>
<line x1="457.3" y1="483.9" x2="457.3" y2="486.9" stroke="#333" stroke-width="1"/>
<line x1="497.4" y1="244.5" x2="497.4" y2="247.5" stroke="#333" stroke-width="1"/>
<line x1="497.4" y1="483.9" x2="497.4" y2="486.9" stroke="#333" stroke-width="1"/>
<line x1="543.3" y1="244.5" x2="543.3" y2="247.5" stroke="#333" stroke-width="1"/>
<line x1="543.3" y1="483.9" x2="543.3" y2="486.9" stroke="#333" stroke-width="1"/>
<line x1="567.5" y1="244.5" x2="567.5" y2="247.5" stroke="#333" stroke-width="1"/>
<line x1="567.5" y1="483.9" x2="567.5" y2="486.9" stroke="#333" stroke-width="1"/>
<line x1="591.6" y1="244.5" x2="591.6" y2="247.5" stroke="#333" stroke-width="1"/>
<line x1="591.6" y1="483.9" x2="591.6" y2="486.9" stroke="#333" stroke-width="1"/>
<line x1="615.7" y1="244.5" x2="615.7" y2="247.5" stroke="#333" stroke-width="1"/>
<line x1="615.7" y1="483.9" x2="615.7" y2="486.9" stroke="#333" stroke-width="1"/>
<line x1="639.9" y1="244.5" x2="639.9" y2="247.5" stroke="#333" stroke-width="1"/>
<line x1="639.9" y1="483.9" x2="639.9" y2="486.9" stroke="#333" stroke-width="1"/>
<defs><linearGradient id="gbar" x1="0" y1="0" x2="0" y2="1">
<stop offset="0" stop-color="#5a34b2"/><stop offset="0.1" stop-color="#4848b4"/><stop offset="0.2" stop-color="#3470b8"/><stop offset="0.28" stop-color="#2898c0"/>
<stop offset="0.34" stop-color="#20c0c8"/><stop offset="0.42" stop-color="#3aa8a4"/><stop offset="0.5" stop-color="#6a8a80"/><stop offset="0.58" stop-color="#9a7660"/>
<stop offset="0.66" stop-color="#c46a46"/><stop offset="0.8" stop-color="#cc5630"/><stop offset="1" stop-color="#c42c06"/></linearGradient></defs>
<rect x="664.4" y="299.5" width="5" height="165.5" fill="url(#gbar)"/>
<polygon points="666.8,293.9 661.0,300.6 672.6,300.6" fill="#5630b0"/>
<polygon points="666.7,475.8 661.0,464.2 672.4,464.2" fill="#c02a04"/></g>
<g id="labels"><text x="0.6" y="20.7" font-family="Liberation Sans, sans-serif" font-weight="bold" font-size="16" fill="#000">a</text>
<text x="174.6" y="83.8" font-family="Liberation Sans, sans-serif" font-weight="bold" font-style="italic" font-size="13.8" fill="#e8609a" stroke="#e8609a" stroke-width="0.35">B</text>
<text x="137.8" y="131.6" font-family="Liberation Sans, sans-serif" font-weight="bold" font-style="italic" font-size="14.3" fill="#5a0f8f" stroke="#5a0f8f" stroke-width="0.35">A</text>
<text x="112.8" y="214.4" font-family="Liberation Sans, sans-serif" font-weight="bold" font-style="italic" font-size="14.2" fill="#6a1a9c" stroke="#6a1a9c" stroke-width="0.35">A</text>
<text x="122.9" y="214.4" font-family="Liberation Sans, sans-serif" font-weight="bold" font-style="italic" font-size="14.2" fill="#e8609a" stroke="#e8609a" stroke-width="0.35" textLength="9.6" lengthAdjust="spacingAndGlyphs">B</text>
<text x="132.0" y="214.4" font-family="Liberation Sans, sans-serif" font-weight="bold" font-size="14.2" fill="#1fb4f0" stroke="#1fb4f0" stroke-width="0.35" textLength="10.4" lengthAdjust="spacingAndGlyphs">O</text>
<text x="143.0" y="215.6" font-family="Liberation Sans, sans-serif" font-weight="bold" font-size="11" fill="#000" stroke="#000" stroke-width="0.2">3</text>
<text x="284.3" y="107.9" font-family="Liberation Sans, sans-serif" font-weight="bold" font-style="italic" font-size="13.8" fill="#6a1a9c" stroke="#6a1a9c" stroke-width="0.35">A</text>
<text x="293.8" y="107.9" font-family="Liberation Sans, sans-serif" font-weight="bold" font-size="13.8" fill="#1fb4f0" stroke="#1fb4f0" stroke-width="0.35" textLength="9.4" lengthAdjust="spacingAndGlyphs">O</text>
<text x="304.4" y="107.9" font-family="Liberation Sans, sans-serif" font-weight="bold" font-size="10.8" fill="#1fb4f0" stroke="#1fb4f0" stroke-width="0.35" textLength="16.4" lengthAdjust="spacingAndGlyphs">12</text>
<text x="287.4" y="217.8" font-family="Liberation Sans, sans-serif" font-weight="bold" font-style="italic" font-size="13.8" fill="#e8609a" stroke="#e8609a" stroke-width="0.35" textLength="9.4" lengthAdjust="spacingAndGlyphs">B</text>
<text x="296.4" y="217.8" font-family="Liberation Sans, sans-serif" font-weight="bold" font-size="13.8" fill="#1fb4f0" stroke="#1fb4f0" stroke-width="0.35" textLength="9.4" lengthAdjust="spacingAndGlyphs">O</text>
<text x="307.2" y="217.8" font-family="Liberation Sans, sans-serif" font-weight="bold" font-size="11" fill="#1fb4f0" stroke="#1fb4f0" stroke-width="0.35" textLength="7.8" lengthAdjust="spacingAndGlyphs">6</text><text x="381.4" y="21.0" font-family="Liberation Sans, sans-serif" font-weight="bold" font-size="16" fill="#000">b</text>
<text x="508.5" y="135.5" font-family="Liberation Sans, sans-serif" font-weight="bold" font-size="14.6" fill="#f7936a" stroke="#f7936a" stroke-width="0.3" text-anchor="middle">T</text>
<text x="560.8" y="126.0" font-family="Liberation Sans, sans-serif" font-weight="bold" font-size="14" fill="#1ab0f0" stroke="#1ab0f0" stroke-width="0.3" text-anchor="middle">O</text>
<text x="550.2" y="163.5" font-family="Liberation Sans, sans-serif" font-weight="bold" font-size="14.2" fill="#8000ff" stroke="#8000ff" stroke-width="0.3" text-anchor="middle">R</text>
<text x="641.2" y="87.9" font-family="Liberation Sans, sans-serif" font-weight="bold" font-style="italic" font-size="15.6" fill="#000" textLength="15.6" lengthAdjust="spacingAndGlyphs">M</text>
<text x="656.3" y="91.7" font-family="Liberation Sans, sans-serif" font-weight="bold" font-size="10.4" fill="#000">C</text>
<text x="641.2" y="120.3" font-family="Liberation Sans, sans-serif" font-weight="bold" font-style="italic" font-size="15.6" fill="#000" textLength="15.6" lengthAdjust="spacingAndGlyphs">M</text>
<text x="656.3" y="124.1" font-family="Liberation Sans, sans-serif" font-weight="bold" font-size="10.4" fill="#000">A</text>
<text x="641.2" y="152.6" font-family="Liberation Sans, sans-serif" font-weight="bold" font-style="italic" font-size="15.6" fill="#000" textLength="15.6" lengthAdjust="spacingAndGlyphs">M</text>
<text x="656.3" y="156.4" font-family="Liberation Sans, sans-serif" font-weight="bold" font-size="10.4" fill="#000">B</text><text x="40.2" y="488.29" font-family="Liberation Sans, sans-serif" font-size="12.6" fill="#222" text-anchor="end" textLength="19.3" lengthAdjust="spacingAndGlyphs">200</text>
<text x="40.2" y="454.22" font-family="Liberation Sans, sans-serif" font-size="12.6" fill="#222" text-anchor="end" textLength="19.3" lengthAdjust="spacingAndGlyphs">250</text>
<text x="40.2" y="420.15" font-family="Liberation Sans, sans-serif" font-size="12.6" fill="#222" text-anchor="end" textLength="19.3" lengthAdjust="spacingAndGlyphs">300</text>
<text x="40.2" y="386.08" font-family="Liberation Sans, sans-serif" font-size="12.6" fill="#222" text-anchor="end" textLength="19.3" lengthAdjust="spacingAndGlyphs">350</text>
<text x="40.2" y="352.01" font-family="Liberation Sans, sans-serif" font-size="12.6" fill="#222" text-anchor="end" textLength="19.3" lengthAdjust="spacingAndGlyphs">400</text>
<text x="40.2" y="317.94" font-family="Liberation Sans, sans-serif" font-size="12.6" fill="#222" text-anchor="end" textLength="19.3" lengthAdjust="spacingAndGlyphs">450</text>
<text x="40.2" y="283.87" font-family="Liberation Sans, sans-serif" font-size="12.6" fill="#222" text-anchor="end" textLength="19.3" lengthAdjust="spacingAndGlyphs">500</text>
<text x="40.2" y="249.80" font-family="Liberation Sans, sans-serif" font-size="12.6" fill="#222" text-anchor="end" textLength="19.3" lengthAdjust="spacingAndGlyphs">550</text>
<text x="44.50" y="498.7" font-family="Liberation Sans, sans-serif" font-size="12.3" fill="#222" text-anchor="middle" textLength="12.8" lengthAdjust="spacingAndGlyphs">10</text>
<text x="83.75" y="498.7" font-family="Liberation Sans, sans-serif" font-size="12.3" fill="#222" text-anchor="middle" textLength="12.8" lengthAdjust="spacingAndGlyphs">15</text>
<text x="123.00" y="498.7" font-family="Liberation Sans, sans-serif" font-size="12.3" fill="#222" text-anchor="middle" textLength="12.8" lengthAdjust="spacingAndGlyphs">20</text>
<text x="162.25" y="498.7" font-family="Liberation Sans, sans-serif" font-size="12.3" fill="#222" text-anchor="middle" textLength="12.8" lengthAdjust="spacingAndGlyphs">25</text>
<text x="201.50" y="498.7" font-family="Liberation Sans, sans-serif" font-size="12.3" fill="#222" text-anchor="middle" textLength="12.8" lengthAdjust="spacingAndGlyphs">30</text>
<text x="240.75" y="498.7" font-family="Liberation Sans, sans-serif" font-size="12.3" fill="#222" text-anchor="middle" textLength="12.8" lengthAdjust="spacingAndGlyphs">35</text>
<text x="280.00" y="498.7" font-family="Liberation Sans, sans-serif" font-size="12.3" fill="#222" text-anchor="middle" textLength="12.8" lengthAdjust="spacingAndGlyphs">40</text>
<text x="319.25" y="498.7" font-family="Liberation Sans, sans-serif" font-size="12.3" fill="#222" text-anchor="middle" textLength="12.8" lengthAdjust="spacingAndGlyphs">45</text>
<text x="358.50" y="498.7" font-family="Liberation Sans, sans-serif" font-size="12.3" fill="#222" text-anchor="middle" textLength="12.8" lengthAdjust="spacingAndGlyphs">50</text>
<text x="204.3" y="514.6" font-family="Liberation Sans, sans-serif" font-size="12.5" fill="#222" text-anchor="middle">PMN-xPT</text>
<text transform="translate(13.0,373.4) rotate(-90)" font-family="Liberation Sans, sans-serif" font-size="12.5" fill="#222" text-anchor="middle" textLength="93" lengthAdjust="spacingAndGlyphs">Temperature (K)</text><text x="-0.2" y="244.0" font-family="Liberation Sans, sans-serif" font-weight="bold" font-size="16" fill="#000">c</text>
<text x="148.6" y="289.0" font-family="Liberation Sans, sans-serif" font-weight="bold" font-style="italic" font-size="11.5" fill="#111" stroke="#111" stroke-width="0.35">C (Pm3m)</text>
<line x1="181.6" y1="279.4" x2="186.2" y2="279.4" stroke="#111" stroke-width="1.1"/>
<text x="330.2" y="289.8" font-family="Liberation Sans, sans-serif" font-weight="bold" font-style="italic" font-size="11.4" fill="#111" stroke="#111" stroke-width="0.35">T<tspan stroke-width="0" font-style="normal" font-size="7.9" dy="3.3" dx="-0.6">m</tspan></text>
<text x="133.3" y="393.8" font-family="Liberation Sans, sans-serif" font-weight="bold" font-style="italic" font-size="11" fill="#111" stroke="#111" stroke-width="0.35" text-anchor="middle">R/M</text>
<text x="219.5" y="393.4" font-family="Liberation Sans, sans-serif" font-weight="bold" font-size="11.5" fill="#111" stroke="#111" stroke-width="0.35" text-anchor="middle">MPB</text>
<text x="315.2" y="393.0" font-family="Liberation Sans, sans-serif" font-weight="bold" font-style="italic" font-size="12.4" fill="#111" stroke="#111" stroke-width="0.35" text-anchor="middle">T</text>
<text x="62.8" y="421.0" font-family="Liberation Sans, sans-serif" font-weight="bold" font-size="9.5" fill="#111" stroke="#111" stroke-width="0.35" text-anchor="middle">RT</text>
<text x="67.3" y="474.2" font-family="Liberation Sans, sans-serif" font-weight="bold" font-style="italic" font-size="10.5" fill="#111" stroke="#111" stroke-width="0.35" text-anchor="middle">R3m</text>
<text x="159.4" y="474.2" font-family="Liberation Sans, sans-serif" font-weight="bold" font-style="italic" font-size="10.5" fill="#111" stroke="#111" stroke-width="0.35" text-anchor="middle">Cm</text>
<text x="233.7" y="474.2" font-family="Liberation Sans, sans-serif" font-weight="bold" font-style="italic" font-size="10.5" fill="#111" stroke="#111" stroke-width="0.35" text-anchor="middle">Pm</text>
<text x="315.6" y="474.2" font-family="Liberation Sans, sans-serif" font-weight="bold" font-style="italic" font-size="10.5" fill="#111" stroke="#111" stroke-width="0.35" text-anchor="middle">P4mm</text>
<text x="381.2" y="241.7" font-family="Liberation Sans, sans-serif" font-weight="bold" font-size="16" fill="#000">d</text><text x="406.0" y="268.0" font-family="Liberation Sans, sans-serif" font-size="11" fill="#222">20PT</text>
<text x="406.0" y="331.9" font-family="Liberation Sans, sans-serif" font-size="11" fill="#222">25PT</text>
<text x="406.0" y="380.6" font-family="Liberation Sans, sans-serif" font-size="11" fill="#222">30PT</text>
<text x="406.0" y="429.0" font-family="Liberation Sans, sans-serif" font-size="11" fill="#222">35PT</text>
<text x="406.0" y="477.4" font-family="Liberation Sans, sans-serif" font-size="11" fill="#222">45PT</text>
<text x="420.2" y="498.3" font-family="Liberation Sans, sans-serif" font-size="11.8" fill="#222" text-anchor="middle" textLength="21.6" lengthAdjust="spacingAndGlyphs">2.69</text>
<text x="497.2" y="498.3" font-family="Liberation Sans, sans-serif" font-size="11.8" fill="#222" text-anchor="middle" textLength="21.6" lengthAdjust="spacingAndGlyphs">2.72</text>
<text x="545.7" y="498.3" font-family="Liberation Sans, sans-serif" font-size="11.8" fill="#222" text-anchor="middle" textLength="21.6" lengthAdjust="spacingAndGlyphs">3.09</text>
<text x="592.0" y="498.3" font-family="Liberation Sans, sans-serif" font-size="11.8" fill="#222" text-anchor="middle" textLength="21.6" lengthAdjust="spacingAndGlyphs">3.13</text>
<text x="641.0" y="498.3" font-family="Liberation Sans, sans-serif" font-size="11.8" fill="#222" text-anchor="middle" textLength="21.6" lengthAdjust="spacingAndGlyphs">3.17</text>
<text x="443.0" y="239.4" font-family="Liberation Sans, sans-serif" font-size="14" fill="#111" textLength="20.6" lengthAdjust="spacingAndGlyphs">111</text><text x="464.6" y="239.4" font-family="Liberation Sans, sans-serif" font-size="12" fill="#111">p</text>
<text x="570.0" y="239.4" font-family="Liberation Sans, sans-serif" font-size="14" fill="#111" textLength="22.2" lengthAdjust="spacingAndGlyphs">200</text><text x="592.0" y="239.4" font-family="Liberation Sans, sans-serif" font-size="12" fill="#111">p</text>
<text x="509.6" y="514.4" font-family="Liberation Sans, sans-serif" font-size="13" fill="#222">Q (Å<tspan font-size="9" dy="-5.5">-1</tspan><tspan dy="5.5">)</tspan></text>
<text x="667.0" y="290.9" font-family="Liberation Sans, sans-serif" font-weight="bold" font-size="14" fill="#7f10ff" text-anchor="middle" textLength="8.6" lengthAdjust="spacingAndGlyphs">R</text>
<text x="679.3" y="384.6" font-family="Liberation Sans, sans-serif" font-weight="bold" font-size="11.8" fill="#0c3070" text-anchor="middle">M</text>
<text x="666.5" y="488.8" font-family="Liberation Sans, sans-serif" font-weight="bold" font-size="12.4" fill="#ff8c00" text-anchor="middle">T</text></g>
</svg>
</body></html>
